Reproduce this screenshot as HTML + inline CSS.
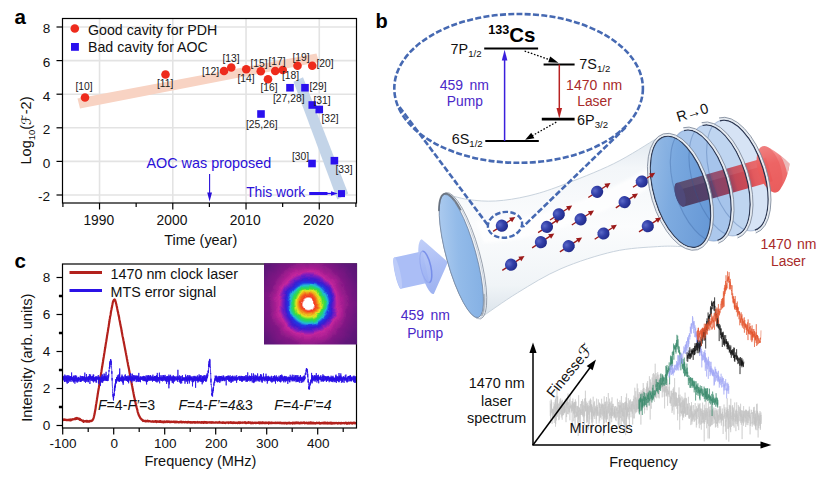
<!DOCTYPE html>
<html lang="en"><head><meta charset="utf-8"><title>Figure</title>
<style>html,body{margin:0;padding:0;background:#fff;}svg{display:block;}svg text{font-family:"Liberation Sans","DejaVu Sans",sans-serif;}svg .scr{font-family:"DejaVu Sans",sans-serif;font-style:italic;}</style></head><body>
<svg width="828" height="480" viewBox="0 0 828 480">
<rect width="828" height="480" fill="#fff"/>
<g id="panel-b">
<defs>
<linearGradient id="mirL" x1="0" y1="0" x2="1" y2="1">
 <stop offset="0" stop-color="#b6d1f1"/><stop offset="0.45" stop-color="#93bbe9"/><stop offset="1" stop-color="#80ade2"/>
</linearGradient>
<linearGradient id="mirR" x1="0" y1="0" x2="1" y2="1">
 <stop offset="0" stop-color="#9dc0e8"/><stop offset="0.4" stop-color="#76a6de"/><stop offset="1" stop-color="#5c90d2"/>
</linearGradient>
<linearGradient id="body" x1="0" y1="0" x2="0" y2="1">
 <stop offset="0" stop-color="#dfe7ee"/><stop offset="0.18" stop-color="#f3f6f9"/><stop offset="0.5" stop-color="#fbfcfd"/>
 <stop offset="0.82" stop-color="#f0f4f7"/><stop offset="1" stop-color="#d9e2ea"/>
</linearGradient>
<radialGradient id="atom" cx="0.4" cy="0.32" r="0.72">
 <stop offset="0" stop-color="#5b69c8"/><stop offset="0.45" stop-color="#3441aa"/><stop offset="1" stop-color="#1f2886"/>
</radialGradient>
<linearGradient id="redcyl" x1="0" y1="0" x2="0" y2="1">
 <stop offset="0" stop-color="#f08080"/><stop offset="0.35" stop-color="#e84848"/><stop offset="1" stop-color="#c02828"/>
</linearGradient>
<linearGradient id="redcone" x1="0" y1="0" x2="0" y2="1">
 <stop offset="0" stop-color="#f5a0a0"/><stop offset="0.4" stop-color="#ee6464"/><stop offset="1" stop-color="#e85252"/>
</linearGradient>
<linearGradient id="bluecone" x1="0" y1="0" x2="0" y2="1">
 <stop offset="0" stop-color="#bccbf8"/><stop offset="0.5" stop-color="#a5b9f4"/><stop offset="1" stop-color="#97adf0"/>
</linearGradient>
<linearGradient id="beamramp" x1="0" y1="0" x2="93" y2="0" gradientUnits="userSpaceOnUse">
 <stop offset="0" stop-color="#4b4268"/><stop offset="0.33" stop-color="#56406a"/><stop offset="0.40" stop-color="#8a4468"/>
 <stop offset="0.55" stop-color="#96425f"/><stop offset="0.62" stop-color="#c24858"/><stop offset="0.76" stop-color="#cf4c55"/>
 <stop offset="0.82" stop-color="#e35a5e"/><stop offset="1" stop-color="#ee6464"/>
</linearGradient>
<linearGradient id="mirhl" x1="0" y1="0" x2="1" y2="1">
 <stop offset="0" stop-color="#ffffff" stop-opacity="0.32"/><stop offset="0.5" stop-color="#ffffff" stop-opacity="0.05"/><stop offset="1" stop-color="#1c4f9c" stop-opacity="0.12"/>
</linearGradient>
<filter id="soft" x="-10%" y="-10%" width="120%" height="120%"><feGaussianBlur stdDeviation="0.7"/></filter>
<filter id="soft2" x="-10%" y="-10%" width="120%" height="120%"><feGaussianBlur stdDeviation="1.6"/></filter>
</defs>
<g transform="translate(397.5,273.2) rotate(-12.4)"><path d="M0,-16 L29,-16 L29,16 L0,16 A2.6,16 0 0 1 0,-16 Z" fill="#abbef6"/><ellipse cx="0.3" cy="0" rx="2.6" ry="16" fill="#bccbf8"/><path d="M31,-28 C37,-20 46,-8 51.5,0 C46,8 37,20 31,28 A7.5,28 0 0 1 31,-28 Z" fill="url(#bluecone)" opacity="0.93"/><path d="M29,-16 A5,16 0 0 1 29,16" fill="none" stroke="#6f86e6" stroke-width="1.5" opacity="0.85"/><path d="M29,-16 A5,16 0 0 0 29,16" fill="none" stroke="#8ea2ee" stroke-width="1" opacity="0.7"/></g>
<path d="M444.3,193.6 C448.2,194.6 459.4,198.3 468.0,199.5 C476.6,200.7 485.6,201.6 495.6,201.0 C505.6,200.4 517.1,198.6 528.0,196.0 C538.9,193.4 546.7,191.0 561.0,185.6 C575.3,180.2 597.6,171.6 613.7,163.7 C629.8,155.8 649.2,142.8 657.5,138.0 C665.8,133.2 662.7,135.6 663.7,135.1 L697.3,248.5 C694.4,248.2 686.6,246.8 680.0,246.5 C673.4,246.2 668.5,245.8 657.5,246.6 C646.5,247.4 629.8,247.8 613.7,251.5 C597.6,255.2 577.0,261.8 561.0,268.7 C545.0,275.6 531.0,284.5 517.5,292.8 C504.0,301.1 486.1,314.1 479.8,318.3 Z" fill="url(#body)"/>
<path d="M476,221 C530,223 590,202 652,166 L657,184 C600,216 540,240 484,243 Z" fill="#ffffff" opacity="0.8" filter="url(#soft2)"/>
<path d="M444.3,193.6 C448.2,194.6 459.4,198.3 468.0,199.5 C476.6,200.7 485.6,201.6 495.6,201.0 C505.6,200.4 517.1,198.6 528.0,196.0 C538.9,193.4 546.7,191.0 561.0,185.6 C575.3,180.2 597.6,171.6 613.7,163.7 C629.8,155.8 649.2,142.8 657.5,138.0 C665.8,133.2 662.7,135.6 663.7,135.1" fill="none" stroke="#c9d3dd" stroke-width="1"/>
<path d="M697.3,248.5 C694.4,248.2 686.6,246.8 680.0,246.5 C673.4,246.2 668.5,245.8 657.5,246.6 C646.5,247.4 629.8,247.8 613.7,251.5 C597.6,255.2 577.0,261.8 561.0,268.7 C545.0,275.6 531.0,284.5 517.5,292.8 C504.0,301.1 486.1,314.1 479.8,318.3" fill="none" stroke="#c9d3dd" stroke-width="1"/>
<ellipse transform="translate(737.4,175.5) rotate(-17.7)" cx="0" cy="0" rx="26.6" ry="57.5" fill="#d2e0f4" fill-opacity="0.9"/>
<ellipse transform="translate(719.6,180.3) rotate(-17.3)" cx="0" cy="0" rx="26.6" ry="57.5" fill="#bdd3ef" fill-opacity="0.9"/>
<ellipse transform="translate(700.8,185.5) rotate(-16.9)" cx="0" cy="0" rx="26.6" ry="57.5" fill="#a3c2ea" fill-opacity="0.9"/>
<ellipse transform="translate(680.5,191.8) rotate(-16.5)" cx="0" cy="0" rx="26.6" ry="57.5" fill="url(#mirR)" fill-opacity="0.94"/>
<g transform="translate(680,194.8) rotate(-15.9)"><path d="M0,-12.3 L93,-12.3 L93,12.3 L0,12.3 A4.6,12.3 0 0 1 0,-12.3 Z" fill="url(#beamramp)"/><path d="M0,-12.3 L93,-12.3 L93,-5 L0,-5 Z" fill="#ffffff" opacity="0.08"/><ellipse cx="0.2" cy="0" rx="4.6" ry="12.3" fill="#504a7c" opacity="0.85"/></g>
<g transform="translate(769.5,169.3) rotate(-17)"><path d="M5.5,-21.2 C12,-15 17,-7 20.8,0.6 C17.5,8 12.5,16 5.5,21.2 A11.3,24 0 1 1 5.5,-21.2 Z" fill="url(#redcone)" opacity="0.9"/><ellipse cx="0" cy="0" rx="11.3" ry="24" fill="#ea5656" opacity="0.5"/><path d="M14.5,-10 C17,-6 19,-3 20.8,0.6 C19,4 17.5,7 15.5,10 C16.5,4 16,-4 14.5,-10 Z" fill="#e8d2d2" opacity="0.75"/></g>
<g transform="translate(737.4,175.5) rotate(-17.7)" fill="none"><path d="M0,-57.5 A26.6,57.5 0 0 1 0,57.5" stroke="#2a3550" stroke-width="1.4"/><path d="M0,-59.1 A28.200000000000003,59.1 0 0 1 0,59.1" stroke="#e6ebf1" stroke-width="2"/><path d="M0,-60.4 A29.5,60.4 0 0 1 0,60.4" stroke="#7f8a9b" stroke-width="0.8"/><path d="M0,-57.5 A26.6,57.5 0 0 0 0,57.5" stroke="#2f5596" stroke-width="1.1" opacity="0.30"/></g>
<g transform="translate(719.6,180.3) rotate(-17.3)" fill="none"><path d="M0,-57.5 A26.6,57.5 0 0 1 0,57.5" stroke="#2a3550" stroke-width="1.4"/><path d="M0,-59.1 A28.200000000000003,59.1 0 0 1 0,59.1" stroke="#e6ebf1" stroke-width="2"/><path d="M0,-60.4 A29.5,60.4 0 0 1 0,60.4" stroke="#7f8a9b" stroke-width="0.8"/><path d="M0,-57.5 A26.6,57.5 0 0 0 0,57.5" stroke="#2f5596" stroke-width="1.1" opacity="0.30"/></g>
<g transform="translate(700.8,185.5) rotate(-16.9)" fill="none"><path d="M0,-57.5 A26.6,57.5 0 0 1 0,57.5" stroke="#2a3550" stroke-width="1.4"/><path d="M0,-59.1 A28.200000000000003,59.1 0 0 1 0,59.1" stroke="#e6ebf1" stroke-width="2"/><path d="M0,-60.4 A29.5,60.4 0 0 1 0,60.4" stroke="#7f8a9b" stroke-width="0.8"/><path d="M0,-57.5 A26.6,57.5 0 0 0 0,57.5" stroke="#2f5596" stroke-width="1.1" opacity="0.30"/></g>
<g transform="translate(680.5,191.8) rotate(-16.5)" fill="none"><ellipse rx="26.6" ry="57.5" stroke="#303c56" stroke-width="1.4"/><ellipse rx="28.200000000000003" ry="59.1" stroke="#e6ebf1" stroke-width="2"/><ellipse rx="29.5" ry="60.4" stroke="#7f8a9b" stroke-width="0.8"/></g>
<g transform="translate(461.3,256) rotate(-15.4)"><ellipse cx="1.9" cy="0.3" rx="16.5" ry="65.4" fill="#f3f5f8" stroke="#8a93a1" stroke-width="0.8"/><ellipse cx="1.1" cy="0.2" rx="15.8" ry="64.8" fill="none" stroke="#c9d1db" stroke-width="0.9"/><ellipse cx="0" cy="0" rx="14.8" ry="63.8" fill="url(#mirL)"/><ellipse cx="0" cy="0" rx="14.8" ry="63.8" fill="none" stroke="#6b7d99" stroke-width="0.7"/><path d="M-9.5,-50 A15.6,64.8 0 0 1 11.5,-45" fill="none" stroke="#5d6673" stroke-width="1.7" stroke-linecap="round" opacity="0.85"/><path d="M4,62.8 A15.6,64.8 0 0 0 11.8,43" fill="none" stroke="#8a929e" stroke-width="1.2" stroke-linecap="round" opacity="0.8"/></g>
<ellipse cx="518.6" cy="88.4" rx="124.3" ry="74.4" fill="none" stroke="#4669b2" stroke-width="2.6" stroke-dasharray="6 2.3" stroke-linecap="butt"/>
<path d="M399.5,107 L488.5,226" fill="none" stroke="#4669b2" stroke-width="2.6" stroke-dasharray="6 2.3" stroke-linecap="butt"/>
<path d="M625.5,127.5 L523,226.8" fill="none" stroke="#4669b2" stroke-width="2.6" stroke-dasharray="6 2.3" stroke-linecap="butt"/>
<ellipse cx="505" cy="224.8" rx="17.2" ry="12.8" transform="rotate(-9 505 224.8)" fill="none" stroke="#4669b2" stroke-width="2.4" stroke-dasharray="5.5 2.3"/>
<g transform="translate(501.9,225.7) rotate(-33)"><line x1="-10.5" y1="0" x2="11.5" y2="0" stroke="#9c1a1a" stroke-width="1.35"/><polygon points="10.4,-2.7 16,0 10.4,2.7" fill="#9c1a1a"/><circle cx="0" cy="0" r="6.1" fill="url(#atom)"/></g>
<g transform="translate(511.1,264.7) rotate(-33)"><line x1="-10.5" y1="0" x2="11.5" y2="0" stroke="#9c1a1a" stroke-width="1.35"/><polygon points="10.4,-2.7 16,0 10.4,2.7" fill="#9c1a1a"/><circle cx="0" cy="0" r="6.1" fill="url(#atom)"/></g>
<g transform="translate(540.9,242.2) rotate(-33)"><line x1="-10.5" y1="0" x2="11.5" y2="0" stroke="#9c1a1a" stroke-width="1.35"/><polygon points="10.4,-2.7 16,0 10.4,2.7" fill="#9c1a1a"/><circle cx="0" cy="0" r="6.1" fill="url(#atom)"/></g>
<g transform="translate(546.9,226.9) rotate(-33)"><line x1="-10.5" y1="0" x2="11.5" y2="0" stroke="#9c1a1a" stroke-width="1.35"/><polygon points="10.4,-2.7 16,0 10.4,2.7" fill="#9c1a1a"/><circle cx="0" cy="0" r="6.1" fill="url(#atom)"/></g>
<g transform="translate(558.8,214.3) rotate(-33)"><line x1="-10.5" y1="0" x2="11.5" y2="0" stroke="#9c1a1a" stroke-width="1.35"/><polygon points="10.4,-2.7 16,0 10.4,2.7" fill="#9c1a1a"/><circle cx="0" cy="0" r="6.1" fill="url(#atom)"/></g>
<g transform="translate(568.7,246.1) rotate(-33)"><line x1="-10.5" y1="0" x2="11.5" y2="0" stroke="#9c1a1a" stroke-width="1.35"/><polygon points="10.4,-2.7 16,0 10.4,2.7" fill="#9c1a1a"/><circle cx="0" cy="0" r="6.1" fill="url(#atom)"/></g>
<g transform="translate(580.6,219.3) rotate(-33)"><line x1="-10.5" y1="0" x2="11.5" y2="0" stroke="#9c1a1a" stroke-width="1.35"/><polygon points="10.4,-2.7 16,0 10.4,2.7" fill="#9c1a1a"/><circle cx="0" cy="0" r="6.1" fill="url(#atom)"/></g>
<g transform="translate(597.1,191.8) rotate(-33)"><line x1="-10.5" y1="0" x2="11.5" y2="0" stroke="#9c1a1a" stroke-width="1.35"/><polygon points="10.4,-2.7 16,0 10.4,2.7" fill="#9c1a1a"/><circle cx="0" cy="0" r="6.1" fill="url(#atom)"/></g>
<g transform="translate(603.5,233.5) rotate(-33)"><line x1="-10.5" y1="0" x2="11.5" y2="0" stroke="#9c1a1a" stroke-width="1.35"/><polygon points="10.4,-2.7 16,0 10.4,2.7" fill="#9c1a1a"/><circle cx="0" cy="0" r="6.1" fill="url(#atom)"/></g>
<g transform="translate(624.6,202.1) rotate(-33)"><line x1="-10.5" y1="0" x2="11.5" y2="0" stroke="#9c1a1a" stroke-width="1.35"/><polygon points="10.4,-2.7 16,0 10.4,2.7" fill="#9c1a1a"/><circle cx="0" cy="0" r="6.1" fill="url(#atom)"/></g>
<g transform="translate(641.8,181.5) rotate(-33)"><line x1="-10.5" y1="0" x2="11.5" y2="0" stroke="#9c1a1a" stroke-width="1.35"/><polygon points="10.4,-2.7 16,0 10.4,2.7" fill="#9c1a1a"/><circle cx="0" cy="0" r="6.1" fill="url(#atom)"/></g>
<g transform="translate(647.8,226.2) rotate(-33)"><line x1="-10.5" y1="0" x2="11.5" y2="0" stroke="#9c1a1a" stroke-width="1.35"/><polygon points="10.4,-2.7 16,0 10.4,2.7" fill="#9c1a1a"/><circle cx="0" cy="0" r="6.1" fill="url(#atom)"/></g>
<line x1="484.2" y1="48.5" x2="538.1" y2="48.5" stroke="#000" stroke-width="2"/>
<line x1="543.6" y1="64.5" x2="574.6" y2="64.5" stroke="#000" stroke-width="2"/>
<line x1="541.8" y1="119.2" x2="574.6" y2="119.2" stroke="#000" stroke-width="2.7"/>
<line x1="485.3" y1="141.1" x2="538.8" y2="141.1" stroke="#000" stroke-width="2"/>
<line x1="504.6" y1="141" x2="504.6" y2="58" stroke="#3a1fdc" stroke-width="1.5"/>
<polygon points="501.8,60.5 507.4,60.5 504.6,49.8" fill="#3a1fdc"/>
<line x1="559.3" y1="64.5" x2="559.3" y2="110" stroke="#b82222" stroke-width="1.5"/>
<polygon points="556.5,108 562.1,108 559.3,118.6" fill="#b82222"/>
<line x1="524.6" y1="51" x2="551" y2="60.2" stroke="#000" stroke-width="1.3" stroke-dasharray="1.6 1.7"/>
<polygon points="550.2,56.6 558.4,62.8 548.2,62.3" fill="#000"/>
<line x1="556.3" y1="122.1" x2="532" y2="135.9" stroke="#000" stroke-width="1.3" stroke-dasharray="1.6 1.7"/>
<polygon points="531.2,132.8 525.2,139.8 534.4,138.3" fill="#000"/>
<text x="450.6" y="54" font-size="14.4" fill="#111">7P<tspan font-size="9.6" dy="3">1/2</tspan></text>
<text x="579.3" y="69" font-size="14.4" fill="#111">7S<tspan font-size="9.6" dy="3">1/2</tspan></text>
<text x="577.1" y="124.5" font-size="14.4" fill="#111">6P<tspan font-size="9.6" dy="3">3/2</tspan></text>
<text x="451.7" y="144.3" font-size="14.4" fill="#111">6S<tspan font-size="9.6" dy="3">1/2</tspan></text>
<text x="488.2" y="42" font-size="20.5" font-weight="bold" fill="#000"><tspan font-size="12.6" dy="-7.6">133</tspan><tspan dy="7.6">Cs</tspan></text>
<text x="464.3" y="90" font-size="14" fill="#4a28c8" text-anchor="middle" word-spacing="2.5">459 nm</text>
<text x="464.8" y="105.7" font-size="13.8" fill="#4a28c8" text-anchor="middle" >Pump</text>
<text x="594.1" y="90" font-size="14" fill="#a82a2a" text-anchor="middle" word-spacing="1.5">1470 nm</text>
<text x="594.5" y="105.7" font-size="13.8" fill="#a82a2a" text-anchor="middle" >Laser</text>
<text transform="translate(693.8,117.3) rotate(-17)" font-size="14.4" fill="#111" text-anchor="middle">R→0</text>
<text x="425.3" y="320" font-size="14" fill="#4a28c8" text-anchor="middle" word-spacing="2.5">459 nm</text>
<text x="425.2" y="337.7" font-size="13.8" fill="#4a28c8" text-anchor="middle" >Pump</text>
<text x="788.5" y="248.8" font-size="14" fill="#a82a2a" text-anchor="middle" word-spacing="1.5">1470 nm</text>
<text x="788.3" y="266.4" font-size="13.8" fill="#a82a2a" text-anchor="middle" >Laser</text>
<path d="M550.0,400.8 L550.1,410.2 L550.2,410.8 L550.3,415.9 L550.4,410.4 L550.6,423.2 L550.7,403.7 L550.8,407.7 L550.9,414.5 L551.0,409.3 L551.1,399.4 L551.2,408.1 L551.3,413.0 L551.4,400.3 L551.5,408.7 L551.7,402.1 L551.8,412.1 L551.9,408.1 L552.0,415.5 L552.1,423.9 L552.2,421.3 L552.3,409.8 L552.4,409.3 L552.5,411.6 L552.6,417.0 L552.8,409.2 L552.9,412.7 L553.0,409.6 L553.1,413.9 L553.2,409.2 L553.3,412.6 L553.4,414.7 L553.5,412.4 L553.6,414.7 L553.7,406.5 L553.9,417.3 L554.0,402.3 L554.1,413.0 L554.2,421.8 L554.3,422.9 L554.4,411.9 L554.5,404.2 L554.6,407.1 L554.7,415.7 L554.8,414.9 L555.0,406.3 L555.1,408.9 L555.2,400.2 L555.3,417.7 L555.4,411.2 L555.5,426.7 L555.6,398.8 L555.7,424.1 L555.8,405.5 L555.9,411.8 L556.1,395.7 L556.2,399.2 L556.3,413.5 L556.4,407.7 L556.5,420.4 L556.6,407.8 L556.7,404.4 L556.8,416.2 L556.9,409.8 L557.0,387.0 L557.2,405.5 L557.3,416.8 L557.4,396.7 L557.5,412.8 L557.6,412.9 L557.7,396.1 L557.8,412.9 L557.9,413.6 L558.0,407.8 L558.1,411.9 L558.3,403.5 L558.4,403.5 L558.5,409.7 L558.6,409.1 L558.7,420.2 L558.8,407.1 L558.9,408.8 L559.0,404.0 L559.1,403.8 L559.2,406.9 L559.4,419.5 L559.5,410.1 L559.6,406.1 L559.7,401.7 L559.8,410.6 L559.9,407.1 L560.0,399.4 L560.1,399.3 L560.2,414.7 L560.3,406.2 L560.5,402.6 L560.6,401.2 L560.7,398.3 L560.8,406.1 L560.9,414.0 L561.0,410.7 L561.1,406.5 L561.2,403.2 L561.3,417.5 L561.4,413.4 L561.6,400.9 L561.7,409.8 L561.8,415.7 L561.9,412.8 L562.0,402.3 L562.1,411.6 L562.2,419.7 L562.3,399.8 L562.4,415.6 L562.5,407.2 L562.7,407.8 L562.8,406.6 L562.9,407.8 L563.0,415.2 L563.1,403.5 L563.2,409.4 L563.3,408.9 L563.4,407.4 L563.5,403.6 L563.6,415.1 L563.8,408.6 L563.9,412.6 L564.0,405.2 L564.1,408.0 L564.2,413.5 L564.3,402.1 L564.4,412.9 L564.5,405.7 L564.6,411.1 L564.7,406.6 L564.9,411.7 L565.0,403.3 L565.1,412.6 L565.2,409.2 L565.3,398.8 L565.4,408.4 L565.5,410.0 L565.6,409.7 L565.7,410.3 L565.8,412.4 L566.0,422.2 L566.1,414.3 L566.2,401.8 L566.3,405.3 L566.4,397.9 L566.5,405.6 L566.6,417.1 L566.7,402.2 L566.8,403.1 L566.9,404.7 L567.1,408.4 L567.2,398.6 L567.3,405.4 L567.4,399.3 L567.5,414.1 L567.6,403.5 L567.7,402.5 L567.8,404.7 L567.9,402.4 L568.0,393.5 L568.2,401.6 L568.3,405.5 L568.4,414.3 L568.5,402.2 L568.6,406.7 L568.7,409.7 L568.8,411.7 L568.9,407.4 L569.0,407.3 L569.1,407.6 L569.3,405.7 L569.4,412.5 L569.5,408.6 L569.6,409.9 L569.7,399.2 L569.8,417.0 L569.9,420.4 L570.0,414.7 L570.1,395.2 L570.2,406.9 L570.4,406.6 L570.5,407.2 L570.6,406.0 L570.7,408.4 L570.8,403.6 L570.9,405.9 L571.0,408.6 L571.1,404.7 L571.2,406.0 L571.3,412.6 L571.5,409.1 L571.6,405.2 L571.7,411.1 L571.8,409.5 L571.9,407.8 L572.0,401.1 L572.1,406.4 L572.2,426.7 L572.3,412.1 L572.4,401.4 L572.6,411.1 L572.7,403.8 L572.8,408.8 L572.9,398.5 L573.0,407.4 L573.1,407.1 L573.2,404.5 L573.3,413.5 L573.4,411.6 L573.5,403.2 L573.7,416.5 L573.8,421.3 L573.9,402.3 L574.0,406.7 L574.1,414.6 L574.2,405.4 L574.3,413.3 L574.4,411.3 L574.5,402.1 L574.6,417.9 L574.8,401.8 L574.9,407.1 L575.0,404.1 L575.1,428.3 L575.2,415.2 L575.3,416.9 L575.4,399.3 L575.5,407.9 L575.6,401.9 L575.7,409.5 L575.9,413.3 L576.0,401.5 L576.1,417.4 L576.2,407.0 L576.3,406.3 L576.4,410.8 L576.5,411.0 L576.6,416.9 L576.7,412.0 L576.8,415.3 L577.0,416.4 L577.1,411.7 L577.2,405.8 L577.3,406.9 L577.4,406.5 L577.5,416.2 L577.6,413.9 L577.7,406.5 L577.8,422.9 L577.9,413.7 L578.1,406.6 L578.2,436.0 L578.3,410.3 L578.4,411.2 L578.5,412.2 L578.6,397.2 L578.7,395.2 L578.8,420.3 L578.9,411.3 L579.0,418.7 L579.2,416.9 L579.3,407.2 L579.4,411.6 L579.5,408.1 L579.6,415.5 L579.7,422.4 L579.8,415.6 L579.9,414.1 L580.0,413.1 L580.1,415.1 L580.3,409.9 L580.4,427.6 L580.5,410.6 L580.6,404.2 L580.7,414.6 L580.8,409.3 L580.9,413.4 L581.0,408.6 L581.1,404.2 L581.2,405.4 L581.4,401.2 L581.5,413.1 L581.6,411.8 L581.7,415.0 L581.8,406.5 L581.9,401.0 L582.0,402.1 L582.1,414.9 L582.2,414.8 L582.3,410.1 L582.5,399.2 L582.6,408.9 L582.7,415.6 L582.8,405.3 L582.9,416.6 L583.0,409.0 L583.1,411.3 L583.2,401.5 L583.3,405.4 L583.4,420.9 L583.6,420.8 L583.7,405.3 L583.8,407.9 L583.9,417.5 L584.0,417.3 L584.1,411.4 L584.2,418.1 L584.3,425.4 L584.4,405.0 L584.5,398.5 L584.7,415.9 L584.8,406.3 L584.9,408.1 L585.0,408.6 L585.1,408.4 L585.2,403.7 L585.3,410.8 L585.4,390.7 L585.5,411.4 L585.6,398.0 L585.8,404.5 L585.9,408.8 L586.0,411.5 L586.1,409.8 L586.2,404.7 L586.3,403.9 L586.4,405.4 L586.5,409.0 L586.6,422.8 L586.7,401.6 L586.9,411.5 L587.0,420.6 L587.1,406.6 L587.2,414.7 L587.3,418.3 L587.4,403.1 L587.5,422.2 L587.6,412.2 L587.7,405.8 L587.8,410.5 L588.0,412.7 L588.1,405.1 L588.2,412.3 L588.3,429.7 L588.4,415.7 L588.5,409.1 L588.6,406.7 L588.7,410.7 L588.8,414.8 L588.9,404.5 L589.1,400.9 L589.2,410.5 L589.3,414.8 L589.4,424.1 L589.5,418.9 L589.6,406.0 L589.7,410.5 L589.8,419.5 L589.9,399.7 L590.0,400.3 L590.2,412.2 L590.3,401.9 L590.4,407.0 L590.5,398.5 L590.6,409.5 L590.7,410.6 L590.8,406.4 L590.9,412.3 L591.0,399.8 L591.1,408.4 L591.3,410.0 L591.4,416.3 L591.5,404.1 L591.6,422.7 L591.7,405.8 L591.8,419.5 L591.9,404.8 L592.0,407.5 L592.1,406.7 L592.2,429.5 L592.4,407.3 L592.5,413.1 L592.6,413.3 L592.7,410.9 L592.8,422.4 L592.9,409.7 L593.0,410.8 L593.1,400.5 L593.2,396.7 L593.3,413.3 L593.5,415.9 L593.6,411.5 L593.7,415.3 L593.8,404.1 L593.9,402.5 L594.0,417.1 L594.1,412.1 L594.2,413.5 L594.3,419.0 L594.4,409.7 L594.6,401.3 L594.7,412.0 L594.8,414.3 L594.9,407.9 L595.0,412.7 L595.1,411.1 L595.2,415.7 L595.3,406.6 L595.4,411.0 L595.5,408.9 L595.7,409.3 L595.8,408.9 L595.9,405.8 L596.0,408.4 L596.1,419.3 L596.2,408.8 L596.3,423.8 L596.4,404.6 L596.5,403.9 L596.6,398.6 L596.8,413.1 L596.9,407.0 L597.0,415.6 L597.1,412.4 L597.2,404.8 L597.3,414.1 L597.4,406.9 L597.5,415.4 L597.6,409.9 L597.7,411.7 L597.9,411.4 L598.0,414.6 L598.1,416.2 L598.2,405.5 L598.3,399.3 L598.4,400.6 L598.5,404.6 L598.6,404.4 L598.7,409.4 L598.8,414.9 L599.0,415.6 L599.1,411.8 L599.2,423.4 L599.3,408.7 L599.4,402.5 L599.5,407.9 L599.6,403.3 L599.7,420.5 L599.8,421.1 L599.9,407.9 L600.1,407.1 L600.2,413.9 L600.3,408.7 L600.4,417.7 L600.5,411.5 L600.6,411.3 L600.7,403.7 L600.8,410.2 L600.9,417.4 L601.0,409.3 L601.2,405.3 L601.3,404.8 L601.4,407.9 L601.5,414.5 L601.6,398.8 L601.7,403.3 L601.8,408.1 L601.9,404.8 L602.0,419.4 L602.1,413.3 L602.3,413.3 L602.4,403.9 L602.5,408.7 L602.6,409.2 L602.7,416.2 L602.8,407.9 L602.9,403.5 L603.0,414.6 L603.1,404.8 L603.2,409.2 L603.4,411.5 L603.5,435.6 L603.6,419.9 L603.7,416.7 L603.8,404.5 L603.9,424.3 L604.0,407.9 L604.1,423.1 L604.2,396.3 L604.3,414.1 L604.5,411.2 L604.6,418.5 L604.7,411.4 L604.8,410.4 L604.9,402.0 L605.0,416.9 L605.1,416.3 L605.2,403.9 L605.3,408.6 L605.4,404.7 L605.6,401.6 L605.7,419.6 L605.8,410.4 L605.9,406.6 L606.0,413.2 L606.1,422.3 L606.2,410.6 L606.3,414.1 L606.4,422.3 L606.5,397.0 L606.7,417.1 L606.8,409.4 L606.9,419.5 L607.0,414.0 L607.1,410.5 L607.2,401.5 L607.3,402.5 L607.4,419.2 L607.5,418.1 L607.6,407.5 L607.8,407.7 L607.9,406.1 L608.0,413.8 L608.1,409.3 L608.2,409.3 L608.3,393.0 L608.4,406.5 L608.5,411.0 L608.6,412.9 L608.7,404.0 L608.9,410.7 L609.0,421.5 L609.1,422.6 L609.2,412.4 L609.3,404.1 L609.4,398.6 L609.5,406.9 L609.6,416.1 L609.7,412.1 L609.8,402.0 L610.0,424.6 L610.1,410.5 L610.2,402.9 L610.3,408.1 L610.4,415.2 L610.5,412.2 L610.6,413.7 L610.7,418.4 L610.8,407.9 L610.9,410.4 L611.1,405.3 L611.2,401.2 L611.3,415.9 L611.4,405.7 L611.5,418.5 L611.6,408.3 L611.7,422.2 L611.8,410.6 L611.9,402.9 L612.0,397.3 L612.2,416.3 L612.3,408.3 L612.4,412.6 L612.5,415.9 L612.6,403.8 L612.7,409.4 L612.8,408.3 L612.9,413.4 L613.0,406.1 L613.1,407.1 L613.3,403.9 L613.4,415.1 L613.5,412.8 L613.6,412.4 L613.7,412.4 L613.8,416.5 L613.9,415.3 L614.0,418.4 L614.1,409.8 L614.2,415.3 L614.4,407.0 L614.5,416.9 L614.6,408.8 L614.7,417.7 L614.8,406.2 L614.9,410.7 L615.0,412.4 L615.1,417.4 L615.2,413.1 L615.3,408.3 L615.5,406.1 L615.6,417.3 L615.7,420.1 L615.8,413.9 L615.9,411.6 L616.0,419.8 L616.1,421.2 L616.2,419.7 L616.3,418.4 L616.4,408.6 L616.6,410.8 L616.7,406.6 L616.8,409.7 L616.9,417.9 L617.0,413.9 L617.1,407.6 L617.2,414.9 L617.3,416.8 L617.4,398.7 L617.5,402.9 L617.7,405.1 L617.8,406.2 L617.9,413.7 L618.0,412.1 L618.1,415.0 L618.2,424.3 L618.3,410.1 L618.4,426.4 L618.5,419.1 L618.6,402.0 L618.8,406.6 L618.9,405.1 L619.0,413.3 L619.1,410.1 L619.2,405.3 L619.3,413.3 L619.4,419.6 L619.5,418.7 L619.6,405.9 L619.7,424.9 L619.9,400.3 L620.0,402.0 L620.1,413.7 L620.2,402.3 L620.3,411.7 L620.4,415.3 L620.5,418.1 L620.6,405.3 L620.7,407.4 L620.8,405.4 L621.0,407.8 L621.1,410.5 L621.2,424.8 L621.3,405.9 L621.4,396.0 L621.5,405.1 L621.6,411.0 L621.7,412.0 L621.8,403.6 L621.9,420.4 L622.1,407.7 L622.2,413.0 L622.3,417.6 L622.4,421.5 L622.5,402.7 L622.6,407.6 L622.7,416.1 L622.8,409.4 L622.9,415.0 L623.0,415.4 L623.2,412.8 L623.3,407.8 L623.4,409.5 L623.5,403.0 L623.6,423.3 L623.7,414.8 L623.8,403.6 L623.9,417.0 L624.0,411.6 L624.1,424.3 L624.3,412.2 L624.4,408.3 L624.5,411.3 L624.6,432.6 L624.7,402.5 L624.8,407.4 L624.9,409.4 L625.0,405.7 L625.1,409.6 L625.2,402.0 L625.4,410.1 L625.5,404.7 L625.6,417.3 L625.7,435.2 L625.8,401.7 L625.9,404.4 L626.0,397.3 L626.1,431.0 L626.2,401.2 L626.3,426.7 L626.5,413.4 L626.6,393.5 L626.7,419.0 L626.8,409.8 L626.9,405.9 L627.0,403.0 L627.1,408.6 L627.2,415.4 L627.3,408.2 L627.4,415.8 L627.6,406.9 L627.7,413.5 L627.8,417.3 L627.9,413.1 L628.0,404.5 L628.1,412.3 L628.2,410.8 L628.3,398.2 L628.4,400.1 L628.5,412.0 L628.7,408.1 L628.8,411.3 L628.9,419.6 L629.0,413.8 L629.1,415.1 L629.2,414.8 L629.3,401.3 L629.4,427.8 L629.5,406.5 L629.6,409.1 L629.8,400.1 L629.9,405.5 L630.0,407.8 L630.1,409.7 L630.2,410.1 L630.3,411.7 L630.4,399.4 L630.5,409.1 L630.6,408.4 L630.7,409.9 L630.9,407.5 L631.0,417.3 L631.1,404.5 L631.2,411.2 L631.3,407.9 L631.4,404.4 L631.5,411.7 L631.6,401.4 L631.7,407.8 L631.8,409.1 L632.0,404.0 L632.1,405.6 L632.2,402.0 L632.3,413.6 L632.4,411.3 L632.5,401.2 L632.6,405.1 L632.7,424.5 L632.8,406.0 L632.9,403.5 L633.1,406.7 L633.2,405.4 L633.3,418.4 L633.4,398.9 L633.5,406.0 L633.6,406.9 L633.7,409.3 L633.8,401.2 L633.9,395.6 L634.0,407.2 L634.2,409.2 L634.3,404.7 L634.4,418.4 L634.5,417.9 L634.6,415.5 L634.7,405.7 L634.8,387.7 L634.9,411.5 L635.0,397.2 L635.1,400.2 L635.3,408.2 L635.4,413.4 L635.5,402.0 L635.6,397.6 L635.7,398.8 L635.8,391.2 L635.9,411.9 L636.0,401.6 L636.1,398.8 L636.2,397.4 L636.4,402.4 L636.5,412.4 L636.6,399.3 L636.7,409.3 L636.8,404.2 L636.9,410.1 L637.0,404.0 L637.1,395.8 L637.2,383.6 L637.3,398.0 L637.5,407.5 L637.6,409.1 L637.7,403.9 L637.8,394.4 L637.9,388.3 L638.0,406.8 L638.1,411.7 L638.2,393.9 L638.3,398.2 L638.4,411.3 L638.6,398.2 L638.7,404.9 L638.8,413.2 L638.9,398.8 L639.0,405.7 L639.1,405.4 L639.2,392.0 L639.3,409.1 L639.4,397.5 L639.5,406.3 L639.7,398.2 L639.8,411.0 L639.9,392.4 L640.0,410.2 L640.1,400.9 L640.2,396.2 L640.3,393.2 L640.4,404.4 L640.5,408.3 L640.6,401.2 L640.8,396.1 L640.9,424.6 L641.0,405.4 L641.1,390.3 L641.2,400.2 L641.3,392.5 L641.4,403.3 L641.5,399.8 L641.6,398.8 L641.7,407.4 L641.9,406.6 L642.0,394.3 L642.1,394.4 L642.2,395.5 L642.3,406.2 L642.4,396.1 L642.5,390.8 L642.6,397.9 L642.7,398.7 L642.8,408.5 L643.0,389.0 L643.1,401.4 L643.2,383.0 L643.3,387.9 L643.4,396.8 L643.5,393.2 L643.6,388.1 L643.7,402.0 L643.8,399.4 L643.9,406.0 L644.1,387.8 L644.2,402.3 L644.3,396.5 L644.4,393.5 L644.5,413.5 L644.6,407.7 L644.7,410.0 L644.8,398.6 L644.9,401.1 L645.0,398.9 L645.2,400.9 L645.3,394.8 L645.4,403.8 L645.5,396.3 L645.6,397.3 L645.7,399.9 L645.8,390.6 L645.9,389.7 L646.0,389.8 L646.1,389.0 L646.3,395.4 L646.4,394.0 L646.5,397.7 L646.6,387.3 L646.7,391.4 L646.8,386.7 L646.9,408.1 L647.0,382.8 L647.1,410.3 L647.2,399.0 L647.4,384.3 L647.5,398.9 L647.6,381.1 L647.7,388.6 L647.8,396.8 L647.9,399.5 L648.0,388.4 L648.1,394.5 L648.2,402.4 L648.3,387.8 L648.5,390.0 L648.6,389.3 L648.7,403.0 L648.8,400.3 L648.9,398.1 L649.0,394.0 L649.1,388.8 L649.2,386.6 L649.3,389.6 L649.4,376.2 L649.6,392.0 L649.7,394.9 L649.8,392.8 L649.9,399.8 L650.0,389.8 L650.1,397.2 L650.2,419.6 L650.3,393.4 L650.4,379.4 L650.5,383.0 L650.7,386.0 L650.8,389.7 L650.9,388.5 L651.0,382.4 L651.1,385.1 L651.2,405.2 L651.3,408.7 L651.4,387.4 L651.5,391.8 L651.6,391.1 L651.8,396.4 L651.9,392.7 L652.0,390.4 L652.1,377.5 L652.2,382.6 L652.3,390.4 L652.4,386.2 L652.5,388.6 L652.6,386.1 L652.7,382.6 L652.9,373.9 L653.0,399.0 L653.1,397.0 L653.2,398.3 L653.3,382.7 L653.4,377.4 L653.5,373.1 L653.6,385.8 L653.7,383.2 L653.8,387.4 L654.0,390.9 L654.1,383.4 L654.2,380.9 L654.3,384.6 L654.4,381.3 L654.5,402.0 L654.6,374.4 L654.7,384.8 L654.8,379.4 L654.9,386.4 L655.1,386.3 L655.2,363.7 L655.3,384.8 L655.4,397.6 L655.5,388.9 L655.6,383.8 L655.7,377.5 L655.8,382.2 L655.9,383.3 L656.0,373.0 L656.2,375.0 L656.3,387.1 L656.4,376.4 L656.5,378.9 L656.6,398.3 L656.7,381.7 L656.8,383.8 L656.9,381.9 L657.0,379.1 L657.1,386.9 L657.3,374.6 L657.4,381.0 L657.5,378.4 L657.6,381.7 L657.7,372.2 L657.8,374.2 L657.9,380.3 L658.0,380.9 L658.1,397.6 L658.2,381.5 L658.4,386.3 L658.5,375.9 L658.6,376.2 L658.7,374.6 L658.8,374.7 L658.9,376.0 L659.0,392.1 L659.1,386.1 L659.2,398.4 L659.3,385.0 L659.5,386.0 L659.6,378.9 L659.7,383.7 L659.8,377.4 L659.9,380.2 L660.0,390.4 L660.1,378.3 L660.2,383.6 L660.3,374.4 L660.4,376.4 L660.6,374.2 L660.7,386.1 L660.8,378.2 L660.9,386.1 L661.0,375.4 L661.1,387.5 L661.2,386.5 L661.3,379.9 L661.4,384.3 L661.5,381.0 L661.7,378.7 L661.8,388.2 L661.9,382.9 L662.0,381.8 L662.1,385.1 L662.2,397.4 L662.3,393.8 L662.4,386.5 L662.5,389.3 L662.6,382.6 L662.8,383.5 L662.9,392.4 L663.0,384.4 L663.1,374.9 L663.2,386.9 L663.3,376.1 L663.4,384.6 L663.5,391.4 L663.6,390.8 L663.7,384.8 L663.9,387.2 L664.0,385.2 L664.1,387.6 L664.2,396.8 L664.3,383.0 L664.4,386.6 L664.5,389.9 L664.6,408.4 L664.7,386.8 L664.8,391.5 L665.0,387.5 L665.1,390.8 L665.2,390.8 L665.3,392.4 L665.4,392.7 L665.5,382.9 L665.6,391.6 L665.7,388.0 L665.8,386.4 L665.9,395.1 L666.1,396.4 L666.2,395.1 L666.3,393.2 L666.4,386.0 L666.5,386.2 L666.6,392.5 L666.7,395.5 L666.8,386.8 L666.9,396.3 L667.0,379.2 L667.2,382.6 L667.3,392.6 L667.4,388.9 L667.5,395.5 L667.6,405.8 L667.7,397.0 L667.8,393.3 L667.9,390.4 L668.0,394.4 L668.1,393.5 L668.3,392.7 L668.4,394.1 L668.5,393.0 L668.6,393.8 L668.7,393.7 L668.8,390.9 L668.9,395.5 L669.0,386.6 L669.1,397.1 L669.2,383.4 L669.4,386.8 L669.5,392.9 L669.6,394.8 L669.7,395.7 L669.8,395.8 L669.9,401.2 L670.0,403.0 L670.1,399.6 L670.2,395.7 L670.3,403.7 L670.5,400.3 L670.6,402.5 L670.7,397.4 L670.8,400.7 L670.9,400.8 L671.0,390.8 L671.1,400.1 L671.2,405.9 L671.3,390.7 L671.4,392.6 L671.6,399.1 L671.7,399.3 L671.8,397.6 L671.9,401.8 L672.0,412.9 L672.1,394.4 L672.2,393.1 L672.3,397.6 L672.4,407.5 L672.5,410.6 L672.7,408.3 L672.8,393.2 L672.9,397.2 L673.0,388.8 L673.1,391.9 L673.2,394.9 L673.3,391.1 L673.4,406.7 L673.5,393.6 L673.6,387.4 L673.8,395.8 L673.9,402.1 L674.0,414.6 L674.1,392.3 L674.2,393.8 L674.3,398.9 L674.4,398.4 L674.5,405.5 L674.6,378.1 L674.7,394.8 L674.9,400.1 L675.0,401.0 L675.1,406.8 L675.2,392.7 L675.3,406.1 L675.4,401.4 L675.5,400.1 L675.6,398.7 L675.7,391.9 L675.8,406.3 L676.0,401.6 L676.1,402.6 L676.2,397.1 L676.3,401.1 L676.4,405.9 L676.5,392.7 L676.6,405.0 L676.7,403.2 L676.8,406.5 L676.9,408.8 L677.1,397.8 L677.2,405.8 L677.3,398.7 L677.4,399.1 L677.5,410.8 L677.6,420.3 L677.7,405.4 L677.8,404.4 L677.9,413.8 L678.0,398.0 L678.2,402.9 L678.3,401.9 L678.4,401.9 L678.5,394.7 L678.6,399.1 L678.7,403.1 L678.8,405.9 L678.9,404.2 L679.0,387.4 L679.1,398.0 L679.3,399.0 L679.4,405.2 L679.5,405.6 L679.6,400.3 L679.7,429.7 L679.8,397.1 L679.9,400.5 L680.0,394.6 L680.1,416.5 L680.2,398.3 L680.4,412.9 L680.5,403.8 L680.6,407.3 L680.7,404.0 L680.8,403.3 L680.9,404.7 L681.0,407.6 L681.1,403.3 L681.2,404.4 L681.3,402.0 L681.5,413.7 L681.6,410.9 L681.7,413.3 L681.8,396.3 L681.9,412.4 L682.0,415.6 L682.1,411.8 L682.2,408.6 L682.3,409.0 L682.4,410.0 L682.6,420.2 L682.7,400.3 L682.8,412.6 L682.9,397.5 L683.0,407.7 L683.1,400.5 L683.2,417.0 L683.3,405.4 L683.4,415.6 L683.5,410.9 L683.7,417.8 L683.8,411.6 L683.9,398.9 L684.0,409.6 L684.1,400.4 L684.2,409.7 L684.3,409.6 L684.4,413.1 L684.5,402.6 L684.6,413.8 L684.8,397.9 L684.9,413.1 L685.0,402.8 L685.1,392.6 L685.2,410.5 L685.3,416.3 L685.4,409.5 L685.5,407.3 L685.6,416.8 L685.7,403.5 L685.9,397.8 L686.0,400.7 L686.1,405.8 L686.2,406.4 L686.3,408.5 L686.4,414.9 L686.5,398.4 L686.6,401.1 L686.7,405.5 L686.8,407.7 L687.0,415.2 L687.1,410.7 L687.2,403.9 L687.3,405.3 L687.4,414.5 L687.5,414.5 L687.6,403.6 L687.7,410.5 L687.8,414.9 L687.9,406.7 L688.1,409.8 L688.2,406.7 L688.3,407.3 L688.4,396.8 L688.5,402.4 L688.6,406.3 L688.7,415.3 L688.8,417.7 L688.9,410.1 L689.0,418.8 L689.2,411.9 L689.3,410.7 L689.4,403.1 L689.5,418.7 L689.6,416.0 L689.7,414.9 L689.8,417.5 L689.9,410.6 L690.0,408.7 L690.1,411.1 L690.3,407.4 L690.4,406.7 L690.5,417.3 L690.6,416.6 L690.7,405.4 L690.8,425.1 L690.9,420.2 L691.0,414.5 L691.1,406.4 L691.2,414.6 L691.4,415.3 L691.5,402.1 L691.6,412.1 L691.7,421.7 L691.8,411.4 L691.9,424.4 L692.0,405.4 L692.1,412.1 L692.2,412.7 L692.3,416.4 L692.5,414.3 L692.6,413.7 L692.7,421.3 L692.8,411.4 L692.9,413.4 L693.0,418.8 L693.1,415.3 L693.2,419.8 L693.3,413.5 L693.4,417.2 L693.6,405.0 L693.7,408.4 L693.8,410.2 L693.9,416.4 L694.0,415.2 L694.1,418.1 L694.2,422.0 L694.3,413.6 L694.4,414.9 L694.5,409.6 L694.7,417.0 L694.8,421.0 L694.9,420.2 L695.0,412.0 L695.1,407.0 L695.2,403.1 L695.3,416.7 L695.4,411.1 L695.5,414.2 L695.6,409.4 L695.8,411.0 L695.9,420.0 L696.0,418.9 L696.1,414.5 L696.2,411.3 L696.3,427.5 L696.4,418.3 L696.5,406.3 L696.6,416.0 L696.7,425.1 L696.9,409.2 L697.0,410.6 L697.1,409.6 L697.2,411.2 L697.3,418.9 L697.4,408.9 L697.5,412.2 L697.6,408.0 L697.7,409.3 L697.8,410.2 L698.0,411.0 L698.1,403.4 L698.2,408.3 L698.3,407.7 L698.4,408.9 L698.5,417.1 L698.6,405.1 L698.7,413.8 L698.8,421.6 L698.9,423.7 L699.1,419.6 L699.2,417.1 L699.3,428.2 L699.4,404.2 L699.5,415.4 L699.6,422.3 L699.7,417.9 L699.8,413.8 L699.9,407.6 L700.0,403.2 L700.2,406.5 L700.3,417.9 L700.4,424.7 L700.5,408.6 L700.6,416.3 L700.7,416.1 L700.8,416.1 L700.9,408.4 L701.0,409.7 L701.1,415.7 L701.3,429.7 L701.4,410.8 L701.5,419.0 L701.6,423.9 L701.7,421.0 L701.8,421.9 L701.9,408.8 L702.0,413.3 L702.1,413.9 L702.2,412.9 L702.4,419.8 L702.5,408.2 L702.6,402.6 L702.7,422.8 L702.8,412.7 L702.9,418.8 L703.0,410.7 L703.1,423.5 L703.2,418.7 L703.3,416.4 L703.5,422.4 L703.6,417.0 L703.7,412.9 L703.8,416.8 L703.9,412.5 L704.0,410.0 L704.1,413.3 L704.2,441.4 L704.3,404.7 L704.4,419.3 L704.6,424.0 L704.7,418.1 L704.8,416.7 L704.9,410.7 L705.0,415.9 L705.1,422.2 L705.2,412.7 L705.3,408.1 L705.4,420.0 L705.5,413.9 L705.7,414.6 L705.8,411.9 L705.9,417.4 L706.0,394.0 L706.1,416.3 L706.2,419.9 L706.3,410.0 L706.4,410.3 L706.5,410.9 L706.6,428.3 L706.8,419.6 L706.9,407.9 L707.0,412.0 L707.1,416.3 L707.2,410.1 L707.3,408.5 L707.4,423.1 L707.5,411.7 L707.6,424.1 L707.7,419.5 L707.9,420.2 L708.0,435.0 L708.1,438.5 L708.2,421.5 L708.3,421.4 L708.4,402.6 L708.5,413.4 L708.6,423.6 L708.7,425.8 L708.8,420.8 L709.0,415.0 L709.1,407.0 L709.2,409.3 L709.3,417.1 L709.4,413.8 L709.5,438.5 L709.6,410.7 L709.7,415.8 L709.8,412.0 L709.9,409.3 L710.1,426.6 L710.2,406.0 L710.3,414.3 L710.4,419.7 L710.5,426.3 L710.6,421.3 L710.7,412.9 L710.8,410.0 L710.9,416.2 L711.0,415.1 L711.2,425.4 L711.3,402.9 L711.4,413.1 L711.5,413.5 L711.6,413.4 L711.7,425.1 L711.8,410.6 L711.9,414.9 L712.0,421.4 L712.1,414.9 L712.3,409.5 L712.4,423.1 L712.5,424.6 L712.6,421.1 L712.7,416.9 L712.8,408.8 L712.9,417.2 L713.0,417.6 L713.1,415.9 L713.2,412.7 L713.4,410.6 L713.5,412.7 L713.6,417.3 L713.7,407.5 L713.8,423.8 L713.9,415.5 L714.0,411.8 L714.1,414.8 L714.2,419.3 L714.3,410.4 L714.5,419.3 L714.6,413.6 L714.7,417.2 L714.8,419.2 L714.9,416.6 L715.0,423.0 L715.1,407.9 L715.2,409.6 L715.3,410.3 L715.4,427.5 L715.6,419.0 L715.7,421.6 L715.8,419.6 L715.9,416.9 L716.0,426.8 L716.1,410.2 L716.2,416.8 L716.3,410.5 L716.4,423.0 L716.5,422.0 L716.7,423.9 L716.8,410.7 L716.9,408.7 L717.0,411.0 L717.1,418.5 L717.2,419.7 L717.3,423.8 L717.4,413.1 L717.5,426.2 L717.6,410.5 L717.8,427.9 L717.9,415.1 L718.0,418.2 L718.1,415.9 L718.2,417.0 L718.3,422.7 L718.4,418.3 L718.5,414.8 L718.6,414.6 L718.7,420.8 L718.9,409.2 L719.0,409.1 L719.1,418.1 L719.2,420.0 L719.3,411.7 L719.4,406.1 L719.5,409.2 L719.6,417.5 L719.7,406.5 L719.8,423.4 L720.0,420.2 L720.1,417.9 L720.2,408.7 L720.3,419.7 L720.4,411.5 L720.5,418.8 L720.6,407.3 L720.7,406.2 L720.8,409.4 L720.9,411.4 L721.1,422.6 L721.2,416.9 L721.3,414.1 L721.4,425.6 L721.5,419.7 L721.6,413.5 L721.7,415.6 L721.8,420.9 L721.9,413.8 L722.0,417.0 L722.2,419.9 L722.3,408.5 L722.4,417.5 L722.5,411.8 L722.6,417.4 L722.7,420.4 L722.8,417.3 L722.9,418.6 L723.0,414.1 L723.1,434.0 L723.3,424.4 L723.4,418.7 L723.5,421.4 L723.6,426.4 L723.7,425.5 L723.8,415.9 L723.9,418.5 L724.0,404.5 L724.1,417.2 L724.2,415.0 L724.4,415.2 L724.5,415.6 L724.6,415.2 L724.7,409.1 L724.8,416.8 L724.9,418.7 L725.0,407.3 L725.1,414.2 L725.2,415.5 L725.3,426.4 L725.5,420.3 L725.6,420.4 L725.7,431.7 L725.8,412.8 L725.9,415.3 L726.0,421.7 L726.1,414.9 L726.2,412.1 L726.3,439.7 L726.4,425.3 L726.6,410.0 L726.7,417.4 L726.8,413.9 L726.9,408.1 L727.0,407.4 L727.1,416.8 L727.2,398.2 L727.3,416.2 L727.4,413.8 L727.5,418.4 L727.7,409.0 L727.8,428.7 L727.9,413.3 L728.0,408.9 L728.1,420.4 L728.2,417.9 L728.3,428.9 L728.4,415.2 L728.5,411.2 L728.6,413.3 L728.8,441.7 L728.9,413.6 L729.0,421.1 L729.1,423.9 L729.2,409.6 L729.3,404.8 L729.4,427.3 L729.5,420.9 L729.6,419.3 L729.7,416.7 L729.9,416.4 L730.0,406.2 L730.1,418.6 L730.2,405.2 L730.3,405.6 L730.4,429.6 L730.5,414.3 L730.6,410.1 L730.7,432.2 L730.8,398.7 L731.0,415.8 L731.1,415.4 L731.2,418.8 L731.3,418.6 L731.4,427.0 L731.5,426.6 L731.6,417.3 L731.7,415.9 L731.8,419.5 L731.9,412.3 L732.1,417.4 L732.2,406.3 L732.3,415.4 L732.4,416.0 L732.5,425.7 L732.6,405.1 L732.7,411.4 L732.8,421.2 L732.9,419.1 L733.0,408.5 L733.2,419.2 L733.3,407.4 L733.4,419.6 L733.5,410.2 L733.6,425.8 L733.7,418.4 L733.8,418.4 L733.9,419.6 L734.0,419.1 L734.1,427.6 L734.3,422.2 L734.4,413.5 L734.5,417.0 L734.6,414.3 L734.7,402.5 L734.8,412.8 L734.9,414.2 L735.0,422.4 L735.1,417.6 L735.2,416.5 L735.4,421.0 L735.5,417.9 L735.6,410.9 L735.7,420.9 L735.8,414.8 L735.9,431.2 L736.0,410.2 L736.1,424.0 L736.2,413.5 L736.3,409.2 L736.5,417.4 L736.6,412.9 L736.7,402.3 L736.8,421.6 L736.9,415.1 L737.0,418.6 L737.1,413.4 L737.2,416.1 L737.3,410.8 L737.4,424.3 L737.6,417.0 L737.7,426.3 L737.8,414.7 L737.9,418.8 L738.0,422.3 L738.1,418.1 L738.2,416.7 L738.3,405.1 L738.4,409.3 L738.5,415.3 L738.7,430.1 L738.8,423.6 L738.9,408.3 L739.0,406.5 L739.1,420.9 L739.2,411.8 L739.3,413.6 L739.4,414.5 L739.5,412.0 L739.6,407.9 L739.8,407.2 L739.9,415.7 L740.0,414.7 L740.1,415.7 L740.2,421.3 L740.3,410.9 L740.4,409.1 L740.5,417.3 L740.6,403.7 L740.7,422.6 L740.9,423.0 L741.0,410.2 L741.1,415.4 L741.2,420.1 L741.3,424.8 L741.4,419.7 L741.5,410.4 L741.6,417.4 L741.7,413.6 L741.8,421.2 L742.0,417.5 L742.1,439.1 L742.2,416.1 L742.3,421.3 L742.4,418.4 L742.5,422.7 L742.6,410.6 L742.7,418.2 L742.8,416.7 L742.9,410.7 L743.1,411.9 L743.2,420.2 L743.3,414.7 L743.4,415.2 L743.5,425.7 L743.6,406.1 L743.7,423.6 L743.8,414.8 L743.9,420.8 L744.0,411.3 L744.2,414.3 L744.3,416.9 L744.4,417.5 L744.5,415.6 L744.6,411.2 L744.7,415.3 L744.8,417.6 L744.9,422.4 L745.0,410.5 L745.1,416.1 L745.3,416.0 L745.4,416.8 L745.5,418.3 L745.6,409.8 L745.7,427.0 L745.8,418.5 L745.9,412.4 L746.0,409.5 L746.1,414.8 L746.2,421.7 L746.4,419.8 L746.5,410.0 L746.6,410.9 L746.7,421.5 L746.8,424.8 L746.9,410.6 L747.0,415.9 L747.1,415.6 L747.2,422.9 L747.3,413.5 L747.5,411.3 L747.6,415.6 L747.7,412.8 L747.8,420.1 L747.9,425.2 L748.0,414.5 L748.1,416.5 L748.2,423.1 L748.3,411.3 L748.4,412.7 L748.6,417.1 L748.7,410.5 L748.8,414.1 L748.9,412.4 L749.0,420.7 L749.1,411.8 L749.2,410.4 L749.3,406.6 L749.4,417.5 L749.5,414.6 L749.7,418.4 L749.8,409.4 L749.9,416.7 L750.0,424.1 L750.1,434.4 L750.2,416.7 L750.3,426.0 L750.4,417.1 L750.5,414.5 L750.6,414.3 L750.8,413.1 L750.9,420.7 L751.0,424.2 L751.1,415.9 L751.2,416.2 L751.3,414.1 L751.4,411.9 L751.5,409.8 L751.6,411.6 L751.7,414.0 L751.9,412.4 L752.0,423.1 L752.1,422.1 L752.2,426.7 L752.3,423.8 L752.4,420.7 L752.5,417.9 L752.6,418.2 L752.7,412.2 L752.8,417.5 L753.0,423.8 L753.1,412.1 L753.2,425.2 L753.3,423.1 L753.4,410.0 L753.5,411.9 L753.6,407.3 L753.7,418.5 L753.8,410.9 L753.9,411.1 L754.1,414.3 L754.2,422.2 L754.3,406.8 L754.4,423.6 L754.5,420.7 L754.6,425.4 L754.7,416.8 L754.8,423.8 L754.9,420.3 L755.0,410.6 L755.2,426.3 L755.3,421.8 L755.4,413.3 L755.5,428.8 L755.6,414.3 L755.7,426.2 L755.8,417.4 L755.9,430.1 L756.0,416.7 L756.1,422.7 L756.3,419.1 L756.4,419.3 L756.5,417.0 L756.6,404.2 L756.7,421.0 L756.8,421.0 L756.9,425.5 L757.0,410.7 L757.1,430.3 L757.2,403.6 L757.4,420.6 L757.5,410.9 L757.6,415.1 L757.7,411.9 L757.8,416.9 L757.9,415.6 L758.0,423.2 L758.1,437.5 L758.2,428.6 L758.3,413.4 L758.5,423.0 L758.6,428.3 L758.7,415.1 L758.8,423.6 L758.9,422.2 L759.0,416.3 L759.1,418.9 L759.2,426.0 L759.3,420.3 L759.4,418.5 L759.6,421.2 L759.7,413.4 L759.8,424.5 L759.9,419.7 L760.0,411.0 L760.1,417.8 L760.2,428.4 L760.3,415.4 L760.4,429.9 L760.5,421.1 L760.7,421.5 L760.8,419.5 L760.9,412.4 L761.0,416.3 L761.1,414.9 L761.2,423.9 L761.3,423.1 L761.4,416.5" stroke="#c2c2c2" fill="none" stroke-width="0.5" stroke-linejoin="round"/>
<path d="M638.8,399.6 L638.9,408.8 L639.1,406.7 L639.2,399.6 L639.3,402.6 L639.4,414.4 L639.6,398.3 L639.7,411.6 L639.8,407.1 L640.0,406.9 L640.1,406.4 L640.2,403.5 L640.4,402.7 L640.5,397.3 L640.6,402.2 L640.7,394.2 L640.9,401.4 L641.0,398.3 L641.1,411.1 L641.3,399.2 L641.4,404.9 L641.5,406.6 L641.7,406.5 L641.8,409.8 L641.9,403.3 L642.0,393.6 L642.2,403.5 L642.3,415.0 L642.4,398.5 L642.6,407.0 L642.7,399.7 L642.8,407.7 L643.0,402.5 L643.1,406.2 L643.2,403.4 L643.3,400.3 L643.5,396.0 L643.6,400.9 L643.7,399.1 L643.9,396.2 L644.0,391.9 L644.1,405.0 L644.3,401.2 L644.4,397.1 L644.5,398.7 L644.6,406.5 L644.8,393.0 L644.9,394.2 L645.0,398.9 L645.2,405.2 L645.3,397.9 L645.4,398.9 L645.6,396.5 L645.7,400.8 L645.8,400.9 L645.9,404.9 L646.1,397.4 L646.2,400.2 L646.3,399.7 L646.5,399.0 L646.6,400.6 L646.7,406.9 L646.9,393.4 L647.0,394.5 L647.1,399.3 L647.2,403.0 L647.4,402.9 L647.5,397.5 L647.6,394.8 L647.8,398.1 L647.9,398.0 L648.0,399.0 L648.2,392.2 L648.3,402.4 L648.4,400.3 L648.5,393.3 L648.7,394.4 L648.8,399.2 L648.9,397.9 L649.1,405.6 L649.2,390.6 L649.3,396.1 L649.5,398.5 L649.6,400.3 L649.7,399.4 L649.8,401.2 L650.0,399.4 L650.1,392.3 L650.2,390.8 L650.4,394.9 L650.5,393.3 L650.6,392.9 L650.8,399.2 L650.9,393.4 L651.0,391.9 L651.1,396.7 L651.3,397.6 L651.4,397.6 L651.5,394.9 L651.7,398.5 L651.8,395.6 L651.9,402.5 L652.1,391.2 L652.2,393.3 L652.3,400.1 L652.4,393.3 L652.6,394.4 L652.7,387.8 L652.8,394.1 L653.0,400.4 L653.1,384.9 L653.2,391.4 L653.4,394.9 L653.5,398.5 L653.6,390.9 L653.7,391.1 L653.9,390.8 L654.0,391.0 L654.1,395.3 L654.3,393.7 L654.4,395.1 L654.5,394.5 L654.7,390.5 L654.8,390.6 L654.9,390.2 L655.0,396.6 L655.2,390.7 L655.3,391.2 L655.4,393.1 L655.6,394.5 L655.7,389.5 L655.8,389.0 L656.0,384.3 L656.1,387.4 L656.2,379.3 L656.3,385.7 L656.5,391.3 L656.6,388.3 L656.7,389.3 L656.9,388.4 L657.0,391.0 L657.1,382.1 L657.3,383.7 L657.4,392.5 L657.5,386.5 L657.6,382.2 L657.8,386.0 L657.9,386.2 L658.0,386.2 L658.2,391.7 L658.3,394.1 L658.4,385.1 L658.6,382.8 L658.7,383.9 L658.8,382.5 L658.9,387.3 L659.1,390.0 L659.2,383.0 L659.3,379.6 L659.5,386.7 L659.6,386.5 L659.7,389.9 L659.9,384.4 L660.0,385.8 L660.1,388.6 L660.2,384.9 L660.4,378.0 L660.5,384.8 L660.6,390.9 L660.8,384.4 L660.9,373.5 L661.0,381.8 L661.2,384.7 L661.3,382.9 L661.4,383.7 L661.5,384.8 L661.7,385.1 L661.8,377.7 L661.9,381.9 L662.1,383.3 L662.2,386.6 L662.3,374.2 L662.5,382.6 L662.6,382.3 L662.7,375.6 L662.8,383.0 L663.0,384.3 L663.1,382.8 L663.2,384.9 L663.4,376.9 L663.5,381.4 L663.6,378.5 L663.8,377.9 L663.9,380.5 L664.0,381.3 L664.1,386.0 L664.3,383.1 L664.4,382.5 L664.5,377.5 L664.7,378.0 L664.8,384.8 L664.9,384.4 L665.1,376.2 L665.2,375.3 L665.3,375.7 L665.4,376.2 L665.6,374.2 L665.7,384.3 L665.8,365.9 L666.0,370.8 L666.1,383.0 L666.2,374.4 L666.4,380.3 L666.5,374.0 L666.6,366.7 L666.7,385.0 L666.9,366.8 L667.0,365.0 L667.1,373.3 L667.3,372.9 L667.4,375.5 L667.5,370.3 L667.7,373.4 L667.8,370.1 L667.9,370.0 L668.0,373.6 L668.2,368.1 L668.3,372.2 L668.4,368.5 L668.6,366.3 L668.7,370.0 L668.8,368.8 L669.0,369.8 L669.1,370.5 L669.2,362.4 L669.3,367.2 L669.5,368.9 L669.6,384.3 L669.7,369.3 L669.9,367.9 L670.0,369.5 L670.1,366.3 L670.3,365.7 L670.4,362.0 L670.5,355.6 L670.6,364.4 L670.8,362.5 L670.9,370.1 L671.0,356.7 L671.2,364.9 L671.3,357.8 L671.4,366.9 L671.6,358.4 L671.7,356.0 L671.8,361.8 L671.9,363.9 L672.1,359.6 L672.2,363.1 L672.3,352.0 L672.5,366.0 L672.6,365.0 L672.7,357.4 L672.9,354.8 L673.0,350.8 L673.1,354.7 L673.2,353.9 L673.4,351.8 L673.5,355.1 L673.6,343.6 L673.8,354.2 L673.9,359.7 L674.0,354.2 L674.2,345.3 L674.3,348.0 L674.4,345.4 L674.5,349.1 L674.7,346.8 L674.8,347.4 L674.9,349.9 L675.1,349.3 L675.2,346.9 L675.3,348.8 L675.5,348.3 L675.6,345.3 L675.7,351.9 L675.8,343.4 L676.0,353.6 L676.1,344.8 L676.2,343.5 L676.4,342.5 L676.5,346.9 L676.6,340.0 L676.8,347.2 L676.9,334.8 L677.0,338.1 L677.1,349.4 L677.3,347.2 L677.4,347.3 L677.5,343.5 L677.7,335.7 L677.8,346.3 L677.9,340.7 L678.1,339.4 L678.2,343.4 L678.3,346.6 L678.4,352.2 L678.6,352.3 L678.7,346.0 L678.8,350.3 L679.0,352.8 L679.1,348.3 L679.2,346.7 L679.4,349.8 L679.5,353.8 L679.6,350.2 L679.7,351.9 L679.9,361.0 L680.0,352.4 L680.1,354.3 L680.3,352.9 L680.4,353.9 L680.5,354.8 L680.7,361.3 L680.8,363.2 L680.9,370.3 L681.0,358.0 L681.2,358.3 L681.3,360.9 L681.4,363.2 L681.6,360.3 L681.7,356.7 L681.8,363.5 L682.0,360.2 L682.1,361.8 L682.2,365.8 L682.3,366.5 L682.5,364.5 L682.6,368.7 L682.7,359.0 L682.9,368.7 L683.0,365.9 L683.1,359.1 L683.3,369.7 L683.4,368.7 L683.5,373.3 L683.6,364.0 L683.8,366.5 L683.9,363.6 L684.0,370.2 L684.2,367.9 L684.3,357.6 L684.4,371.1 L684.6,361.9 L684.7,376.4 L684.8,363.5 L684.9,375.4 L685.1,366.5 L685.2,375.8 L685.3,370.7 L685.5,369.8 L685.6,370.4 L685.7,372.7 L685.9,372.2 L686.0,373.9 L686.1,371.9 L686.2,368.6 L686.4,368.6 L686.5,376.6 L686.6,372.0 L686.8,372.9 L686.9,363.6 L687.0,372.5 L687.2,374.4 L687.3,367.6 L687.4,374.8 L687.5,377.0 L687.7,371.8 L687.8,374.5 L687.9,376.6 L688.1,375.2 L688.2,381.7 L688.3,384.8 L688.5,385.1 L688.6,380.8 L688.7,377.9 L688.8,380.7 L689.0,379.0 L689.1,375.7 L689.2,381.1 L689.4,383.1 L689.5,377.9 L689.6,380.4 L689.8,381.0 L689.9,387.8 L690.0,382.7 L690.1,382.5 L690.3,380.5 L690.4,377.4 L690.5,387.8 L690.7,377.1 L690.8,380.5 L690.9,381.1 L691.1,378.3 L691.2,382.2 L691.3,383.3 L691.4,385.9 L691.6,383.1 L691.7,383.0 L691.8,378.0 L692.0,387.8 L692.1,383.7 L692.2,379.5 L692.4,383.4 L692.5,384.9 L692.6,377.9 L692.7,386.1 L692.9,380.6 L693.0,385.8 L693.1,387.0 L693.3,387.7 L693.4,381.4 L693.5,385.1 L693.7,386.4 L693.8,384.5 L693.9,386.1 L694.0,380.6 L694.2,392.4 L694.3,386.6 L694.4,381.8 L694.6,385.5 L694.7,389.5 L694.8,383.9 L695.0,381.2 L695.1,389.9 L695.2,386.8 L695.3,387.0 L695.5,389.5 L695.6,400.5 L695.7,388.5 L695.9,386.6 L696.0,389.0 L696.1,381.3 L696.3,389.2 L696.4,392.1 L696.5,389.1 L696.6,384.8 L696.8,394.9 L696.9,384.5 L697.0,384.8 L697.2,388.6 L697.3,388.1 L697.4,386.2 L697.6,386.1 L697.7,393.2 L697.8,385.4 L697.9,383.3 L698.1,395.8 L698.2,389.1 L698.3,387.0 L698.5,391.6 L698.6,391.7 L698.7,388.8 L698.9,393.0 L699.0,387.0 L699.1,394.1 L699.2,391.2 L699.4,390.4 L699.5,398.5 L699.6,389.9 L699.8,392.6 L699.9,387.9 L700.0,400.3 L700.2,385.4 L700.3,385.5 L700.4,392.9 L700.5,391.9 L700.7,389.3 L700.8,392.6 L700.9,395.4 L701.1,394.8 L701.2,390.0 L701.3,388.5 L701.5,392.9 L701.6,393.6 L701.7,386.0 L701.8,389.7 L702.0,391.2 L702.1,388.6 L702.2,390.7 L702.4,396.1 L702.5,392.3 L702.6,391.4 L702.8,395.7 L702.9,394.7 L703.0,389.3 L703.1,397.0 L703.3,394.2 L703.4,393.6 L703.5,394.9 L703.7,393.6 L703.8,395.3 L703.9,393.6 L704.1,386.6 L704.2,389.0 L704.3,399.0 L704.4,393.9 L704.6,391.6 L704.7,388.2 L704.8,395.0 L705.0,396.0 L705.1,401.6 L705.2,388.8 L705.4,397.3 L705.5,388.5 L705.6,393.5 L705.7,391.8 L705.9,398.8 L706.0,391.9 L706.1,397.0 L706.3,390.9 L706.4,399.8 L706.5,399.6 L706.7,388.5 L706.8,398.2 L706.9,399.0 L707.0,396.7 L707.2,388.2 L707.3,398.8 L707.4,398.5 L707.6,395.9 L707.7,388.3 L707.8,401.1 L708.0,396.6 L708.1,398.8 L708.2,400.2 L708.3,395.1 L708.5,397.4 L708.6,393.9 L708.7,396.4 L708.9,398.0 L709.0,395.6 L709.1,398.4 L709.3,402.8 L709.4,400.3 L709.5,388.7 L709.6,395.9 L709.8,400.3 L709.9,395.0 L710.0,399.0 L710.2,396.5 L710.3,404.4 L710.4,401.1 L710.6,396.2 L710.7,398.5 L710.8,400.8 L710.9,397.0 L711.1,397.2 L711.2,403.2 L711.3,399.2 L711.5,399.0 L711.6,401.3 L711.7,393.9 L711.9,397.2 L712.0,402.0 L712.1,416.0 L712.2,400.0 L712.4,398.3 L712.5,404.8 L712.6,391.6 L712.8,395.2 L712.9,402.4 L713.0,403.1 L713.2,394.6 L713.3,402.8 L713.4,400.4 L713.5,399.9 L713.7,397.5 L713.8,396.8 L713.9,401.9 L714.1,398.6 L714.2,402.8 L714.3,404.9 L714.5,399.6 L714.6,398.6 L714.7,402.7 L714.8,404.2 L715.0,401.2 L715.1,402.7 L715.2,398.4 L715.4,402.3 L715.5,399.8 L715.6,403.8 L715.8,406.7 L715.9,397.6 L716.0,401.4 L716.1,393.2 L716.3,400.1 L716.4,400.9 L716.5,402.1 L716.7,404.4 L716.8,403.9 L716.9,397.5 L717.1,404.6 L717.2,402.2 L717.3,406.4 L717.4,398.3 L717.6,401.7 L717.7,407.6 L717.8,399.8 L718.0,404.7" stroke="#3b8b6d" fill="none" stroke-width="0.5" stroke-linejoin="round"/>
<path d="M669.0,372.1 L669.1,377.5 L669.3,373.7 L669.4,374.0 L669.5,371.0 L669.6,375.9 L669.8,373.7 L669.9,374.3 L670.0,366.6 L670.2,365.8 L670.3,371.8 L670.4,370.6 L670.6,372.7 L670.7,365.7 L670.8,369.0 L670.9,372.0 L671.1,374.6 L671.2,373.3 L671.3,373.4 L671.5,374.8 L671.6,372.4 L671.7,371.9 L671.9,370.5 L672.0,364.0 L672.1,373.3 L672.2,365.8 L672.4,373.3 L672.5,370.5 L672.6,373.9 L672.8,367.6 L672.9,371.4 L673.0,373.3 L673.2,375.5 L673.3,372.6 L673.4,368.5 L673.5,371.8 L673.7,373.3 L673.8,371.6 L673.9,370.6 L674.1,372.6 L674.2,364.8 L674.3,364.9 L674.5,365.8 L674.6,371.9 L674.7,366.9 L674.8,366.9 L675.0,365.5 L675.1,369.2 L675.2,367.7 L675.4,367.9 L675.5,368.6 L675.6,370.2 L675.8,367.2 L675.9,365.0 L676.0,367.0 L676.1,364.1 L676.3,366.6 L676.4,370.5 L676.5,361.0 L676.7,366.6 L676.8,367.5 L676.9,367.8 L677.1,366.0 L677.2,362.7 L677.3,370.3 L677.4,364.0 L677.6,362.4 L677.7,369.2 L677.8,355.1 L678.0,365.9 L678.1,363.6 L678.2,365.1 L678.4,360.0 L678.5,355.5 L678.6,364.2 L678.7,370.5 L678.9,362.7 L679.0,363.3 L679.1,355.3 L679.3,360.6 L679.4,362.0 L679.5,360.9 L679.7,364.7 L679.8,362.0 L679.9,367.4 L680.0,360.5 L680.2,357.0 L680.3,364.7 L680.4,356.8 L680.6,362.0 L680.7,354.8 L680.8,362.7 L681.0,362.9 L681.1,352.8 L681.2,358.0 L681.3,355.0 L681.5,356.4 L681.6,354.2 L681.7,356.4 L681.9,357.7 L682.0,353.7 L682.1,358.6 L682.3,358.4 L682.4,358.4 L682.5,363.7 L682.6,359.0 L682.8,359.1 L682.9,357.6 L683.0,355.8 L683.2,352.9 L683.3,353.5 L683.4,351.4 L683.6,353.0 L683.7,350.2 L683.8,346.4 L683.9,352.5 L684.1,351.2 L684.2,353.4 L684.3,350.0 L684.5,350.7 L684.6,347.4 L684.7,351.2 L684.9,351.2 L685.0,352.2 L685.1,351.0 L685.2,344.9 L685.4,354.0 L685.5,349.2 L685.6,344.7 L685.8,349.2 L685.9,344.4 L686.0,353.9 L686.2,348.4 L686.3,342.0 L686.4,350.6 L686.5,341.0 L686.7,344.8 L686.8,343.7 L686.9,344.6 L687.1,348.0 L687.2,345.4 L687.3,344.6 L687.5,340.1 L687.6,337.2 L687.7,341.7 L687.8,338.9 L688.0,357.9 L688.1,338.3 L688.2,339.1 L688.4,342.0 L688.5,335.4 L688.6,346.6 L688.8,340.7 L688.9,343.8 L689.0,337.9 L689.1,336.9 L689.3,335.0 L689.4,333.0 L689.5,335.7 L689.7,334.1 L689.8,339.5 L689.9,335.1 L690.1,336.7 L690.2,336.8 L690.3,326.6 L690.4,332.2 L690.6,327.4 L690.7,329.4 L690.8,333.7 L691.0,326.7 L691.1,323.6 L691.2,327.9 L691.4,333.6 L691.5,323.1 L691.6,326.0 L691.7,324.0 L691.9,327.3 L692.0,324.6 L692.1,327.2 L692.3,328.9 L692.4,322.8 L692.5,316.0 L692.7,324.8 L692.8,317.4 L692.9,322.8 L693.0,323.4 L693.2,322.1 L693.3,325.3 L693.4,321.2 L693.6,333.2 L693.7,323.1 L693.8,322.8 L694.0,325.3 L694.1,327.6 L694.2,321.0 L694.3,327.9 L694.5,327.1 L694.6,328.0 L694.7,337.1 L694.9,328.9 L695.0,325.3 L695.1,330.0 L695.3,329.0 L695.4,328.8 L695.5,337.4 L695.6,328.5 L695.8,327.6 L695.9,335.5 L696.0,332.5 L696.2,336.1 L696.3,331.9 L696.4,336.7 L696.6,335.0 L696.7,342.0 L696.8,333.7 L696.9,343.2 L697.1,335.1 L697.2,341.3 L697.3,345.3 L697.5,337.5 L697.6,342.7 L697.7,338.4 L697.9,344.1 L698.0,339.3 L698.1,347.3 L698.2,335.6 L698.4,343.4 L698.5,346.2 L698.6,339.9 L698.8,333.6 L698.9,347.7 L699.0,345.2 L699.2,346.5 L699.3,346.8 L699.4,346.4 L699.5,356.0 L699.7,345.7 L699.8,344.0 L699.9,350.7 L700.1,352.4 L700.2,346.6 L700.3,343.1 L700.5,351.4 L700.6,352.8 L700.7,346.8 L700.8,350.9 L701.0,354.9 L701.1,355.3 L701.2,351.2 L701.4,355.9 L701.5,348.8 L701.6,353.6 L701.8,367.4 L701.9,351.0 L702.0,353.2 L702.1,357.5 L702.3,360.4 L702.4,359.6 L702.5,354.9 L702.7,359.7 L702.8,360.4 L702.9,359.3 L703.1,353.7 L703.2,355.8 L703.3,356.9 L703.4,355.9 L703.6,360.1 L703.7,358.7 L703.8,351.9 L704.0,358.7 L704.1,355.1 L704.2,355.7 L704.4,351.7 L704.5,357.9 L704.6,357.4 L704.7,362.1 L704.9,350.0 L705.0,362.6 L705.1,355.6 L705.3,370.9 L705.4,353.0 L705.5,360.9 L705.7,361.5 L705.8,357.9 L705.9,357.5 L706.0,368.6 L706.2,357.5 L706.3,359.8 L706.4,364.9 L706.6,376.5 L706.7,358.2 L706.8,364.8 L707.0,363.4 L707.1,363.1 L707.2,361.8 L707.3,360.3 L707.5,369.3 L707.6,361.2 L707.7,361.5 L707.9,364.7 L708.0,363.7 L708.1,359.1 L708.3,378.9 L708.4,356.8 L708.5,366.4 L708.6,362.0 L708.8,364.6 L708.9,366.2 L709.0,366.3 L709.2,368.9 L709.3,360.9 L709.4,365.2 L709.6,369.7 L709.7,371.8 L709.8,371.1 L709.9,368.6 L710.1,376.1 L710.2,361.8 L710.3,371.9 L710.5,367.8 L710.6,374.4 L710.7,369.5 L710.9,366.1 L711.0,372.2 L711.1,361.8 L711.2,370.5 L711.4,372.7 L711.5,372.1 L711.6,368.4 L711.8,367.8 L711.9,373.7 L712.0,368.6 L712.2,375.1 L712.3,372.8 L712.4,375.7 L712.5,372.3 L712.7,374.9 L712.8,369.7 L712.9,376.2 L713.1,373.5 L713.2,369.7 L713.3,376.3 L713.5,376.4 L713.6,370.6 L713.7,373.7 L713.8,371.5 L714.0,385.6 L714.1,372.6 L714.2,374.5 L714.4,376.1 L714.5,384.6 L714.6,374.6 L714.8,372.6 L714.9,374.7 L715.0,366.7 L715.1,376.1 L715.3,375.2 L715.4,381.7 L715.5,369.0 L715.7,372.8 L715.8,368.9 L715.9,370.6 L716.1,371.8 L716.2,380.6 L716.3,375.4 L716.4,378.1 L716.6,376.0 L716.7,371.8 L716.8,374.3 L717.0,371.5 L717.1,376.7 L717.2,377.3 L717.4,375.7 L717.5,373.2 L717.6,377.6 L717.7,381.1 L717.9,375.2 L718.0,382.2 L718.1,375.0 L718.3,376.0 L718.4,379.6 L718.5,370.8 L718.7,381.4 L718.8,377.1 L718.9,378.6 L719.0,376.2 L719.2,384.3 L719.3,387.6 L719.4,378.6 L719.6,384.2 L719.7,383.1 L719.8,379.4 L720.0,383.2 L720.1,382.9 L720.2,381.4 L720.3,377.1 L720.5,379.5 L720.6,379.0 L720.7,385.2 L720.9,383.3 L721.0,376.4 L721.1,373.7 L721.3,381.3 L721.4,380.9 L721.5,387.5 L721.6,382.7 L721.8,382.4 L721.9,378.8 L722.0,381.8 L722.2,376.4 L722.3,383.9 L722.4,381.1 L722.6,380.1 L722.7,377.8 L722.8,385.1 L722.9,387.2 L723.1,385.5 L723.2,386.1 L723.3,381.0 L723.5,378.2 L723.6,379.8 L723.7,384.5 L723.9,394.5 L724.0,383.5 L724.1,388.9 L724.2,390.6 L724.4,384.4 L724.5,387.4 L724.6,386.9 L724.8,381.1 L724.9,381.3 L725.0,386.2 L725.2,390.0 L725.3,384.5 L725.4,384.2 L725.5,381.4 L725.7,379.1 L725.8,384.8 L725.9,385.8 L726.1,382.8 L726.2,390.7 L726.3,389.0 L726.5,389.3 L726.6,398.4 L726.7,391.7 L726.8,388.1 L727.0,390.3 L727.1,383.5 L727.2,391.2 L727.4,390.3 L727.5,389.4 L727.6,383.2 L727.8,382.6 L727.9,383.1 L728.0,388.7 L728.1,393.7 L728.3,384.6 L728.4,384.0 L728.5,390.5 L728.7,389.5 L728.8,385.8 L728.9,393.9" stroke="#a0a6f4" fill="none" stroke-width="0.5" stroke-linejoin="round"/>
<path d="M686.7,361.2 L686.8,360.3 L687.0,356.6 L687.1,352.3 L687.2,358.6 L687.4,358.3 L687.5,355.4 L687.6,355.2 L687.7,361.8 L687.9,359.6 L688.0,355.8 L688.1,355.5 L688.3,354.6 L688.4,358.6 L688.5,353.1 L688.6,354.2 L688.8,355.4 L688.9,353.9 L689.0,350.5 L689.2,355.8 L689.3,353.9 L689.4,354.2 L689.6,356.5 L689.7,358.9 L689.8,347.3 L689.9,356.8 L690.1,353.5 L690.2,359.2 L690.3,358.4 L690.5,353.6 L690.6,355.7 L690.7,354.2 L690.9,353.7 L691.0,357.9 L691.1,349.4 L691.2,351.7 L691.4,351.0 L691.5,355.4 L691.6,356.7 L691.8,350.5 L691.9,352.5 L692.0,354.0 L692.2,348.6 L692.3,353.5 L692.4,350.6 L692.5,352.7 L692.7,350.7 L692.8,349.7 L692.9,354.7 L693.1,351.0 L693.2,359.9 L693.3,348.0 L693.5,348.5 L693.6,351.9 L693.7,350.2 L693.8,350.3 L694.0,350.2 L694.1,347.8 L694.2,355.2 L694.4,349.9 L694.5,354.9 L694.6,346.0 L694.8,351.2 L694.9,349.6 L695.0,343.2 L695.1,354.3 L695.3,350.4 L695.4,351.1 L695.5,350.9 L695.7,345.6 L695.8,348.4 L695.9,350.9 L696.1,345.7 L696.2,343.4 L696.3,347.4 L696.4,342.9 L696.6,344.0 L696.7,349.9 L696.8,348.2 L697.0,344.3 L697.1,345.4 L697.2,353.2 L697.4,341.6 L697.5,346.4 L697.6,350.5 L697.7,339.7 L697.9,341.8 L698.0,343.5 L698.1,347.4 L698.3,348.3 L698.4,346.2 L698.5,343.3 L698.7,344.7 L698.8,347.2 L698.9,353.2 L699.0,344.7 L699.2,341.3 L699.3,340.4 L699.4,345.8 L699.6,351.6 L699.7,343.5 L699.8,349.3 L700.0,346.6 L700.1,343.9 L700.2,341.3 L700.3,344.4 L700.5,344.2 L700.6,342.8 L700.7,347.2 L700.9,337.4 L701.0,337.1 L701.1,345.2 L701.3,344.3 L701.4,346.0 L701.5,338.9 L701.6,341.1 L701.8,339.6 L701.9,341.3 L702.0,333.8 L702.2,339.8 L702.3,343.6 L702.4,335.0 L702.6,336.3 L702.7,332.3 L702.8,338.3 L702.9,329.6 L703.1,332.5 L703.2,335.6 L703.3,329.4 L703.5,334.2 L703.6,337.2 L703.7,332.5 L703.9,336.7 L704.0,330.1 L704.1,333.7 L704.2,340.8 L704.4,330.8 L704.5,327.8 L704.6,334.1 L704.8,329.8 L704.9,336.5 L705.0,340.1 L705.2,335.2 L705.3,331.4 L705.4,334.3 L705.5,333.7 L705.7,348.5 L705.8,324.1 L705.9,332.8 L706.1,328.5 L706.2,329.9 L706.3,327.7 L706.5,327.3 L706.6,326.4 L706.7,320.9 L706.8,329.9 L707.0,318.4 L707.1,320.1 L707.2,324.8 L707.4,323.4 L707.5,321.8 L707.6,330.6 L707.8,329.3 L707.9,328.9 L708.0,323.1 L708.1,312.5 L708.3,320.3 L708.4,322.2 L708.5,316.0 L708.7,324.3 L708.8,315.7 L708.9,316.4 L709.1,318.6 L709.2,325.2 L709.3,315.2 L709.4,318.7 L709.6,317.7 L709.7,314.0 L709.8,314.5 L710.0,317.0 L710.1,315.9 L710.2,316.1 L710.4,308.3 L710.5,306.3 L710.6,310.9 L710.7,315.3 L710.9,311.7 L711.0,308.1 L711.1,309.7 L711.3,307.2 L711.4,314.1 L711.5,309.6 L711.7,300.8 L711.8,305.6 L711.9,302.5 L712.0,306.2 L712.2,303.3 L712.3,302.7 L712.4,303.6 L712.6,304.6 L712.7,309.2 L712.8,304.8 L713.0,305.6 L713.1,303.2 L713.2,303.3 L713.3,302.2 L713.5,303.3 L713.6,301.4 L713.7,306.0 L713.9,308.8 L714.0,310.6 L714.1,303.4 L714.3,300.9 L714.4,307.1 L714.5,307.5 L714.6,297.4 L714.8,310.9 L714.9,305.9 L715.0,311.9 L715.2,315.9 L715.3,313.7 L715.4,312.4 L715.6,313.2 L715.7,312.6 L715.8,315.0 L715.9,309.2 L716.1,319.2 L716.2,314.7 L716.3,316.9 L716.5,314.0 L716.6,314.3 L716.7,317.3 L716.9,326.2 L717.0,317.8 L717.1,319.7 L717.2,326.6 L717.4,318.8 L717.5,322.9 L717.6,320.6 L717.8,325.1 L717.9,315.5 L718.0,319.9 L718.2,328.1 L718.3,320.1 L718.4,327.4 L718.5,325.5 L718.7,326.0 L718.8,326.4 L718.9,328.7 L719.1,327.5 L719.2,341.1 L719.3,328.0 L719.5,327.7 L719.6,323.9 L719.7,327.4 L719.8,330.1 L720.0,327.5 L720.1,326.8 L720.2,325.4 L720.4,327.0 L720.5,335.0 L720.6,330.5 L720.8,328.4 L720.9,334.7 L721.0,338.1 L721.1,328.5 L721.3,336.0 L721.4,336.6 L721.5,339.2 L721.7,333.1 L721.8,336.1 L721.9,337.1 L722.1,332.0 L722.2,334.2 L722.3,347.0 L722.4,334.7 L722.6,333.7 L722.7,336.9 L722.8,332.7 L723.0,334.7 L723.1,336.6 L723.2,331.7 L723.4,339.4 L723.5,337.9 L723.6,344.6 L723.7,336.4 L723.9,343.1 L724.0,340.5 L724.1,344.5 L724.3,345.0 L724.4,335.1 L724.5,344.9 L724.7,346.3 L724.8,339.3 L724.9,342.2 L725.0,342.5 L725.2,342.6 L725.3,341.4 L725.4,340.8 L725.6,339.0 L725.7,335.1 L725.8,344.3 L726.0,340.8 L726.1,343.7 L726.2,341.8 L726.3,343.4 L726.5,339.1 L726.6,344.0 L726.7,341.3 L726.9,346.8 L727.0,344.7 L727.1,349.1 L727.3,347.6 L727.4,341.7 L727.5,345.6 L727.6,343.5 L727.8,345.8 L727.9,349.2 L728.0,341.4 L728.2,346.5 L728.3,349.7 L728.4,343.2 L728.6,347.0 L728.7,347.8 L728.8,348.4 L728.9,346.7 L729.1,346.3 L729.2,350.6 L729.3,352.6 L729.5,350.0 L729.6,351.3 L729.7,344.8 L729.9,351.4 L730.0,347.3 L730.1,347.3 L730.2,351.1 L730.4,353.3 L730.5,351.7 L730.6,354.7 L730.8,345.5 L730.9,348.3 L731.0,350.9 L731.2,353.2 L731.3,357.8 L731.4,354.1 L731.5,350.5 L731.7,353.7 L731.8,350.0 L731.9,352.4 L732.1,355.5 L732.2,355.6 L732.3,350.7 L732.5,354.7 L732.6,352.8 L732.7,351.1 L732.8,349.2 L733.0,352.9 L733.1,349.3 L733.2,354.6 L733.4,354.2 L733.5,353.3 L733.6,357.9 L733.8,349.9 L733.9,347.3 L734.0,357.9 L734.1,354.8 L734.3,348.0 L734.4,360.8 L734.5,354.8 L734.7,356.8 L734.8,361.9 L734.9,355.2 L735.1,359.5 L735.2,357.6 L735.3,355.7 L735.4,355.3 L735.6,355.2 L735.7,352.4 L735.8,356.9 L736.0,355.3 L736.1,355.8 L736.2,354.8 L736.4,357.9 L736.5,359.5 L736.6,349.2 L736.7,355.1 L736.9,359.3 L737.0,358.3 L737.1,356.5 L737.3,357.3 L737.4,360.9 L737.5,355.6 L737.7,358.9 L737.8,361.9 L737.9,364.1 L738.0,358.7 L738.2,358.5 L738.3,357.7 L738.4,359.5 L738.6,363.4 L738.7,359.6 L738.8,359.9 L739.0,357.7 L739.1,360.1 L739.2,359.4 L739.3,359.3 L739.5,361.1 L739.6,365.7 L739.7,358.4 L739.9,357.7 L740.0,374.1 L740.1,366.6 L740.3,365.9 L740.4,358.8 L740.5,357.1 L740.6,358.6 L740.8,361.9 L740.9,365.2 L741.0,358.7 L741.2,362.9 L741.3,366.0 L741.4,360.3 L741.6,360.0 L741.7,365.4 L741.8,357.9 L741.9,367.3 L742.1,361.7 L742.2,363.7 L742.3,361.0 L742.5,364.2 L742.6,365.5 L742.7,360.4 L742.9,359.6 L743.0,362.9 L743.1,366.3 L743.2,362.9 L743.4,367.1 L743.5,365.7 L743.6,362.1 L743.8,361.7 L743.9,363.5" stroke="#111111" fill="none" stroke-width="0.5" stroke-linejoin="round"/>
<path d="M697.0,336.5 L697.1,331.0 L697.3,332.3 L697.4,336.0 L697.5,338.8 L697.6,339.9 L697.8,330.1 L697.9,335.9 L698.0,339.1 L698.2,328.1 L698.3,331.8 L698.4,327.7 L698.6,338.8 L698.7,342.0 L698.8,336.0 L698.9,333.7 L699.1,331.4 L699.2,333.4 L699.3,334.7 L699.5,337.3 L699.6,333.0 L699.7,334.7 L699.9,330.8 L700.0,334.2 L700.1,340.9 L700.2,335.7 L700.4,334.9 L700.5,330.2 L700.6,331.9 L700.8,333.8 L700.9,333.6 L701.0,329.3 L701.2,329.5 L701.3,345.8 L701.4,331.0 L701.5,335.6 L701.7,329.1 L701.8,339.2 L701.9,336.3 L702.1,336.0 L702.2,328.1 L702.3,335.4 L702.5,331.8 L702.6,327.7 L702.7,337.9 L702.8,332.0 L703.0,327.9 L703.1,329.6 L703.2,329.8 L703.4,331.2 L703.5,331.8 L703.6,328.1 L703.8,330.8 L703.9,340.0 L704.0,330.4 L704.1,328.9 L704.3,323.7 L704.4,328.9 L704.5,327.3 L704.7,332.0 L704.8,326.3 L704.9,330.5 L705.1,338.2 L705.2,331.3 L705.3,336.0 L705.4,330.6 L705.6,323.6 L705.7,330.7 L705.8,329.3 L706.0,327.0 L706.1,325.2 L706.2,327.1 L706.4,325.9 L706.5,324.2 L706.6,331.5 L706.7,334.4 L706.9,327.6 L707.0,332.5 L707.1,332.9 L707.3,334.5 L707.4,323.5 L707.5,329.6 L707.7,322.3 L707.8,330.8 L707.9,330.4 L708.0,326.6 L708.2,325.7 L708.3,324.6 L708.4,326.5 L708.6,329.0 L708.7,329.0 L708.8,318.7 L709.0,322.1 L709.1,324.4 L709.2,326.1 L709.3,324.7 L709.5,320.9 L709.6,324.7 L709.7,330.4 L709.9,330.0 L710.0,325.7 L710.1,323.0 L710.3,321.0 L710.4,327.4 L710.5,324.9 L710.6,322.7 L710.8,325.0 L710.9,323.5 L711.0,318.4 L711.2,324.0 L711.3,321.5 L711.4,313.7 L711.6,321.2 L711.7,322.8 L711.8,321.1 L711.9,329.7 L712.1,326.8 L712.2,328.8 L712.3,318.7 L712.5,318.2 L712.6,321.0 L712.7,316.7 L712.9,319.7 L713.0,322.6 L713.1,315.6 L713.2,321.2 L713.4,327.5 L713.5,320.2 L713.6,322.0 L713.8,317.3 L713.9,317.2 L714.0,315.6 L714.2,313.2 L714.3,315.7 L714.4,317.6 L714.5,329.7 L714.7,318.5 L714.8,317.6 L714.9,315.2 L715.1,313.2 L715.2,321.5 L715.3,317.1 L715.5,309.1 L715.6,314.7 L715.7,320.7 L715.8,317.1 L716.0,317.0 L716.1,313.1 L716.2,318.9 L716.4,317.9 L716.5,314.7 L716.6,316.5 L716.8,324.0 L716.9,307.4 L717.0,313.9 L717.1,308.5 L717.3,308.8 L717.4,309.0 L717.5,318.0 L717.7,312.8 L717.8,316.2 L717.9,314.7 L718.1,313.9 L718.2,310.2 L718.3,311.6 L718.4,304.1 L718.6,323.8 L718.7,309.2 L718.8,310.2 L719.0,314.6 L719.1,311.5 L719.2,312.0 L719.4,313.8 L719.5,315.4 L719.6,311.0 L719.7,312.1 L719.9,308.6 L720.0,313.2 L720.1,309.5 L720.3,309.1 L720.4,309.7 L720.5,305.1 L720.7,305.0 L720.8,303.9 L720.9,304.2 L721.0,304.5 L721.2,302.6 L721.3,301.2 L721.4,309.6 L721.6,301.1 L721.7,299.9 L721.8,299.0 L722.0,302.8 L722.1,308.4 L722.2,299.1 L722.3,298.8 L722.5,298.3 L722.6,308.1 L722.7,298.0 L722.9,302.9 L723.0,304.5 L723.1,299.1 L723.3,296.0 L723.4,291.2 L723.5,307.2 L723.6,297.8 L723.8,296.9 L723.9,292.8 L724.0,299.4 L724.2,306.6 L724.3,287.9 L724.4,294.1 L724.6,295.7 L724.7,291.8 L724.8,284.9 L724.9,290.9 L725.1,293.9 L725.2,286.6 L725.3,291.6 L725.5,282.2 L725.6,281.0 L725.7,286.7 L725.9,290.3 L726.0,275.3 L726.1,279.4 L726.2,290.2 L726.4,284.9 L726.5,286.2 L726.6,286.3 L726.8,288.8 L726.9,283.1 L727.0,288.1 L727.2,279.6 L727.3,281.6 L727.4,281.3 L727.5,271.4 L727.7,280.6 L727.8,277.7 L727.9,277.3 L728.1,282.1 L728.2,282.9 L728.3,282.6 L728.5,276.6 L728.6,279.2 L728.7,279.6 L728.8,276.4 L729.0,281.6 L729.1,272.1 L729.2,277.6 L729.4,289.1 L729.5,281.0 L729.6,282.2 L729.8,280.9 L729.9,282.5 L730.0,288.4 L730.1,289.7 L730.3,278.9 L730.4,286.3 L730.5,282.4 L730.7,286.8 L730.8,288.9 L730.9,287.5 L731.1,285.0 L731.2,287.2 L731.3,287.9 L731.4,291.0 L731.6,290.1 L731.7,291.9 L731.8,295.1 L732.0,287.9 L732.1,285.3 L732.2,295.8 L732.4,298.5 L732.5,296.7 L732.6,294.5 L732.7,293.3 L732.9,296.8 L733.0,302.4 L733.1,296.2 L733.3,303.5 L733.4,300.0 L733.5,296.4 L733.7,296.6 L733.8,303.1 L733.9,298.7 L734.0,302.1 L734.2,302.6 L734.3,307.3 L734.4,301.3 L734.6,309.1 L734.7,299.0 L734.8,307.7 L735.0,309.7 L735.1,306.1 L735.2,296.0 L735.3,304.7 L735.5,307.8 L735.6,307.5 L735.7,307.0 L735.9,305.5 L736.0,310.0 L736.1,306.5 L736.3,303.0 L736.4,312.2 L736.5,310.6 L736.6,306.5 L736.8,309.4 L736.9,305.4 L737.0,310.0 L737.2,310.3 L737.3,301.5 L737.4,316.5 L737.6,306.7 L737.7,309.0 L737.8,310.3 L737.9,306.9 L738.1,314.8 L738.2,307.6 L738.3,312.3 L738.5,311.1 L738.6,313.2 L738.7,312.1 L738.9,312.5 L739.0,319.3 L739.1,312.9 L739.2,313.3 L739.4,311.0 L739.5,314.6 L739.6,312.3 L739.8,325.3 L739.9,319.3 L740.0,315.1 L740.2,313.7 L740.3,316.5 L740.4,322.3 L740.5,318.6 L740.7,323.0 L740.8,320.0 L740.9,319.6 L741.1,316.6 L741.2,312.3 L741.3,318.6 L741.5,319.5 L741.6,315.8 L741.7,324.7 L741.8,325.5 L742.0,314.3 L742.1,317.8 L742.2,319.5 L742.4,327.6 L742.5,318.8 L742.6,320.9 L742.8,322.7 L742.9,325.8 L743.0,318.4 L743.1,321.7 L743.3,323.1 L743.4,320.8 L743.5,328.3 L743.7,328.8 L743.8,327.0 L743.9,323.0 L744.1,322.6 L744.2,324.7 L744.3,317.3 L744.4,332.7 L744.6,323.3 L744.7,323.2 L744.8,320.0 L745.0,326.5 L745.1,325.1 L745.2,324.5 L745.4,327.6 L745.5,323.8 L745.6,326.9 L745.7,323.4 L745.9,328.2 L746.0,325.8 L746.1,329.9 L746.3,327.7 L746.4,330.1 L746.5,334.9 L746.7,324.2 L746.8,328.3 L746.9,329.5 L747.0,325.0 L747.2,325.1 L747.3,329.6 L747.4,329.5 L747.6,331.3 L747.7,322.3 L747.8,329.6 L748.0,340.1 L748.1,319.4 L748.2,322.2 L748.3,331.1 L748.5,333.8 L748.6,329.9 L748.7,333.2 L748.9,328.9 L749.0,331.0 L749.1,332.2 L749.3,334.3 L749.4,326.9 L749.5,329.3 L749.6,327.1 L749.8,323.1 L749.9,334.0 L750.0,330.6 L750.2,332.2 L750.3,334.9 L750.4,332.9 L750.6,326.0 L750.7,332.5 L750.8,330.7 L750.9,336.2 L751.1,340.3 L751.2,332.6 L751.3,331.6 L751.5,333.7 L751.6,328.5 L751.7,339.8 L751.9,342.1 L752.0,327.4 L752.1,325.4 L752.2,337.3 L752.4,331.8 L752.5,340.4 L752.6,331.7 L752.8,334.6 L752.9,336.6 L753.0,329.0 L753.2,334.7 L753.3,337.5 L753.4,334.0 L753.5,334.9 L753.7,335.8 L753.8,335.6 L753.9,329.1 L754.1,337.5 L754.2,331.1 L754.3,336.7 L754.5,347.0 L754.6,331.3 L754.7,332.7 L754.8,335.5 L755.0,336.7 L755.1,333.5 L755.2,339.6 L755.4,337.1 L755.5,340.5 L755.6,336.0 L755.8,339.4 L755.9,339.1 L756.0,332.2 L756.1,342.9 L756.3,324.2 L756.4,336.3 L756.5,334.9 L756.7,346.0 L756.8,339.8 L756.9,339.7 L757.1,339.1 L757.2,335.0 L757.3,337.5 L757.4,334.9 L757.6,344.7 L757.7,336.1 L757.8,338.5 L758.0,336.4 L758.1,339.3 L758.2,340.4 L758.4,341.3 L758.5,343.7 L758.6,338.3 L758.7,339.0 L758.9,340.7 L759.0,339.2 L759.1,338.4 L759.3,341.7 L759.4,343.1 L759.5,342.9 L759.7,340.4 L759.8,340.5 L759.9,343.0 L760.0,340.6 L760.2,341.6 L760.3,342.6 L760.4,337.7 L760.6,339.6 L760.7,338.1 L760.8,336.8 L761.0,330.4" stroke="#e2532b" fill="none" stroke-width="0.5" stroke-linejoin="round"/>
<line x1="533" y1="445" x2="533" y2="351" stroke="#000" stroke-width="1.5"/>
<polygon points="529.4,353 536.6,353 533,342.5" fill="#000"/>
<line x1="532.3" y1="445" x2="762" y2="445" stroke="#000" stroke-width="1.5"/>
<polygon points="760.5,441.4 760.5,448.6 771.5,445" fill="#000"/>
<line x1="533" y1="445" x2="590.3" y2="367.3" stroke="#000" stroke-width="1.5"/>
<polygon points="586.7,365.9 592.6,370.3 596,359.5" fill="#000"/>
<text transform="translate(553.2,398.6) rotate(-50.3)" font-size="14.4" fill="#111" text-anchor="start">Finesse<tspan class="scr" font-size="16.5" dx="0.5">ℱ</tspan></text>
<text x="496.7" y="388.3" font-size="14.4" fill="#111" text-anchor="middle" >1470 nm</text>
<text x="496.7" y="406" font-size="14.4" fill="#111" text-anchor="middle" >laser</text>
<text x="496.7" y="422.6" font-size="14.4" fill="#111" text-anchor="middle" >spectrum</text>
<text x="569.5" y="432.5" font-size="14.4" fill="#111" text-anchor="start" >Mirrorless</text>
<text x="643.5" y="466.6" font-size="14.5" fill="#111" text-anchor="middle" >Frequency</text>
<text x="375.5" y="27.5" font-size="20" fill="#000" text-anchor="start" font-weight="bold">b</text>
</g>
<g id="panel-a">
<line x1="99.53" y1="18.5" x2="99.53" y2="203.0" stroke="#e3e3e3" stroke-width="1.6"/>
<line x1="172.78" y1="18.5" x2="172.78" y2="203.0" stroke="#e3e3e3" stroke-width="1.6"/>
<line x1="246.03" y1="18.5" x2="246.03" y2="203.0" stroke="#e3e3e3" stroke-width="1.6"/>
<line x1="319.27" y1="18.5" x2="319.27" y2="203.0" stroke="#e3e3e3" stroke-width="1.6"/>
<line x1="62.5" y1="195.00" x2="356.5" y2="195.00" stroke="#e3e3e3" stroke-width="1.6"/>
<line x1="62.5" y1="161.40" x2="356.5" y2="161.40" stroke="#e3e3e3" stroke-width="1.6"/>
<line x1="62.5" y1="127.80" x2="356.5" y2="127.80" stroke="#e3e3e3" stroke-width="1.6"/>
<line x1="62.5" y1="94.20" x2="356.5" y2="94.20" stroke="#e3e3e3" stroke-width="1.6"/>
<line x1="62.5" y1="60.60" x2="356.5" y2="60.60" stroke="#e3e3e3" stroke-width="1.6"/>
<line x1="62.5" y1="27.00" x2="356.5" y2="27.00" stroke="#e3e3e3" stroke-width="1.6"/>
<polygon points="77.5,98.5 316.5,53.5 319,62 80,108.5" fill="#f8d3c3"/>
<polygon points="293.5,81.8 303,77.2 348.2,193.5 337.3,199.5" fill="#c3d4e8"/>
<rect x="62.5" y="18.5" width="294.0" height="184.5" fill="none" stroke="#000" stroke-width="1.2"/>
<line x1="56.5" y1="195.00" x2="62.5" y2="195.00" stroke="#000" stroke-width="1.2"/>
<text x="50.2" y="201.3" font-size="13.6" fill="#111" text-anchor="end" >-2</text>
<line x1="56.5" y1="161.40" x2="62.5" y2="161.40" stroke="#000" stroke-width="1.2"/>
<text x="50.2" y="167.70000000000002" font-size="13.6" fill="#111" text-anchor="end" >0</text>
<line x1="56.5" y1="127.80" x2="62.5" y2="127.80" stroke="#000" stroke-width="1.2"/>
<text x="50.2" y="134.10000000000002" font-size="13.6" fill="#111" text-anchor="end" >2</text>
<line x1="56.5" y1="94.20" x2="62.5" y2="94.20" stroke="#000" stroke-width="1.2"/>
<text x="50.2" y="100.5" font-size="13.6" fill="#111" text-anchor="end" >4</text>
<line x1="56.5" y1="60.60" x2="62.5" y2="60.60" stroke="#000" stroke-width="1.2"/>
<text x="50.2" y="66.89999999999999" font-size="13.6" fill="#111" text-anchor="end" >6</text>
<line x1="56.5" y1="27.00" x2="62.5" y2="27.00" stroke="#000" stroke-width="1.2"/>
<text x="50.2" y="33.3" font-size="13.6" fill="#111" text-anchor="end" >8</text>
<line x1="62.90" y1="203.0" x2="62.90" y2="207.0" stroke="#000" stroke-width="1.2"/>
<line x1="99.53" y1="203.0" x2="99.53" y2="209.5" stroke="#000" stroke-width="1.2"/>
<text x="98.73" y="225.4" font-size="13.8" fill="#111" text-anchor="middle" >1990</text>
<line x1="136.15" y1="203.0" x2="136.15" y2="207.0" stroke="#000" stroke-width="1.2"/>
<line x1="172.78" y1="203.0" x2="172.78" y2="209.5" stroke="#000" stroke-width="1.2"/>
<text x="171.97" y="225.4" font-size="13.8" fill="#111" text-anchor="middle" >2000</text>
<line x1="209.40" y1="203.0" x2="209.40" y2="207.0" stroke="#000" stroke-width="1.2"/>
<line x1="246.03" y1="203.0" x2="246.03" y2="209.5" stroke="#000" stroke-width="1.2"/>
<text x="245.22" y="225.4" font-size="13.8" fill="#111" text-anchor="middle" >2010</text>
<line x1="282.65" y1="203.0" x2="282.65" y2="207.0" stroke="#000" stroke-width="1.2"/>
<line x1="319.27" y1="203.0" x2="319.27" y2="209.5" stroke="#000" stroke-width="1.2"/>
<text x="318.47" y="225.4" font-size="13.8" fill="#111" text-anchor="middle" >2020</text>
<line x1="355.90" y1="203.0" x2="355.90" y2="207.0" stroke="#000" stroke-width="1.2"/>
<text x="200.7" y="244.6" font-size="14.4" fill="#111" text-anchor="middle" >Time (year)</text>
<text transform="translate(31.3,130.5) rotate(-90)" font-size="14.5" fill="#111" text-anchor="middle">Log<tspan font-size="9.5" dy="3.2">10</tspan><tspan dy="-3.2">(</tspan><tspan class="scr" font-size="13.5">ℱ</tspan>-2)</text>
<circle cx="85" cy="97.5" r="4.3" fill="#ee2b1c"/>
<circle cx="165.5" cy="74.5" r="4.3" fill="#ee2b1c"/>
<circle cx="224" cy="71" r="4.3" fill="#ee2b1c"/>
<circle cx="231.25" cy="67.5" r="4.3" fill="#ee2b1c"/>
<circle cx="246.25" cy="69.25" r="4.3" fill="#ee2b1c"/>
<circle cx="260.75" cy="71.25" r="4.3" fill="#ee2b1c"/>
<circle cx="268" cy="79.25" r="4.3" fill="#ee2b1c"/>
<circle cx="275.25" cy="71" r="4.3" fill="#ee2b1c"/>
<circle cx="282.75" cy="70" r="4.3" fill="#ee2b1c"/>
<circle cx="297.5" cy="65.75" r="4.3" fill="#ee2b1c"/>
<circle cx="312.25" cy="65.75" r="4.3" fill="#ee2b1c"/>
<rect x="286.2" y="83.95" width="7.6" height="7.6" fill="#2a10ee"/>
<rect x="301.2" y="83.95" width="7.6" height="7.6" fill="#2a10ee"/>
<rect x="257.2" y="110.2" width="7.6" height="7.6" fill="#2a10ee"/>
<rect x="308.45" y="101.2" width="7.6" height="7.6" fill="#2a10ee"/>
<rect x="315.45" y="105.7" width="7.6" height="7.6" fill="#2a10ee"/>
<rect x="308.2" y="159.7" width="7.6" height="7.6" fill="#2a10ee"/>
<rect x="330.59999999999997" y="156.89999999999998" width="7.6" height="7.6" fill="#2a10ee"/>
<rect x="338.0" y="190.1" width="7" height="7" fill="#2a10ee"/>
<text x="75.5" y="89.5" font-size="10.3" fill="#222" text-anchor="start" >[10]</text>
<text x="157" y="87" font-size="10.3" fill="#222" text-anchor="start" >[11]</text>
<text x="202" y="75" font-size="10.3" fill="#222" text-anchor="start" >[12]</text>
<text x="222.5" y="61.5" font-size="10.3" fill="#222" text-anchor="start" >[13]</text>
<text x="237.5" y="82" font-size="10.3" fill="#222" text-anchor="start" >[14]</text>
<text x="250.5" y="66.5" font-size="10.3" fill="#222" text-anchor="start" >[15]</text>
<text x="260.5" y="91" font-size="10.3" fill="#222" text-anchor="start" >[16]</text>
<text x="268.5" y="64.5" font-size="10.3" fill="#222" text-anchor="start" >[17]</text>
<text x="282" y="79" font-size="10.3" fill="#222" text-anchor="start" >[18]</text>
<text x="292.5" y="60.5" font-size="10.3" fill="#222" text-anchor="start" >[19]</text>
<text x="316.5" y="66.5" font-size="10.3" fill="#222" text-anchor="start" >[20]</text>
<text x="273" y="102" font-size="10.3" fill="#222" text-anchor="start" >[27,28]</text>
<text x="309.5" y="89.5" font-size="10.3" fill="#222" text-anchor="start" >[29]</text>
<text x="246" y="127.5" font-size="10.3" fill="#222" text-anchor="start" >[25,26]</text>
<text x="313.5" y="103.5" font-size="10.3" fill="#222" text-anchor="start" >[31]</text>
<text x="321.5" y="121.5" font-size="10.3" fill="#222" text-anchor="start" >[32]</text>
<text x="292" y="159.5" font-size="10.3" fill="#222" text-anchor="start" >[30]</text>
<text x="335.5" y="172.5" font-size="10.3" fill="#222" text-anchor="start" >[33]</text>
<circle cx="74.8" cy="28.5" r="4.3" fill="#ee2b1c"/>
<text x="88" y="35" font-size="14.2" fill="#111" text-anchor="start" >Good cavity for PDH</text>
<rect x="71" y="43" width="7.9" height="7.8" fill="#2a10ee"/>
<text x="88" y="51.8" font-size="14.2" fill="#111" text-anchor="start" >Bad cavity for AOC</text>
<text x="146.4" y="168.3" font-size="14.4" fill="#2a10d8" text-anchor="start" >AOC was proposed</text>
<line x1="209.6" y1="174" x2="209.6" y2="194" stroke="#2a10d8" stroke-width="1.1"/>
<polygon points="207.2,192.6 212,192.6 209.6,201.5" fill="#2a10d8"/>
<text x="246.2" y="196.9" font-size="13.8" fill="#2a10d8" text-anchor="start" >This work</text>
<line x1="309.2" y1="193.5" x2="327.5" y2="193.5" stroke="#2a10ee" stroke-width="3"/>
<line x1="327" y1="193.5" x2="334" y2="193.5" stroke="#2a10ee" stroke-width="1.3"/>
<polygon points="331,191.2 337.8,193.5 331,195.8" fill="#2a10ee"/>
<text x="14.5" y="24.3" font-size="20.5" fill="#000" text-anchor="start" font-weight="bold">a</text>
</g>
<g id="panel-c">
<clipPath id="clipc"><rect x="62.5" y="264.0" width="294.0" height="164.0"/></clipPath>
<g clip-path="url(#clipc)"><path d="M62.70,419.91 L62.96,419.65 L63.21,420.14 L63.47,419.71 L63.72,419.98 L63.98,419.98 L64.23,419.50 L64.48,419.88 L64.74,419.92 L65.00,419.74 L65.25,419.65 L65.50,419.90 L65.76,419.76 L66.02,420.10 L66.27,419.96 L66.53,419.97 L66.78,420.16 L67.03,420.20 L67.29,420.22 L67.55,419.91 L67.80,419.89 L68.06,419.91 L68.31,419.82 L68.56,420.13 L68.82,419.84 L69.08,419.77 L69.33,419.65 L69.59,420.00 L69.84,419.89 L70.09,420.25 L70.35,419.91 L70.61,420.27 L70.86,420.08 L71.12,419.50 L71.37,420.20 L71.62,419.49 L71.88,419.55 L72.14,419.64 L72.39,419.41 L72.65,419.33 L72.90,419.14 L73.16,419.35 L73.41,419.34 L73.66,419.25 L73.92,419.25 L74.18,418.96 L74.43,419.04 L74.69,418.55 L74.94,419.13 L75.19,418.89 L75.45,418.78 L75.71,418.97 L75.96,418.02 L76.22,418.93 L76.47,418.43 L76.72,418.47 L76.98,417.99 L77.23,418.81 L77.49,418.16 L77.75,418.61 L78.00,418.54 L78.25,418.72 L78.51,418.52 L78.77,419.02 L79.02,418.90 L79.28,418.95 L79.53,418.76 L79.78,419.84 L80.04,419.12 L80.30,419.39 L80.55,419.86 L80.81,419.84 L81.06,420.17 L81.31,419.85 L81.57,420.31 L81.83,420.54 L82.08,420.67 L82.34,420.77 L82.59,420.86 L82.84,421.11 L83.10,420.53 L83.36,421.48 L83.61,421.91 L83.87,421.18 L84.12,421.22 L84.38,421.12 L84.63,421.27 L84.89,421.28 L85.14,421.19 L85.40,421.07 L85.65,421.41 L85.91,421.41 L86.16,420.91 L86.42,421.23 L86.67,421.57 L86.92,420.84 L87.18,421.19 L87.44,421.49 L87.69,421.61 L87.95,421.27 L88.20,421.51 L88.45,421.55 L88.71,421.58 L88.97,421.38 L89.22,421.00 L89.47,421.32 L89.73,421.52 L89.98,421.02 L90.24,421.12 L90.50,420.90 L90.75,420.77 L91.00,421.01 L91.26,420.94 L91.52,420.84 L91.77,421.00 L92.03,420.51 L92.28,420.19 L92.53,420.17 L92.79,419.86 L93.05,419.34 L93.30,418.81 L93.56,418.06 L93.81,417.11 L94.06,416.22 L94.32,415.04 L94.58,414.08 L94.83,412.33 L95.09,410.96 L95.34,409.68 L95.59,408.34 L95.85,406.24 L96.11,404.39 L96.36,403.21 L96.62,401.56 L96.87,399.98 L97.12,398.12 L97.38,396.87 L97.64,394.85 L97.89,393.54 L98.15,391.68 L98.40,390.28 L98.66,388.74 L98.91,387.42 L99.17,385.65 L99.42,383.96 L99.67,382.17 L99.93,380.66 L100.19,379.28 L100.44,377.44 L100.70,375.71 L100.95,374.37 L101.20,372.84 L101.46,371.24 L101.72,369.37 L101.97,367.84 L102.23,366.57 L102.48,364.69 L102.73,363.28 L102.99,361.75 L103.25,359.71 L103.50,358.21 L103.75,356.96 L104.01,355.18 L104.27,353.49 L104.52,352.15 L104.78,350.44 L105.03,348.67 L105.28,347.62 L105.54,345.56 L105.80,343.87 L106.05,342.33 L106.31,341.14 L106.56,339.18 L106.81,337.85 L107.07,335.94 L107.33,334.33 L107.58,332.82 L107.84,331.45 L108.09,329.81 L108.34,327.90 L108.60,326.69 L108.86,324.79 L109.11,323.19 L109.37,321.77 L109.62,319.58 L109.88,318.50 L110.13,316.48 L110.39,315.87 L110.64,314.43 L110.89,312.24 L111.15,310.89 L111.41,309.69 L111.66,308.27 L111.92,307.34 L112.17,305.75 L112.42,304.57 L112.68,303.14 L112.94,301.86 L113.19,301.21 L113.45,300.47 L113.70,300.21 L113.95,299.82 L114.21,299.54 L114.47,299.63 L114.72,299.47 L114.98,300.30 L115.23,300.20 L115.48,301.53 L115.74,301.93 L116.00,303.38 L116.25,303.90 L116.51,305.32 L116.76,306.37 L117.02,307.42 L117.27,308.89 L117.53,310.16 L117.78,311.58 L118.03,312.08 L118.29,313.76 L118.55,315.01 L118.80,316.18 L119.06,317.06 L119.31,319.22 L119.56,320.11 L119.82,321.59 L120.08,322.72 L120.33,324.57 L120.59,325.60 L120.84,326.66 L121.09,327.84 L121.35,329.16 L121.61,331.04 L121.86,332.18 L122.12,333.55 L122.37,335.16 L122.62,336.51 L122.88,337.36 L123.14,338.81 L123.39,340.23 L123.65,341.27 L123.90,343.09 L124.16,344.09 L124.41,345.54 L124.67,346.89 L124.92,348.11 L125.17,349.51 L125.43,350.83 L125.69,352.16 L125.94,353.13 L126.20,354.96 L126.45,356.00 L126.70,357.43 L126.96,358.98 L127.22,360.06 L127.47,361.76 L127.73,362.65 L127.98,364.42 L128.24,365.68 L128.49,366.84 L128.75,368.06 L129.00,369.38 L129.25,370.72 L129.51,372.30 L129.77,373.80 L130.02,374.80 L130.28,376.19 L130.53,377.81 L130.78,378.72 L131.04,380.22 L131.30,381.81 L131.55,382.84 L131.81,384.57 L132.06,385.80 L132.31,386.85 L132.57,388.63 L132.82,389.61 L133.08,391.25 L133.34,392.12 L133.59,393.78 L133.84,394.89 L134.10,396.55 L134.36,397.55 L134.61,398.50 L134.87,399.82 L135.12,401.51 L135.38,402.05 L135.63,403.19 L135.88,404.58 L136.14,405.26 L136.40,406.87 L136.65,407.68 L136.91,408.42 L137.16,409.38 L137.41,410.34 L137.67,411.77 L137.93,412.78 L138.18,413.10 L138.44,414.26 L138.69,414.68 L138.94,415.59 L139.20,415.67 L139.46,416.29 L139.71,416.85 L139.97,417.43 L140.22,417.83 L140.47,418.26 L140.73,418.46 L140.99,418.82 L141.24,419.08 L141.50,419.56 L141.75,419.30 L142.00,419.88 L142.26,419.84 L142.52,420.02 L142.77,420.66 L143.03,420.97 L143.28,420.41 L143.53,420.85 L143.79,420.79 L144.05,420.88 L144.30,420.82 L144.56,421.13 L144.81,420.91 L145.06,421.01 L145.32,420.93 L145.57,421.46 L145.83,420.78 L146.09,420.91 L146.34,421.38 L146.59,421.18 L146.85,421.03 L147.11,420.92 L147.36,421.08 L147.62,420.79 L147.87,421.11 L148.12,421.36 L148.38,421.31 L148.63,421.01 L148.89,421.33 L149.15,421.03 L149.40,421.01 L149.66,421.12 L149.91,421.05 L150.17,421.33 L150.42,421.32 L150.68,421.46 L150.93,421.48 L151.19,421.71 L151.44,421.50 L151.69,421.63 L151.95,421.73 L152.21,421.39 L152.46,421.33 L152.72,421.52 L152.97,421.15 L153.22,421.25 L153.48,421.24 L153.74,421.61 L153.99,421.81 L154.25,421.36 L154.50,421.42 L154.75,421.34 L155.01,421.41 L155.26,421.23 L155.52,421.58 L155.78,421.37 L156.03,421.73 L156.28,422.05 L156.54,421.64 L156.80,421.21 L157.05,421.93 L157.31,421.33 L157.56,421.72 L157.81,421.66 L158.07,421.57 L158.32,421.54 L158.58,421.81 L158.84,421.57 L159.09,421.50 L159.34,421.42 L159.60,421.78 L159.86,421.28 L160.11,421.20 L160.37,421.10 L160.62,421.94 L160.88,421.61 L161.13,422.06 L161.38,421.57 L161.64,421.54 L161.90,421.93 L162.15,422.03 L162.41,421.64 L162.66,421.55 L162.92,421.87 L163.17,421.76 L163.43,422.27 L163.68,421.87 L163.94,421.69 L164.19,421.69 L164.44,421.38 L164.70,421.99 L164.96,422.24 L165.21,421.65 L165.47,421.89 L165.72,421.70 L165.97,421.61 L166.23,421.64 L166.49,421.46 L166.74,421.49 L167.00,422.16 L167.25,421.81 L167.50,421.36 L167.76,421.90 L168.01,421.60 L168.27,421.84 L168.53,421.92 L168.78,421.49 L169.03,421.61 L169.29,421.90 L169.55,421.65 L169.80,422.15 L170.06,422.03 L170.31,421.67 L170.56,421.87 L170.82,422.12 L171.07,421.79 L171.33,421.83 L171.59,421.62 L171.84,421.70 L172.09,421.98 L172.35,422.03 L172.61,421.96 L172.86,421.99 L173.12,421.62 L173.37,421.60 L173.62,421.65 L173.88,421.88 L174.13,422.02 L174.39,421.77 L174.65,422.05 L174.90,421.93 L175.16,422.36 L175.41,422.08 L175.67,421.67 L175.92,422.23 L176.18,422.33 L176.43,422.04 L176.69,421.64 L176.94,421.69 L177.19,422.10 L177.45,422.13 L177.70,422.05 L177.96,422.23 L178.22,422.02 L178.47,422.10 L178.73,422.36 L178.98,422.17 L179.24,422.10 L179.49,422.24 L179.75,422.30 L180.00,421.85 L180.25,421.64 L180.51,422.13 L180.76,422.16 L181.02,421.96 L181.28,422.12 L181.53,422.25 L181.79,421.77 L182.04,422.31 L182.30,422.25 L182.55,422.24 L182.81,422.29 L183.06,422.15 L183.31,421.97 L183.57,421.78 L183.82,421.96 L184.08,422.10 L184.34,422.39 L184.59,422.13 L184.84,422.33 L185.10,422.15 L185.36,421.91 L185.61,422.09 L185.87,422.18 L186.12,422.30 L186.38,422.15 L186.63,422.12 L186.88,422.35 L187.14,422.26 L187.40,421.96 L187.65,422.53 L187.91,422.26 L188.16,422.42 L188.42,421.83 L188.67,422.04 L188.93,422.06 L189.18,422.09 L189.44,422.12 L189.69,422.12 L189.94,422.54 L190.20,422.14 L190.45,422.06 L190.71,422.52 L190.97,422.02 L191.22,422.06 L191.48,422.55 L191.73,422.32 L191.99,422.29 L192.24,422.34 L192.50,422.14 L192.75,422.51 L193.00,422.28 L193.26,422.18 L193.51,422.08 L193.77,422.23 L194.03,422.30 L194.28,422.10 L194.54,422.69 L194.79,422.05 L195.05,422.33 L195.30,422.54 L195.56,422.36 L195.81,422.68 L196.06,422.73 L196.32,422.35 L196.57,422.45 L196.83,422.12 L197.09,422.48 L197.34,422.58 L197.59,422.51 L197.85,421.92 L198.11,422.29 L198.36,422.44 L198.62,422.53 L198.87,422.55 L199.12,422.35 L199.38,422.22 L199.63,422.07 L199.89,422.07 L200.15,422.27 L200.40,422.48 L200.66,422.53 L200.91,422.85 L201.17,422.57 L201.42,422.25 L201.68,422.42 L201.93,422.27 L202.19,422.66 L202.44,422.16 L202.69,422.30 L202.95,422.36 L203.20,422.28 L203.46,422.87 L203.72,422.50 L203.97,422.58 L204.23,421.98 L204.48,422.43 L204.74,422.50 L204.99,422.20 L205.25,422.63 L205.50,422.09 L205.75,422.56 L206.01,422.42 L206.26,422.61 L206.52,422.24 L206.78,422.90 L207.03,422.27 L207.29,422.61 L207.54,422.42 L207.80,422.69 L208.05,422.39 L208.31,422.40 L208.56,422.31 L208.81,422.38 L209.07,422.31 L209.32,422.23 L209.58,422.54 L209.84,422.72 L210.09,422.75 L210.34,422.32 L210.60,422.55 L210.86,422.24 L211.11,422.47 L211.37,422.71 L211.62,422.28 L211.88,422.06 L212.13,422.53 L212.38,422.70 L212.64,422.69 L212.90,422.30 L213.15,422.64 L213.41,422.60 L213.66,422.36 L213.92,422.51 L214.17,422.49 L214.43,422.64 L214.68,422.67 L214.94,422.49 L215.19,422.50 L215.44,422.40 L215.70,422.65 L215.95,422.46 L216.21,422.44 L216.47,422.53 L216.72,422.42 L216.98,422.32 L217.23,422.51 L217.49,422.54 L217.74,422.77 L218.00,422.48 L218.25,422.58 L218.50,422.63 L218.76,422.75 L219.01,422.44 L219.27,422.00 L219.53,422.47 L219.78,422.55 L220.04,422.47 L220.29,422.70 L220.55,422.55 L220.80,422.72 L221.06,422.72 L221.31,422.53 L221.56,422.53 L221.82,422.61 L222.07,422.76 L222.33,422.53 L222.59,422.83 L222.84,422.42 L223.09,422.67 L223.35,422.60 L223.61,422.42 L223.86,422.48 L224.12,422.89 L224.37,422.66 L224.62,422.52 L224.88,422.85 L225.13,423.14 L225.39,422.63 L225.65,422.62 L225.90,422.52 L226.16,422.60 L226.41,422.59 L226.67,422.57 L226.92,422.32 L227.18,422.52 L227.43,422.50 L227.69,422.71 L227.94,422.38 L228.19,422.67 L228.45,422.47 L228.70,423.10 L228.96,422.58 L229.22,422.66 L229.47,422.74 L229.73,422.36 L229.98,422.55 L230.24,422.68 L230.49,422.76 L230.75,422.23 L231.00,422.49 L231.25,422.51 L231.51,422.82 L231.76,422.37 L232.02,422.53 L232.28,422.72 L232.53,422.69 L232.79,423.02 L233.04,422.52 L233.30,422.91 L233.55,422.48 L233.81,422.77 L234.06,422.81 L234.31,422.59 L234.57,422.63 L234.82,422.93 L235.08,422.70 L235.34,422.55 L235.59,422.74 L235.84,422.98 L236.10,422.74 L236.36,422.90 L236.61,422.82 L236.87,422.68 L237.12,422.71 L237.38,422.74 L237.63,423.07 L237.88,422.62 L238.14,422.75 L238.40,422.79 L238.65,422.67 L238.91,422.28 L239.16,423.00 L239.42,423.07 L239.67,422.55 L239.93,422.89 L240.18,422.43 L240.44,422.94 L240.69,422.83 L240.94,422.54 L241.20,422.52 L241.45,422.63 L241.71,422.63 L241.97,422.76 L242.22,422.83 L242.48,422.78 L242.73,422.46 L242.99,422.58 L243.24,422.74 L243.50,422.67 L243.75,422.56 L244.00,422.48 L244.26,422.78 L244.51,422.77 L244.77,422.68 L245.02,422.18 L245.28,422.70 L245.54,422.48 L245.79,423.10 L246.05,422.57 L246.30,423.07 L246.56,423.00 L246.81,422.91 L247.06,422.80 L247.32,422.73 L247.57,422.69 L247.83,422.72 L248.08,422.87 L248.34,422.20 L248.60,422.69 L248.85,422.63 L249.11,422.34 L249.36,422.57 L249.62,422.66 L249.87,422.72 L250.12,422.38 L250.38,423.03 L250.63,423.00 L250.89,422.76 L251.14,423.25 L251.40,422.97 L251.66,422.55 L251.91,422.90 L252.17,422.77 L252.42,422.65 L252.68,423.06 L252.93,422.75 L253.19,422.95 L253.44,423.05 L253.69,422.88 L253.95,422.83 L254.20,422.91 L254.46,422.97 L254.72,422.61 L254.97,422.57 L255.23,422.70 L255.48,422.85 L255.74,423.06 L255.99,423.01 L256.25,423.08 L256.50,422.79 L256.75,422.64 L257.01,422.64 L257.26,422.85 L257.52,422.93 L257.77,422.81 L258.03,422.82 L258.29,422.72 L258.54,422.53 L258.80,423.00 L259.05,422.39 L259.31,423.32 L259.56,423.25 L259.81,423.19 L260.07,423.09 L260.32,422.92 L260.58,422.41 L260.83,423.02 L261.09,422.63 L261.35,422.95 L261.60,422.84 L261.86,423.10 L262.11,422.38 L262.37,422.89 L262.62,423.02 L262.88,422.38 L263.13,422.84 L263.38,422.79 L263.64,422.92 L263.89,423.07 L264.15,423.21 L264.41,422.93 L264.66,422.54 L264.92,422.80 L265.17,422.94 L265.43,422.67 L265.68,423.11 L265.94,422.60 L266.19,422.91 L266.44,423.09 L266.70,422.76 L266.95,422.80 L267.21,422.99 L267.47,422.87 L267.72,422.70 L267.98,422.61 L268.23,423.10 L268.49,423.49 L268.74,422.47 L269.00,422.98 L269.25,423.01 L269.50,422.83 L269.76,423.02 L270.01,422.69 L270.27,423.20 L270.52,422.97 L270.78,423.20 L271.04,422.59 L271.29,422.98 L271.55,422.69 L271.80,422.62 L272.06,423.19 L272.31,422.98 L272.56,422.77 L272.82,422.92 L273.07,422.96 L273.33,422.75 L273.58,422.73 L273.84,423.07 L274.10,422.97 L274.35,422.80 L274.61,422.89 L274.86,422.91 L275.12,423.19 L275.37,422.56 L275.62,422.99 L275.88,422.88 L276.13,422.95 L276.39,422.93 L276.64,422.91 L276.90,423.13 L277.16,422.86 L277.41,422.68 L277.67,422.86 L277.92,422.79 L278.18,422.84 L278.43,422.95 L278.69,422.55 L278.94,423.10 L279.19,422.87 L279.45,422.73 L279.70,422.89 L279.96,423.19 L280.22,423.20 L280.47,422.62 L280.73,423.17 L280.98,422.96 L281.24,422.84 L281.49,422.94 L281.75,423.36 L282.00,423.38 L282.25,422.99 L282.51,423.14 L282.76,423.03 L283.02,422.95 L283.28,422.93 L283.53,423.27 L283.79,423.34 L284.04,422.77 L284.30,423.11 L284.55,423.23 L284.81,423.42 L285.06,422.86 L285.31,423.26 L285.57,423.21 L285.82,422.84 L286.08,422.91 L286.33,422.86 L286.59,423.26 L286.85,423.62 L287.10,423.20 L287.36,423.05 L287.61,423.13 L287.87,422.79 L288.12,422.91 L288.38,423.22 L288.63,422.86 L288.88,423.02 L289.14,423.10 L289.39,422.74 L289.65,423.36 L289.91,422.77 L290.16,422.75 L290.42,423.45 L290.67,423.04 L290.93,423.03 L291.18,423.25 L291.44,423.13 L291.69,423.18 L291.94,422.99 L292.20,423.13 L292.45,423.48 L292.71,422.74 L292.97,422.81 L293.22,423.19 L293.48,422.81 L293.73,422.56 L293.99,423.35 L294.24,423.10 L294.50,423.13 L294.75,422.89 L295.00,423.08 L295.26,423.32 L295.51,422.74 L295.77,423.09 L296.03,422.85 L296.28,422.51 L296.54,423.18 L296.79,423.11 L297.05,422.82 L297.30,423.04 L297.56,422.91 L297.81,423.02 L298.06,422.40 L298.32,422.88 L298.57,422.95 L298.83,423.00 L299.08,422.94 L299.34,423.39 L299.60,423.09 L299.85,422.87 L300.11,423.30 L300.36,423.02 L300.62,423.05 L300.87,423.15 L301.12,422.48 L301.38,422.88 L301.63,422.96 L301.89,423.21 L302.14,423.02 L302.40,423.11 L302.66,423.06 L302.91,422.99 L303.17,422.49 L303.42,422.75 L303.68,422.66 L303.93,422.74 L304.19,422.42 L304.44,423.19 L304.69,423.33 L304.95,423.00 L305.20,422.99 L305.46,423.04 L305.72,423.19 L305.97,422.90 L306.23,422.67 L306.48,423.00 L306.74,423.10 L306.99,422.79 L307.25,423.12 L307.50,423.14 L307.75,422.99 L308.01,423.57 L308.26,422.64 L308.52,423.08 L308.78,422.95 L309.03,422.99 L309.29,422.97 L309.54,423.36 L309.80,422.67 L310.05,422.94 L310.31,423.00 L310.56,422.37 L310.81,423.35 L311.07,422.91 L311.32,423.09 L311.58,423.41 L311.83,422.64 L312.09,423.42 L312.35,423.04 L312.60,423.09 L312.86,423.03 L313.11,423.29 L313.37,422.77 L313.62,423.02 L313.88,423.36 L314.13,423.35 L314.38,423.02 L314.64,423.34 L314.89,422.99 L315.15,423.01 L315.41,423.22 L315.66,423.52 L315.92,423.38 L316.17,423.01 L316.43,423.20 L316.68,422.68 L316.94,423.19 L317.19,423.01 L317.44,422.94 L317.70,423.07 L317.95,423.02 L318.21,422.87 L318.47,423.13 L318.72,423.02 L318.98,423.17 L319.23,422.65 L319.49,423.06 L319.74,422.91 L320.00,423.75 L320.25,423.20 L320.50,423.34 L320.76,423.09 L321.01,423.19 L321.27,423.33 L321.53,423.16 L321.78,422.91 L322.04,422.86 L322.29,423.21 L322.55,422.86 L322.80,423.23 L323.06,422.96 L323.31,423.28 L323.56,422.86 L323.82,422.58 L324.07,423.16 L324.33,422.82 L324.58,423.42 L324.84,423.23 L325.10,422.50 L325.35,423.11 L325.61,422.98 L325.86,423.46 L326.12,423.10 L326.37,423.27 L326.62,422.83 L326.88,423.21 L327.13,422.53 L327.39,423.34 L327.64,423.02 L327.90,423.54 L328.16,423.18 L328.41,422.82 L328.67,423.12 L328.92,423.38 L329.18,422.98 L329.43,422.88 L329.69,423.00 L329.94,422.87 L330.19,423.41 L330.45,422.69 L330.70,422.94 L330.96,423.56 L331.22,422.68 L331.47,423.20 L331.73,422.98 L331.98,423.53 L332.24,423.23 L332.49,423.50 L332.75,422.91 L333.00,423.15 L333.25,423.30 L333.51,423.18 L333.76,422.84 L334.02,423.27 L334.28,422.97 L334.53,423.36 L334.79,423.46 L335.04,423.20 L335.30,423.16 L335.55,423.05 L335.81,422.89 L336.06,423.19 L336.31,423.18 L336.57,422.92 L336.82,423.00 L337.08,423.11 L337.33,423.04 L337.59,423.58 L337.85,423.22 L338.10,423.45 L338.36,423.17 L338.61,422.89 L338.87,423.47 L339.12,422.89 L339.38,423.22 L339.63,423.14 L339.88,423.20 L340.14,422.94 L340.39,423.24 L340.65,423.56 L340.91,423.02 L341.16,423.13 L341.42,422.95 L341.67,422.96 L341.93,423.36 L342.18,423.05 L342.44,423.07 L342.69,423.11 L342.94,423.07 L343.20,423.02 L343.45,423.22 L343.71,423.13 L343.97,422.88 L344.22,423.33 L344.48,423.11 L344.73,423.32 L344.99,423.33 L345.24,423.19 L345.50,423.06 L345.75,422.76 L346.00,423.14 L346.26,422.89 L346.51,422.97 L346.77,423.08 L347.03,423.78 L347.28,423.07 L347.54,423.08 L347.79,423.33 L348.05,423.07 L348.30,422.77 L348.56,423.35 L348.81,423.21 L349.06,422.89 L349.32,423.49 L349.57,423.32 L349.83,423.03 L350.08,422.88 L350.34,422.82 L350.60,422.93 L350.85,422.58 L351.11,423.01 L351.36,423.38 L351.62,423.14 L351.87,422.96 L352.12,423.01 L352.38,423.52 L352.63,423.01 L352.89,423.27 L353.14,423.14 L353.40,422.77 L353.66,423.13 L353.91,423.24 L354.17,423.12 L354.42,423.24 L354.68,422.64 L354.93,422.91 L355.19,422.89 L355.44,423.25 L355.69,423.24 L355.95,423.04 L356.20,423.58 L356.46,422.87 L356.72,423.38 L356.97,423.07 L357.23,423.02 L357.48,423.27" fill="none" stroke="#b3211c" stroke-width="2.2" stroke-linejoin="round"/><path d="M62.7,379.1 L62.8,377.8 L62.9,380.9 L62.9,379.2 L63.0,378.7 L63.1,377.2 L63.2,377.8 L63.3,378.3 L63.4,376.4 L63.4,377.1 L63.5,377.8 L63.6,379.8 L63.7,379.8 L63.8,375.8 L63.8,379.7 L63.9,379.9 L64.0,377.6 L64.1,378.3 L64.2,379.6 L64.3,376.7 L64.3,378.0 L64.4,381.2 L64.5,382.0 L64.6,379.2 L64.7,377.9 L64.7,378.8 L64.8,374.6 L64.9,380.1 L65.0,381.2 L65.1,379.7 L65.1,376.3 L65.2,381.8 L65.3,377.8 L65.4,379.0 L65.5,379.2 L65.6,375.6 L65.6,378.8 L65.7,378.9 L65.8,379.0 L65.9,378.3 L66.0,378.3 L66.0,378.7 L66.1,377.0 L66.2,380.7 L66.3,378.0 L66.4,377.8 L66.5,379.7 L66.5,375.6 L66.6,381.5 L66.7,378.6 L66.8,377.5 L66.9,378.7 L66.9,378.5 L67.0,382.5 L67.1,380.4 L67.2,383.7 L67.3,376.4 L67.4,380.4 L67.4,380.0 L67.5,377.6 L67.6,378.1 L67.7,378.5 L67.8,378.1 L67.8,378.2 L67.9,375.0 L68.0,380.3 L68.1,378.7 L68.2,377.2 L68.2,375.6 L68.3,383.0 L68.4,378.0 L68.5,378.3 L68.6,379.9 L68.7,376.8 L68.7,379.3 L68.8,376.7 L68.9,378.3 L69.0,379.1 L69.1,379.9 L69.1,378.4 L69.2,380.7 L69.3,378.2 L69.4,375.7 L69.5,377.6 L69.6,381.6 L69.6,380.6 L69.7,377.4 L69.8,378.5 L69.9,376.9 L70.0,379.2 L70.0,377.2 L70.1,379.1 L70.2,378.3 L70.3,377.6 L70.4,377.7 L70.5,380.3 L70.5,376.6 L70.6,377.5 L70.7,378.7 L70.8,380.6 L70.9,380.2 L70.9,376.1 L71.0,382.0 L71.1,376.4 L71.2,378.0 L71.3,378.0 L71.3,376.8 L71.4,376.2 L71.5,379.9 L71.6,372.5 L71.7,379.1 L71.8,377.1 L71.8,379.4 L71.9,378.4 L72.0,377.5 L72.1,379.8 L72.2,379.4 L72.2,377.4 L72.3,379.5 L72.4,377.3 L72.5,379.7 L72.6,381.4 L72.7,378.9 L72.7,378.4 L72.8,379.7 L72.9,380.1 L73.0,379.2 L73.1,378.5 L73.1,379.5 L73.2,379.2 L73.3,375.9 L73.4,378.5 L73.5,382.4 L73.6,380.7 L73.6,378.8 L73.7,380.6 L73.8,379.1 L73.9,375.9 L74.0,381.5 L74.0,375.7 L74.1,379.8 L74.2,379.3 L74.3,378.5 L74.4,380.1 L74.5,381.2 L74.5,379.2 L74.6,381.1 L74.7,377.5 L74.8,378.9 L74.9,383.7 L74.9,378.3 L75.0,380.5 L75.1,377.9 L75.2,375.2 L75.3,381.5 L75.3,379.8 L75.4,376.7 L75.5,375.8 L75.6,379.0 L75.7,378.7 L75.8,378.2 L75.8,377.5 L75.9,377.4 L76.0,378.7 L76.1,377.7 L76.2,380.2 L76.2,379.4 L76.3,380.3 L76.4,380.7 L76.5,380.9 L76.6,375.7 L76.7,377.3 L76.7,382.3 L76.8,379.9 L76.9,379.9 L77.0,378.9 L77.1,377.6 L77.1,378.3 L77.2,378.6 L77.3,380.1 L77.4,378.9 L77.5,378.9 L77.6,380.8 L77.6,382.5 L77.7,378.1 L77.8,380.5 L77.9,377.9 L78.0,381.2 L78.0,378.8 L78.1,377.4 L78.2,381.0 L78.3,379.0 L78.4,378.2 L78.4,378.8 L78.5,380.0 L78.6,376.9 L78.7,381.5 L78.8,378.6 L78.9,377.3 L78.9,379.9 L79.0,378.3 L79.1,379.9 L79.2,379.1 L79.3,378.7 L79.3,378.6 L79.4,379.8 L79.5,378.8 L79.6,378.0 L79.7,378.4 L79.8,378.6 L79.8,380.5 L79.9,379.7 L80.0,379.4 L80.1,382.0 L80.2,377.8 L80.2,378.8 L80.3,375.7 L80.4,377.8 L80.5,379.0 L80.6,381.7 L80.7,381.9 L80.7,378.8 L80.8,381.7 L80.9,380.5 L81.0,378.6 L81.1,378.3 L81.1,376.2 L81.2,376.8 L81.3,380.5 L81.4,378.9 L81.5,381.3 L81.5,381.1 L81.6,379.2 L81.7,378.7 L81.8,378.0 L81.9,377.9 L82.0,376.1 L82.0,380.1 L82.1,377.4 L82.2,380.5 L82.3,380.3 L82.4,378.8 L82.4,376.0 L82.5,378.1 L82.6,378.6 L82.7,379.6 L82.8,381.0 L82.9,380.5 L82.9,378.3 L83.0,377.3 L83.1,380.0 L83.2,377.9 L83.3,379.9 L83.3,378.3 L83.4,378.2 L83.5,376.6 L83.6,377.8 L83.7,379.0 L83.8,376.7 L83.8,380.4 L83.9,379.0 L84.0,380.5 L84.1,378.6 L84.2,379.5 L84.2,377.5 L84.3,381.9 L84.4,376.3 L84.5,379.9 L84.6,379.9 L84.7,377.5 L84.7,379.8 L84.8,372.6 L84.9,376.8 L85.0,377.5 L85.1,379.2 L85.1,378.1 L85.2,377.2 L85.3,377.8 L85.4,380.9 L85.5,382.8 L85.5,378.9 L85.6,380.5 L85.7,378.8 L85.8,378.2 L85.9,380.2 L86.0,378.4 L86.0,377.4 L86.1,378.9 L86.2,380.3 L86.3,379.3 L86.4,377.7 L86.4,375.2 L86.5,374.0 L86.6,381.8 L86.7,378.4 L86.8,378.0 L86.9,378.6 L86.9,377.4 L87.0,378.7 L87.1,380.4 L87.2,379.8 L87.3,377.6 L87.3,377.8 L87.4,378.9 L87.5,377.9 L87.6,379.6 L87.7,380.2 L87.8,377.6 L87.8,378.9 L87.9,379.6 L88.0,382.1 L88.1,377.0 L88.2,378.7 L88.2,376.0 L88.3,382.2 L88.4,377.6 L88.5,377.0 L88.6,379.1 L88.6,381.1 L88.7,379.1 L88.8,378.8 L88.9,376.6 L89.0,379.9 L89.1,378.7 L89.1,376.3 L89.2,376.9 L89.3,377.8 L89.4,374.1 L89.5,379.3 L89.5,376.9 L89.6,377.3 L89.7,380.0 L89.8,376.2 L89.9,384.0 L90.0,378.7 L90.0,378.8 L90.1,376.2 L90.2,377.2 L90.3,378.4 L90.4,377.7 L90.4,375.9 L90.5,377.5 L90.6,374.5 L90.7,378.6 L90.8,377.5 L90.9,376.8 L90.9,379.3 L91.0,380.8 L91.1,377.5 L91.2,379.6 L91.3,378.0 L91.3,378.1 L91.4,378.5 L91.5,376.7 L91.6,380.5 L91.7,379.2 L91.7,377.8 L91.8,376.3 L91.9,378.2 L92.0,377.5 L92.1,379.0 L92.2,377.2 L92.2,377.6 L92.3,378.9 L92.4,380.9 L92.5,380.3 L92.6,378.4 L92.6,376.0 L92.7,381.3 L92.8,376.0 L92.9,378.6 L93.0,378.8 L93.1,375.9 L93.1,379.3 L93.2,374.5 L93.3,379.0 L93.4,379.9 L93.5,382.4 L93.5,378.3 L93.6,378.8 L93.7,374.7 L93.8,379.8 L93.9,380.5 L94.0,377.9 L94.0,377.8 L94.1,381.3 L94.2,379.9 L94.3,379.6 L94.4,378.6 L94.4,379.4 L94.5,377.5 L94.6,380.1 L94.7,379.2 L94.8,377.4 L94.9,378.8 L94.9,381.3 L95.0,378.7 L95.1,380.7 L95.2,377.5 L95.3,377.3 L95.3,380.7 L95.4,379.3 L95.5,376.6 L95.6,378.3 L95.7,377.5 L95.7,377.1 L95.8,380.2 L95.9,376.7 L96.0,378.8 L96.1,381.6 L96.2,382.9 L96.2,377.4 L96.3,382.0 L96.4,377.9 L96.5,376.5 L96.6,379.1 L96.6,377.5 L96.7,380.1 L96.8,378.0 L96.9,379.0 L97.0,378.4 L97.1,377.1 L97.1,378.8 L97.2,376.4 L97.3,377.2 L97.4,378.6 L97.5,379.1 L97.5,377.7 L97.6,378.0 L97.7,378.4 L97.8,379.2 L97.9,379.3 L98.0,379.8 L98.0,378.0 L98.1,379.5 L98.2,376.7 L98.3,375.0 L98.4,382.9 L98.4,381.0 L98.5,377.3 L98.6,379.7 L98.7,377.3 L98.8,384.2 L98.8,379.5 L98.9,376.7 L99.0,377.5 L99.1,377.9 L99.2,377.6 L99.3,377.2 L99.3,377.5 L99.4,378.4 L99.5,377.9 L99.6,379.2 L99.7,378.6 L99.7,376.8 L99.8,380.0 L99.9,378.4 L100.0,379.8 L100.1,378.2 L100.2,379.6 L100.2,380.3 L100.3,378.9 L100.4,385.9 L100.5,383.3 L100.6,378.3 L100.6,379.4 L100.7,379.7 L100.8,379.7 L100.9,380.9 L101.0,377.6 L101.1,376.4 L101.1,378.4 L101.2,378.4 L101.3,381.6 L101.4,379.5 L101.5,378.6 L101.5,377.2 L101.6,378.6 L101.7,379.2 L101.8,382.1 L101.9,380.3 L101.9,378.7 L102.0,375.2 L102.1,383.0 L102.2,377.1 L102.3,374.3 L102.4,377.8 L102.4,379.2 L102.5,377.3 L102.6,378.1 L102.7,377.6 L102.8,379.5 L102.8,382.4 L102.9,378.7 L103.0,380.3 L103.1,378.3 L103.2,377.8 L103.3,377.9 L103.3,379.3 L103.4,381.0 L103.5,379.1 L103.6,380.8 L103.7,379.4 L103.7,376.4 L103.8,378.8 L103.9,379.2 L104.0,373.6 L104.1,378.5 L104.2,380.5 L104.2,375.8 L104.3,377.8 L104.4,376.5 L104.5,378.9 L104.6,378.3 L104.6,378.7 L104.7,380.5 L104.8,377.9 L104.9,373.8 L105.0,377.1 L105.1,378.7 L105.1,378.3 L105.2,376.5 L105.3,380.0 L105.4,380.0 L105.5,378.7 L105.5,377.7 L105.6,376.7 L105.7,380.8 L105.8,376.3 L105.9,378.5 L105.9,379.8 L106.0,380.1 L106.1,371.8 L106.2,380.3 L106.3,378.9 L106.4,378.9 L106.4,377.8 L106.5,379.0 L106.6,381.0 L106.7,378.7 L106.8,376.6 L106.8,376.3 L106.9,377.5 L107.0,380.8 L107.1,378.5 L107.2,380.2 L107.3,378.3 L107.3,377.8 L107.4,379.3 L107.5,381.1 L107.6,379.7 L107.7,378.5 L107.7,378.0 L107.8,375.2 L107.9,377.2 L108.0,377.4 L108.1,377.2 L108.2,380.8 L108.2,375.4 L108.3,377.2 L108.4,377.6 L108.5,377.3 L108.6,378.2 L108.6,374.0 L108.7,376.6 L108.8,372.6 L108.9,372.5 L109.0,370.2 L109.0,371.6 L109.1,370.8 L109.2,369.5 L109.3,367.2 L109.4,368.3 L109.5,368.3 L109.5,368.1 L109.6,365.4 L109.7,368.7 L109.8,362.6 L109.9,367.1 L109.9,362.0 L110.0,361.2 L110.1,364.8 L110.2,362.7 L110.3,362.3 L110.4,360.8 L110.4,361.7 L110.5,359.1 L110.6,360.0 L110.7,361.2 L110.8,359.3 L110.8,362.7 L110.9,362.5 L111.0,360.6 L111.1,362.7 L111.2,364.9 L111.3,361.3 L111.3,361.7 L111.4,363.4 L111.5,365.5 L111.6,368.8 L111.7,369.6 L111.7,370.1 L111.8,373.8 L111.9,371.2 L112.0,377.6 L112.1,380.6 L112.1,377.9 L112.2,380.7 L112.3,384.9 L112.4,386.6 L112.5,386.5 L112.6,388.3 L112.6,388.7 L112.7,392.9 L112.8,392.5 L112.9,395.5 L113.0,393.9 L113.0,396.2 L113.1,397.1 L113.2,395.1 L113.3,398.8 L113.4,399.7 L113.5,396.1 L113.5,400.5 L113.6,396.2 L113.7,397.7 L113.8,394.1 L113.9,395.4 L113.9,394.6 L114.0,394.2 L114.1,393.1 L114.2,393.8 L114.3,393.8 L114.4,395.8 L114.4,388.3 L114.5,391.7 L114.6,389.5 L114.7,385.7 L114.8,390.8 L114.8,385.9 L114.9,388.2 L115.0,387.6 L115.1,387.9 L115.2,383.4 L115.3,386.8 L115.3,385.1 L115.4,383.9 L115.5,386.2 L115.6,380.8 L115.7,384.0 L115.7,382.5 L115.8,379.1 L115.9,380.4 L116.0,383.2 L116.1,382.0 L116.1,379.3 L116.2,381.7 L116.3,383.2 L116.4,379.3 L116.5,381.1 L116.6,377.4 L116.6,378.8 L116.7,377.3 L116.8,379.8 L116.9,381.6 L117.0,379.7 L117.0,378.0 L117.1,380.7 L117.2,378.2 L117.3,376.4 L117.4,375.4 L117.5,375.9 L117.5,380.0 L117.6,377.9 L117.7,379.5 L117.8,377.7 L117.9,376.8 L117.9,379.5 L118.0,379.6 L118.1,378.0 L118.2,377.8 L118.3,380.9 L118.4,378.1 L118.4,374.5 L118.5,377.4 L118.6,381.5 L118.7,379.5 L118.8,379.0 L118.8,377.9 L118.9,379.8 L119.0,378.7 L119.1,378.9 L119.2,380.0 L119.2,380.4 L119.3,378.5 L119.4,381.2 L119.5,372.6 L119.6,381.9 L119.7,376.7 L119.7,368.5 L119.8,378.4 L119.9,378.7 L120.0,377.9 L120.1,378.4 L120.1,380.2 L120.2,378.4 L120.3,379.7 L120.4,378.2 L120.5,381.1 L120.6,378.1 L120.6,379.6 L120.7,378.8 L120.8,380.5 L120.9,378.8 L121.0,377.5 L121.0,377.0 L121.1,378.0 L121.2,380.8 L121.3,376.8 L121.4,380.3 L121.5,380.3 L121.5,381.4 L121.6,378.1 L121.7,378.9 L121.8,376.4 L121.9,378.3 L121.9,381.0 L122.0,374.6 L122.1,378.3 L122.2,379.0 L122.3,380.4 L122.3,375.9 L122.4,381.5 L122.5,379.2 L122.6,380.6 L122.7,377.7 L122.8,377.9 L122.8,380.2 L122.9,383.2 L123.0,378.9 L123.1,379.4 L123.2,377.4 L123.2,384.8 L123.3,379.3 L123.4,382.2 L123.5,378.5 L123.6,376.7 L123.7,379.8 L123.7,376.8 L123.8,379.9 L123.9,379.4 L124.0,380.8 L124.1,379.6 L124.1,380.3 L124.2,378.5 L124.3,378.3 L124.4,379.6 L124.5,380.0 L124.6,379.9 L124.6,379.2 L124.7,379.4 L124.8,377.1 L124.9,375.3 L125.0,376.5 L125.0,376.6 L125.1,379.0 L125.2,378.6 L125.3,374.4 L125.4,380.5 L125.5,376.8 L125.5,377.3 L125.6,378.5 L125.7,378.7 L125.8,378.0 L125.9,378.8 L125.9,376.1 L126.0,378.4 L126.1,378.5 L126.2,378.2 L126.3,377.0 L126.3,380.8 L126.4,379.2 L126.5,380.5 L126.6,377.2 L126.7,376.3 L126.8,378.5 L126.8,379.7 L126.9,376.2 L127.0,379.3 L127.1,378.6 L127.2,381.0 L127.2,377.8 L127.3,380.3 L127.4,376.9 L127.5,380.9 L127.6,376.8 L127.7,380.0 L127.7,379.3 L127.8,379.6 L127.9,381.7 L128.0,375.6 L128.1,379.1 L128.1,381.8 L128.2,377.2 L128.3,381.5 L128.4,380.8 L128.5,377.4 L128.6,378.7 L128.6,383.3 L128.7,377.2 L128.8,381.3 L128.9,379.2 L129.0,375.5 L129.0,377.4 L129.1,379.5 L129.2,378.4 L129.3,379.8 L129.4,378.5 L129.4,376.4 L129.5,378.4 L129.6,377.5 L129.7,379.4 L129.8,378.5 L129.9,378.5 L129.9,376.5 L130.0,380.6 L130.1,379.0 L130.2,378.3 L130.3,377.7 L130.3,380.2 L130.4,379.4 L130.5,373.2 L130.6,377.1 L130.7,380.7 L130.8,380.9 L130.8,376.7 L130.9,373.7 L131.0,377.6 L131.1,379.9 L131.2,379.2 L131.2,376.0 L131.3,379.6 L131.4,378.7 L131.5,378.2 L131.6,378.2 L131.7,378.4 L131.7,382.6 L131.8,377.6 L131.9,380.1 L132.0,379.7 L132.1,378.8 L132.1,376.6 L132.2,379.5 L132.3,380.2 L132.4,373.7 L132.5,379.9 L132.5,377.1 L132.6,379.5 L132.7,378.1 L132.8,381.2 L132.9,377.8 L133.0,378.4 L133.0,379.3 L133.1,380.0 L133.2,377.5 L133.3,377.8 L133.4,379.7 L133.4,378.6 L133.5,378.8 L133.6,378.9 L133.7,375.0 L133.8,377.8 L133.9,376.4 L133.9,381.3 L134.0,375.6 L134.1,376.5 L134.2,380.1 L134.3,378.2 L134.3,379.3 L134.4,380.3 L134.5,380.8 L134.6,377.8 L134.7,379.6 L134.8,379.1 L134.8,375.5 L134.9,380.1 L135.0,378.6 L135.1,378.1 L135.2,378.8 L135.2,378.2 L135.3,376.9 L135.4,378.2 L135.5,377.2 L135.6,378.0 L135.7,379.0 L135.7,376.2 L135.8,377.7 L135.9,375.7 L136.0,378.4 L136.1,375.5 L136.1,378.7 L136.2,382.1 L136.3,377.2 L136.4,378.0 L136.5,377.9 L136.5,378.5 L136.6,378.1 L136.7,380.0 L136.8,378.7 L136.9,379.5 L137.0,381.6 L137.0,376.2 L137.1,377.6 L137.2,375.8 L137.3,377.7 L137.4,380.2 L137.4,377.1 L137.5,379.7 L137.6,377.5 L137.7,375.8 L137.8,377.2 L137.9,380.5 L137.9,378.9 L138.0,379.4 L138.1,381.7 L138.2,379.1 L138.3,380.3 L138.3,375.8 L138.4,381.7 L138.5,381.5 L138.6,377.5 L138.7,378.9 L138.8,372.9 L138.8,376.6 L138.9,380.6 L139.0,380.0 L139.1,378.9 L139.2,379.4 L139.2,377.9 L139.3,378.5 L139.4,378.9 L139.5,377.9 L139.6,381.5 L139.6,380.5 L139.7,378.7 L139.8,379.7 L139.9,380.0 L140.0,377.6 L140.1,381.8 L140.1,376.3 L140.2,378.6 L140.3,377.2 L140.4,377.5 L140.5,382.2 L140.5,376.8 L140.6,378.0 L140.7,378.7 L140.8,377.0 L140.9,379.3 L141.0,378.8 L141.0,377.8 L141.1,378.6 L141.2,376.5 L141.3,379.6 L141.4,378.4 L141.4,379.0 L141.5,379.3 L141.6,379.9 L141.7,379.6 L141.8,379.6 L141.9,377.4 L141.9,379.1 L142.0,377.1 L142.1,377.2 L142.2,378.9 L142.3,376.8 L142.3,378.1 L142.4,378.1 L142.5,379.0 L142.6,377.5 L142.7,377.5 L142.7,380.6 L142.8,377.9 L142.9,376.2 L143.0,380.1 L143.1,379.9 L143.2,378.3 L143.2,376.7 L143.3,377.1 L143.4,378.6 L143.5,380.5 L143.6,379.4 L143.6,379.5 L143.7,375.9 L143.8,377.5 L143.9,380.0 L144.0,381.2 L144.1,377.7 L144.1,376.1 L144.2,379.4 L144.3,380.2 L144.4,376.7 L144.5,377.8 L144.5,380.5 L144.6,378.6 L144.7,380.6 L144.8,377.9 L144.9,378.7 L145.0,380.9 L145.0,376.6 L145.1,379.2 L145.2,377.1 L145.3,380.3 L145.4,381.3 L145.4,378.0 L145.5,380.2 L145.6,379.3 L145.7,377.5 L145.8,380.3 L145.9,379.0 L145.9,377.8 L146.0,375.5 L146.1,376.7 L146.2,376.5 L146.3,382.3 L146.3,378.7 L146.4,380.5 L146.5,379.5 L146.6,384.5 L146.7,380.1 L146.7,379.3 L146.8,380.2 L146.9,381.1 L147.0,375.4 L147.1,377.4 L147.2,377.8 L147.2,381.8 L147.3,380.2 L147.4,380.9 L147.5,377.8 L147.6,381.7 L147.6,379.3 L147.7,375.6 L147.8,379.1 L147.9,376.7 L148.0,380.3 L148.1,377.4 L148.1,379.8 L148.2,380.7 L148.3,378.8 L148.4,380.2 L148.5,380.3 L148.5,379.0 L148.6,379.1 L148.7,375.1 L148.8,379.8 L148.9,375.7 L149.0,378.1 L149.0,376.8 L149.1,379.9 L149.2,380.3 L149.3,379.4 L149.4,378.2 L149.4,378.1 L149.5,378.2 L149.6,377.7 L149.7,380.8 L149.8,375.8 L149.8,378.5 L149.9,379.3 L150.0,377.9 L150.1,376.9 L150.2,379.9 L150.3,379.1 L150.3,378.3 L150.4,377.0 L150.5,379.1 L150.6,375.0 L150.7,377.6 L150.7,376.2 L150.8,380.5 L150.9,376.8 L151.0,379.2 L151.1,380.7 L151.2,377.0 L151.2,377.3 L151.3,380.0 L151.4,378.0 L151.5,377.3 L151.6,379.2 L151.6,376.6 L151.7,380.0 L151.8,377.6 L151.9,378.0 L152.0,380.1 L152.1,376.7 L152.1,379.5 L152.2,380.0 L152.3,377.6 L152.4,378.0 L152.5,381.7 L152.5,377.6 L152.6,380.3 L152.7,376.6 L152.8,377.6 L152.9,374.7 L152.9,379.5 L153.0,378.4 L153.1,376.9 L153.2,380.0 L153.3,379.6 L153.4,379.4 L153.4,380.8 L153.5,378.9 L153.6,380.5 L153.7,377.1 L153.8,379.2 L153.8,378.2 L153.9,379.8 L154.0,376.5 L154.1,380.0 L154.2,377.2 L154.3,379.1 L154.3,377.6 L154.4,379.0 L154.5,377.0 L154.6,376.2 L154.7,380.9 L154.7,376.2 L154.8,378.2 L154.9,380.8 L155.0,377.4 L155.1,377.8 L155.2,380.0 L155.2,375.9 L155.3,376.3 L155.4,378.2 L155.5,378.6 L155.6,376.3 L155.6,379.6 L155.7,376.5 L155.8,381.1 L155.9,379.8 L156.0,382.0 L156.1,377.2 L156.1,378.6 L156.2,380.4 L156.3,377.9 L156.4,377.8 L156.5,375.1 L156.5,379.3 L156.6,380.3 L156.7,378.8 L156.8,378.0 L156.9,376.4 L156.9,379.8 L157.0,382.5 L157.1,379.3 L157.2,380.4 L157.3,372.9 L157.4,379.6 L157.4,381.6 L157.5,376.4 L157.6,379.1 L157.7,377.2 L157.8,378.1 L157.8,379.0 L157.9,377.9 L158.0,378.6 L158.1,377.5 L158.2,377.3 L158.3,379.3 L158.3,377.3 L158.4,377.0 L158.5,381.4 L158.6,379.5 L158.7,380.2 L158.7,379.8 L158.8,377.7 L158.9,377.8 L159.0,377.4 L159.1,378.2 L159.2,379.5 L159.2,378.4 L159.3,379.4 L159.4,372.7 L159.5,378.8 L159.6,379.7 L159.6,383.3 L159.7,380.5 L159.8,378.6 L159.9,375.0 L160.0,378.5 L160.0,376.5 L160.1,379.7 L160.2,378.4 L160.3,378.4 L160.4,379.0 L160.5,377.7 L160.5,377.8 L160.6,379.1 L160.7,378.8 L160.8,380.2 L160.9,379.4 L160.9,377.3 L161.0,380.1 L161.1,380.8 L161.2,379.7 L161.3,375.4 L161.4,380.9 L161.4,377.9 L161.5,377.5 L161.6,379.1 L161.7,379.6 L161.8,378.3 L161.8,378.4 L161.9,378.7 L162.0,378.8 L162.1,378.3 L162.2,380.4 L162.3,380.4 L162.3,378.9 L162.4,380.3 L162.5,381.4 L162.6,379.2 L162.7,377.0 L162.7,378.5 L162.8,378.0 L162.9,375.1 L163.0,379.3 L163.1,376.4 L163.1,379.2 L163.2,379.7 L163.3,380.7 L163.4,376.9 L163.5,379.3 L163.6,375.2 L163.6,377.8 L163.7,376.4 L163.8,379.6 L163.9,380.1 L164.0,380.8 L164.0,379.1 L164.1,377.2 L164.2,375.5 L164.3,377.9 L164.4,379.7 L164.5,378.7 L164.5,376.8 L164.6,379.4 L164.7,379.1 L164.8,377.2 L164.9,377.9 L164.9,377.3 L165.0,380.3 L165.1,374.9 L165.2,375.3 L165.3,377.9 L165.4,380.1 L165.4,381.3 L165.5,379.8 L165.6,377.5 L165.7,380.1 L165.8,379.3 L165.8,379.2 L165.9,380.4 L166.0,377.2 L166.1,380.2 L166.2,377.3 L166.3,376.3 L166.3,380.0 L166.4,381.5 L166.5,379.0 L166.6,383.9 L166.7,379.2 L166.7,378.4 L166.8,379.5 L166.9,378.7 L167.0,377.6 L167.1,380.2 L167.1,376.4 L167.2,376.8 L167.3,379.3 L167.4,376.2 L167.5,377.2 L167.6,380.2 L167.6,378.4 L167.7,378.8 L167.8,382.1 L167.9,376.3 L168.0,375.9 L168.0,380.2 L168.1,377.5 L168.2,381.3 L168.3,376.6 L168.4,379.3 L168.5,377.7 L168.5,377.7 L168.6,378.4 L168.7,380.2 L168.8,382.0 L168.9,388.3 L168.9,374.6 L169.0,376.7 L169.1,379.0 L169.2,376.8 L169.3,382.8 L169.4,384.4 L169.4,379.8 L169.5,378.3 L169.6,381.0 L169.7,379.3 L169.8,375.8 L169.8,379.3 L169.9,380.0 L170.0,381.1 L170.1,378.8 L170.2,379.2 L170.2,378.4 L170.3,376.8 L170.4,378.8 L170.5,378.5 L170.6,374.8 L170.7,380.0 L170.7,380.0 L170.8,379.3 L170.9,379.1 L171.0,377.3 L171.1,377.3 L171.1,379.3 L171.2,377.8 L171.3,378.2 L171.4,380.5 L171.5,376.4 L171.6,376.9 L171.6,377.9 L171.7,378.7 L171.8,378.3 L171.9,379.0 L172.0,379.8 L172.0,381.3 L172.1,380.7 L172.2,379.1 L172.3,383.0 L172.4,377.5 L172.5,381.9 L172.5,377.9 L172.6,376.8 L172.7,377.7 L172.8,379.2 L172.9,379.7 L172.9,380.1 L173.0,375.9 L173.1,379.7 L173.2,379.8 L173.3,375.3 L173.3,376.8 L173.4,383.5 L173.5,380.4 L173.6,377.9 L173.7,378.2 L173.8,376.1 L173.8,377.1 L173.9,380.5 L174.0,379.8 L174.1,380.0 L174.2,376.3 L174.2,378.5 L174.3,381.6 L174.4,376.9 L174.5,379.0 L174.6,378.5 L174.7,381.1 L174.7,378.3 L174.8,377.5 L174.9,378.8 L175.0,377.8 L175.1,378.5 L175.1,379.7 L175.2,379.1 L175.3,378.1 L175.4,377.9 L175.5,378.5 L175.6,378.4 L175.6,376.7 L175.7,378.9 L175.8,378.1 L175.9,380.5 L176.0,376.6 L176.0,377.0 L176.1,377.8 L176.2,380.3 L176.3,379.4 L176.4,379.5 L176.5,379.5 L176.5,379.8 L176.6,378.2 L176.7,379.6 L176.8,379.8 L176.9,379.6 L176.9,379.1 L177.0,379.0 L177.1,375.9 L177.2,379.6 L177.3,377.0 L177.3,379.6 L177.4,380.7 L177.5,377.8 L177.6,379.5 L177.7,378.1 L177.8,382.0 L177.8,377.4 L177.9,369.8 L178.0,377.9 L178.1,379.2 L178.2,377.5 L178.2,376.5 L178.3,376.4 L178.4,380.0 L178.5,377.5 L178.6,378.4 L178.7,376.8 L178.7,378.2 L178.8,378.4 L178.9,378.5 L179.0,378.1 L179.1,379.3 L179.1,379.6 L179.2,378.2 L179.3,378.8 L179.4,380.7 L179.5,382.4 L179.6,378.6 L179.6,375.3 L179.7,379.4 L179.8,378.1 L179.9,380.7 L180.0,378.8 L180.0,378.9 L180.1,378.5 L180.2,380.7 L180.3,379.3 L180.4,376.8 L180.4,380.6 L180.5,382.6 L180.6,376.5 L180.7,379.5 L180.8,383.8 L180.9,381.1 L180.9,379.9 L181.0,379.7 L181.1,376.3 L181.2,376.6 L181.3,376.3 L181.3,377.9 L181.4,380.1 L181.5,379.3 L181.6,382.0 L181.7,383.2 L181.8,381.7 L181.8,378.8 L181.9,380.3 L182.0,381.0 L182.1,379.1 L182.2,380.1 L182.2,380.2 L182.3,379.0 L182.4,375.1 L182.5,380.6 L182.6,379.0 L182.7,376.9 L182.7,379.6 L182.8,378.2 L182.9,379.8 L183.0,381.0 L183.1,378.1 L183.1,378.4 L183.2,379.1 L183.3,378.3 L183.4,379.5 L183.5,377.4 L183.5,377.8 L183.6,379.4 L183.7,378.5 L183.8,379.3 L183.9,380.4 L184.0,378.6 L184.0,379.6 L184.1,379.9 L184.2,378.9 L184.3,378.9 L184.4,378.5 L184.4,377.7 L184.5,378.3 L184.6,379.3 L184.7,377.6 L184.8,380.9 L184.9,381.2 L184.9,378.1 L185.0,383.7 L185.1,378.1 L185.2,379.2 L185.3,377.1 L185.3,379.7 L185.4,377.4 L185.5,377.1 L185.6,374.6 L185.7,379.4 L185.8,380.0 L185.8,380.2 L185.9,377.3 L186.0,378.7 L186.1,379.1 L186.2,381.8 L186.2,377.9 L186.3,377.3 L186.4,379.8 L186.5,377.6 L186.6,380.9 L186.7,376.3 L186.7,378.1 L186.8,378.6 L186.9,379.5 L187.0,378.4 L187.1,379.4 L187.1,379.2 L187.2,378.9 L187.3,379.3 L187.4,378.6 L187.5,383.8 L187.5,381.7 L187.6,377.8 L187.7,375.0 L187.8,378.8 L187.9,379.2 L188.0,377.5 L188.0,380.7 L188.1,379.8 L188.2,375.5 L188.3,376.6 L188.4,380.3 L188.4,379.1 L188.5,380.1 L188.6,379.5 L188.7,378.8 L188.8,379.5 L188.9,376.8 L188.9,379.3 L189.0,377.5 L189.1,379.4 L189.2,381.6 L189.3,377.0 L189.3,383.5 L189.4,376.9 L189.5,379.2 L189.6,377.1 L189.7,375.3 L189.8,381.2 L189.8,378.7 L189.9,377.9 L190.0,375.6 L190.1,378.5 L190.2,378.0 L190.2,377.1 L190.3,379.2 L190.4,376.6 L190.5,380.4 L190.6,379.2 L190.6,379.0 L190.7,377.5 L190.8,379.6 L190.9,379.1 L191.0,378.2 L191.1,379.5 L191.1,379.0 L191.2,378.4 L191.3,378.3 L191.4,376.6 L191.5,378.9 L191.5,380.4 L191.6,378.3 L191.7,379.4 L191.8,376.8 L191.9,379.5 L192.0,378.7 L192.0,380.6 L192.1,382.0 L192.2,378.4 L192.3,377.9 L192.4,378.2 L192.4,378.0 L192.5,386.4 L192.6,381.2 L192.7,378.0 L192.8,379.6 L192.9,377.1 L192.9,377.4 L193.0,376.1 L193.1,379.4 L193.2,379.0 L193.3,382.2 L193.3,379.4 L193.4,378.8 L193.5,380.1 L193.6,379.4 L193.7,378.2 L193.7,377.8 L193.8,376.8 L193.9,381.5 L194.0,375.9 L194.1,376.8 L194.2,379.5 L194.2,378.9 L194.3,380.6 L194.4,379.1 L194.5,379.6 L194.6,378.1 L194.6,377.3 L194.7,376.7 L194.8,379.4 L194.9,381.0 L195.0,379.8 L195.1,375.9 L195.1,380.3 L195.2,377.4 L195.3,376.8 L195.4,377.6 L195.5,378.1 L195.5,381.3 L195.6,387.8 L195.7,380.6 L195.8,380.4 L195.9,378.0 L196.0,377.4 L196.0,379.3 L196.1,377.6 L196.2,378.0 L196.3,377.8 L196.4,377.5 L196.4,378.4 L196.5,377.2 L196.6,378.2 L196.7,380.5 L196.8,376.4 L196.9,380.2 L196.9,381.0 L197.0,381.0 L197.1,379.0 L197.2,380.2 L197.3,380.0 L197.3,381.1 L197.4,375.4 L197.5,380.1 L197.6,378.0 L197.7,380.8 L197.7,378.0 L197.8,382.0 L197.9,382.6 L198.0,379.5 L198.1,378.4 L198.2,379.9 L198.2,378.1 L198.3,376.9 L198.4,376.6 L198.5,380.1 L198.6,378.1 L198.6,381.6 L198.7,377.9 L198.8,380.2 L198.9,377.9 L199.0,380.0 L199.1,378.7 L199.1,374.4 L199.2,376.7 L199.3,380.2 L199.4,379.8 L199.5,380.6 L199.5,376.1 L199.6,377.6 L199.7,378.0 L199.8,380.3 L199.9,381.3 L200.0,375.7 L200.0,377.9 L200.1,377.2 L200.2,379.1 L200.3,381.4 L200.4,380.9 L200.4,376.8 L200.5,379.2 L200.6,378.2 L200.7,376.1 L200.8,375.1 L200.8,378.2 L200.9,379.9 L201.0,381.8 L201.1,379.8 L201.2,375.5 L201.3,380.2 L201.3,380.0 L201.4,380.0 L201.5,379.9 L201.6,380.7 L201.7,380.3 L201.7,381.9 L201.8,378.1 L201.9,378.8 L202.0,380.4 L202.1,379.3 L202.2,384.3 L202.2,379.1 L202.3,377.9 L202.4,377.3 L202.5,381.0 L202.6,377.0 L202.6,379.2 L202.7,375.9 L202.8,382.7 L202.9,376.5 L203.0,379.4 L203.1,380.2 L203.1,379.2 L203.2,379.9 L203.3,377.3 L203.4,381.3 L203.5,382.1 L203.5,379.0 L203.6,375.6 L203.7,379.2 L203.8,377.1 L203.9,378.1 L203.9,377.4 L204.0,379.5 L204.1,377.1 L204.2,380.0 L204.3,377.7 L204.4,377.7 L204.4,375.2 L204.5,380.6 L204.6,380.9 L204.7,378.6 L204.8,380.6 L204.8,378.7 L204.9,380.0 L205.0,380.0 L205.1,378.9 L205.2,378.6 L205.3,379.1 L205.3,381.0 L205.4,375.5 L205.5,376.7 L205.6,377.7 L205.7,381.2 L205.7,377.0 L205.8,381.2 L205.9,382.0 L206.0,378.2 L206.1,380.1 L206.2,379.3 L206.2,377.0 L206.3,377.0 L206.4,375.1 L206.5,379.9 L206.6,381.1 L206.6,376.3 L206.7,377.1 L206.8,378.7 L206.9,379.3 L207.0,377.7 L207.1,373.8 L207.1,375.3 L207.2,374.5 L207.3,373.3 L207.4,378.0 L207.5,377.5 L207.5,377.8 L207.6,375.3 L207.7,376.4 L207.8,376.1 L207.9,375.0 L207.9,372.5 L208.0,371.2 L208.1,370.8 L208.2,372.2 L208.3,371.6 L208.4,370.0 L208.4,373.1 L208.5,367.3 L208.6,364.2 L208.7,365.8 L208.8,367.0 L208.8,366.4 L208.9,364.1 L209.0,361.3 L209.1,366.6 L209.2,363.2 L209.3,363.3 L209.3,360.5 L209.4,361.6 L209.5,364.0 L209.6,361.3 L209.7,358.9 L209.7,367.0 L209.8,365.7 L209.9,359.6 L210.0,363.3 L210.1,363.9 L210.2,367.7 L210.2,366.8 L210.3,368.6 L210.4,368.5 L210.5,371.9 L210.6,371.8 L210.6,373.9 L210.7,373.1 L210.8,376.8 L210.9,382.4 L211.0,380.0 L211.0,378.7 L211.1,384.9 L211.2,384.5 L211.3,384.3 L211.4,385.9 L211.5,387.7 L211.5,388.2 L211.6,391.4 L211.7,391.4 L211.8,392.2 L211.9,395.1 L211.9,393.3 L212.0,396.1 L212.1,393.0 L212.2,393.5 L212.3,395.0 L212.4,394.6 L212.4,390.4 L212.5,396.2 L212.6,396.6 L212.7,391.9 L212.8,392.3 L212.8,392.9 L212.9,389.3 L213.0,391.6 L213.1,387.8 L213.2,389.5 L213.3,390.8 L213.3,387.0 L213.4,389.1 L213.5,388.6 L213.6,387.6 L213.7,385.8 L213.7,385.2 L213.8,383.4 L213.9,385.0 L214.0,385.7 L214.1,381.7 L214.1,382.4 L214.2,382.8 L214.3,383.3 L214.4,382.6 L214.5,381.2 L214.6,379.9 L214.6,380.3 L214.7,382.8 L214.8,378.4 L214.9,380.1 L215.0,380.3 L215.0,380.4 L215.1,379.3 L215.2,375.6 L215.3,377.2 L215.4,380.2 L215.5,379.0 L215.5,378.8 L215.6,376.4 L215.7,379.4 L215.8,377.9 L215.9,377.2 L215.9,380.5 L216.0,377.6 L216.1,380.5 L216.2,380.4 L216.3,380.3 L216.4,376.8 L216.4,378.0 L216.5,375.7 L216.6,377.3 L216.7,381.4 L216.8,379.4 L216.8,379.6 L216.9,376.6 L217.0,379.0 L217.1,379.1 L217.2,381.9 L217.3,379.7 L217.3,377.7 L217.4,382.3 L217.5,380.2 L217.6,378.3 L217.7,380.3 L217.7,379.9 L217.8,380.5 L217.9,380.2 L218.0,377.6 L218.1,382.2 L218.1,376.2 L218.2,378.2 L218.3,377.9 L218.4,379.4 L218.5,379.0 L218.6,379.9 L218.6,379.0 L218.7,378.0 L218.8,380.9 L218.9,381.9 L219.0,375.9 L219.0,378.8 L219.1,379.0 L219.2,378.5 L219.3,377.4 L219.4,379.4 L219.5,376.4 L219.5,380.6 L219.6,378.0 L219.7,380.0 L219.8,382.9 L219.9,379.7 L219.9,379.9 L220.0,380.4 L220.1,376.5 L220.2,380.0 L220.3,378.4 L220.4,377.7 L220.4,376.1 L220.5,377.9 L220.6,377.1 L220.7,378.8 L220.8,381.5 L220.8,376.2 L220.9,378.3 L221.0,376.4 L221.1,379.2 L221.2,380.8 L221.2,380.2 L221.3,378.4 L221.4,378.6 L221.5,377.2 L221.6,377.4 L221.7,379.1 L221.7,375.9 L221.8,379.3 L221.9,377.1 L222.0,378.8 L222.1,379.4 L222.1,378.5 L222.2,379.1 L222.3,376.9 L222.4,381.1 L222.5,377.6 L222.6,378.6 L222.6,379.9 L222.7,380.6 L222.8,378.2 L222.9,378.1 L223.0,379.9 L223.0,380.5 L223.1,375.5 L223.2,378.4 L223.3,380.4 L223.4,376.7 L223.5,378.7 L223.5,377.1 L223.6,378.7 L223.7,375.7 L223.8,378.6 L223.9,379.9 L223.9,379.9 L224.0,377.6 L224.1,378.3 L224.2,379.1 L224.3,378.7 L224.3,378.3 L224.4,381.2 L224.5,378.0 L224.6,379.7 L224.7,378.6 L224.8,378.2 L224.8,378.3 L224.9,376.7 L225.0,379.5 L225.1,378.8 L225.2,380.8 L225.2,378.2 L225.3,379.3 L225.4,378.6 L225.5,377.7 L225.6,377.6 L225.7,378.0 L225.7,378.8 L225.8,379.3 L225.9,378.0 L226.0,376.3 L226.1,376.8 L226.1,381.0 L226.2,385.4 L226.3,378.2 L226.4,378.5 L226.5,376.7 L226.6,376.9 L226.6,376.3 L226.7,377.7 L226.8,379.9 L226.9,378.4 L227.0,376.5 L227.0,378.6 L227.1,378.3 L227.2,377.7 L227.3,376.1 L227.4,378.0 L227.5,377.5 L227.5,379.1 L227.6,376.9 L227.7,379.3 L227.8,378.0 L227.9,375.6 L227.9,379.8 L228.0,378.4 L228.1,380.0 L228.2,379.2 L228.3,378.0 L228.3,376.4 L228.4,378.7 L228.5,381.1 L228.6,379.7 L228.7,375.6 L228.8,375.8 L228.8,380.9 L228.9,378.8 L229.0,377.7 L229.1,380.3 L229.2,378.2 L229.2,376.0 L229.3,381.9 L229.4,379.1 L229.5,378.4 L229.6,377.3 L229.7,378.5 L229.7,377.5 L229.8,380.0 L229.9,377.8 L230.0,381.0 L230.1,378.6 L230.1,376.3 L230.2,375.3 L230.3,381.2 L230.4,377.0 L230.5,380.0 L230.6,378.7 L230.6,377.5 L230.7,379.0 L230.8,379.3 L230.9,381.1 L231.0,382.9 L231.0,378.3 L231.1,379.3 L231.2,379.5 L231.3,378.5 L231.4,376.9 L231.4,382.3 L231.5,376.4 L231.6,378.8 L231.7,380.3 L231.8,377.9 L231.9,377.8 L231.9,377.8 L232.0,378.5 L232.1,376.8 L232.2,377.7 L232.3,380.3 L232.3,376.6 L232.4,379.0 L232.5,378.7 L232.6,381.6 L232.7,375.6 L232.8,380.2 L232.8,380.5 L232.9,377.8 L233.0,376.0 L233.1,377.7 L233.2,380.7 L233.2,380.7 L233.3,381.3 L233.4,379.3 L233.5,377.7 L233.6,378.4 L233.7,377.4 L233.7,378.4 L233.8,378.7 L233.9,377.8 L234.0,378.9 L234.1,379.4 L234.1,377.1 L234.2,378.0 L234.3,378.5 L234.4,380.5 L234.5,380.5 L234.5,378.9 L234.6,380.2 L234.7,378.5 L234.8,377.2 L234.9,376.6 L235.0,378.3 L235.0,375.7 L235.1,379.6 L235.2,379.3 L235.3,378.4 L235.4,379.9 L235.4,379.5 L235.5,379.1 L235.6,376.9 L235.7,377.2 L235.8,380.5 L235.9,378.1 L235.9,379.9 L236.0,380.3 L236.1,380.7 L236.2,378.3 L236.3,377.3 L236.3,378.0 L236.4,377.7 L236.5,379.6 L236.6,382.8 L236.7,375.2 L236.8,380.1 L236.8,379.6 L236.9,378.8 L237.0,379.8 L237.1,378.4 L237.2,380.3 L237.2,378.9 L237.3,378.6 L237.4,379.5 L237.5,380.0 L237.6,378.6 L237.7,379.5 L237.7,377.0 L237.8,379.9 L237.9,377.4 L238.0,379.3 L238.1,379.2 L238.1,378.8 L238.2,378.2 L238.3,377.4 L238.4,377.3 L238.5,376.2 L238.5,377.5 L238.6,377.3 L238.7,377.8 L238.8,377.4 L238.9,378.3 L239.0,378.2 L239.0,378.3 L239.1,378.2 L239.2,379.6 L239.3,380.0 L239.4,378.0 L239.4,377.9 L239.5,378.8 L239.6,375.9 L239.7,381.0 L239.8,379.8 L239.9,379.5 L239.9,378.8 L240.0,379.6 L240.1,376.3 L240.2,376.8 L240.3,378.8 L240.3,376.8 L240.4,377.8 L240.5,379.9 L240.6,379.3 L240.7,377.8 L240.8,380.4 L240.8,378.5 L240.9,381.0 L241.0,380.2 L241.1,375.8 L241.2,379.8 L241.2,377.5 L241.3,377.8 L241.4,377.9 L241.5,381.0 L241.6,381.3 L241.6,376.1 L241.7,380.2 L241.8,378.6 L241.9,381.7 L242.0,381.0 L242.1,376.5 L242.1,380.3 L242.2,376.1 L242.3,376.7 L242.4,381.5 L242.5,378.8 L242.5,378.5 L242.6,380.2 L242.7,380.2 L242.8,376.2 L242.9,378.4 L243.0,377.2 L243.0,378.9 L243.1,378.4 L243.2,378.1 L243.3,378.4 L243.4,380.3 L243.4,378.3 L243.5,379.6 L243.6,376.5 L243.7,376.5 L243.8,380.3 L243.9,379.4 L243.9,379.0 L244.0,380.6 L244.1,378.9 L244.2,379.3 L244.3,379.7 L244.3,376.2 L244.4,379.4 L244.5,376.5 L244.6,378.2 L244.7,379.4 L244.7,378.4 L244.8,378.3 L244.9,380.2 L245.0,378.3 L245.1,379.8 L245.2,380.2 L245.2,378.0 L245.3,378.3 L245.4,377.3 L245.5,377.9 L245.6,376.8 L245.6,376.1 L245.7,375.4 L245.8,378.4 L245.9,379.7 L246.0,378.5 L246.1,382.0 L246.1,378.6 L246.2,378.3 L246.3,375.3 L246.4,381.1 L246.5,379.6 L246.5,379.0 L246.6,380.7 L246.7,377.7 L246.8,380.4 L246.9,377.7 L247.0,377.2 L247.0,378.6 L247.1,378.6 L247.2,377.4 L247.3,381.6 L247.4,380.9 L247.4,379.2 L247.5,381.4 L247.6,379.1 L247.7,372.4 L247.8,379.3 L247.9,376.0 L247.9,377.4 L248.0,381.0 L248.1,378.1 L248.2,378.6 L248.3,379.9 L248.3,380.6 L248.4,377.5 L248.5,378.6 L248.6,378.0 L248.7,379.8 L248.7,378.7 L248.8,376.8 L248.9,379.0 L249.0,378.0 L249.1,376.6 L249.2,376.4 L249.2,377.5 L249.3,379.8 L249.4,377.3 L249.5,379.4 L249.6,378.1 L249.6,375.5 L249.7,378.6 L249.8,381.3 L249.9,381.4 L250.0,379.3 L250.1,376.7 L250.1,377.8 L250.2,379.0 L250.3,378.1 L250.4,380.8 L250.5,376.7 L250.5,379.4 L250.6,376.0 L250.7,377.9 L250.8,377.0 L250.9,381.0 L251.0,376.0 L251.0,376.5 L251.1,379.7 L251.2,380.4 L251.3,377.2 L251.4,379.8 L251.4,377.5 L251.5,380.0 L251.6,379.0 L251.7,373.3 L251.8,378.5 L251.8,378.1 L251.9,378.6 L252.0,378.1 L252.1,379.4 L252.2,382.3 L252.3,378.1 L252.3,379.0 L252.4,377.7 L252.5,376.1 L252.6,375.9 L252.7,376.8 L252.7,378.4 L252.8,378.4 L252.9,378.4 L253.0,377.9 L253.1,378.1 L253.2,380.8 L253.2,382.6 L253.3,380.2 L253.4,378.0 L253.5,373.4 L253.6,379.6 L253.6,378.3 L253.7,377.8 L253.8,376.8 L253.9,383.1 L254.0,377.6 L254.1,382.0 L254.1,377.7 L254.2,381.9 L254.3,376.3 L254.4,379.6 L254.5,379.0 L254.5,378.8 L254.6,378.8 L254.7,378.9 L254.8,378.7 L254.9,379.7 L254.9,380.6 L255.0,374.7 L255.1,379.7 L255.2,379.4 L255.3,377.2 L255.4,377.9 L255.4,381.5 L255.5,379.2 L255.6,380.0 L255.7,379.4 L255.8,379.3 L255.8,379.3 L255.9,375.0 L256.0,378.7 L256.1,379.6 L256.2,376.8 L256.3,379.9 L256.3,376.2 L256.4,377.2 L256.5,376.1 L256.6,376.5 L256.7,378.8 L256.7,376.0 L256.8,381.4 L256.9,378.6 L257.0,379.0 L257.1,377.1 L257.2,376.9 L257.2,378.7 L257.3,378.6 L257.4,380.5 L257.5,376.9 L257.6,379.3 L257.6,373.4 L257.7,376.6 L257.8,378.8 L257.9,379.8 L258.0,379.9 L258.1,376.8 L258.1,378.3 L258.2,378.3 L258.3,379.0 L258.4,379.2 L258.5,381.3 L258.5,378.3 L258.6,377.9 L258.7,377.9 L258.8,376.9 L258.9,377.0 L258.9,379.5 L259.0,377.7 L259.1,379.3 L259.2,375.9 L259.3,379.2 L259.4,377.6 L259.4,380.1 L259.5,377.8 L259.6,381.1 L259.7,381.7 L259.8,378.0 L259.8,377.3 L259.9,376.6 L260.0,378.2 L260.1,377.9 L260.2,378.9 L260.3,377.1 L260.3,379.5 L260.4,379.2 L260.5,374.1 L260.6,379.9 L260.7,377.1 L260.7,379.0 L260.8,377.6 L260.9,378.5 L261.0,380.2 L261.1,380.3 L261.2,381.3 L261.2,375.6 L261.3,377.1 L261.4,380.6 L261.5,380.1 L261.6,374.5 L261.6,378.5 L261.7,378.6 L261.8,379.5 L261.9,378.7 L262.0,380.2 L262.0,382.2 L262.1,378.9 L262.2,382.6 L262.3,376.7 L262.4,377.0 L262.5,378.6 L262.5,378.6 L262.6,378.9 L262.7,378.3 L262.8,379.4 L262.9,377.2 L262.9,380.1 L263.0,380.8 L263.1,377.2 L263.2,377.9 L263.3,378.8 L263.4,377.7 L263.4,377.4 L263.5,373.4 L263.6,378.9 L263.7,377.3 L263.8,376.4 L263.8,377.7 L263.9,379.4 L264.0,377.4 L264.1,376.9 L264.2,380.9 L264.3,378.7 L264.3,379.1 L264.4,379.8 L264.5,378.1 L264.6,378.1 L264.7,379.8 L264.7,379.8 L264.8,377.7 L264.9,380.2 L265.0,381.5 L265.1,376.7 L265.1,379.7 L265.2,377.4 L265.3,378.0 L265.4,380.0 L265.5,378.0 L265.6,378.7 L265.6,377.7 L265.7,376.5 L265.8,380.1 L265.9,377.9 L266.0,378.5 L266.0,373.7 L266.1,380.2 L266.2,378.8 L266.3,379.1 L266.4,380.6 L266.5,380.9 L266.5,377.7 L266.6,377.5 L266.7,378.7 L266.8,376.5 L266.9,377.4 L266.9,378.9 L267.0,376.2 L267.1,379.4 L267.2,380.3 L267.3,383.6 L267.4,380.1 L267.4,380.6 L267.5,378.7 L267.6,381.7 L267.7,378.6 L267.8,378.0 L267.8,380.4 L267.9,376.9 L268.0,376.9 L268.1,378.2 L268.2,378.8 L268.3,375.8 L268.3,381.0 L268.4,380.0 L268.5,380.5 L268.6,376.7 L268.7,378.8 L268.7,378.6 L268.8,377.1 L268.9,380.5 L269.0,378.9 L269.1,379.5 L269.1,378.2 L269.2,378.7 L269.3,377.2 L269.4,378.7 L269.5,377.2 L269.6,380.4 L269.6,376.7 L269.7,379.4 L269.8,380.2 L269.9,378.5 L270.0,379.7 L270.0,379.3 L270.1,380.4 L270.2,378.7 L270.3,380.0 L270.4,379.0 L270.5,378.3 L270.5,380.7 L270.6,380.3 L270.7,378.8 L270.8,379.5 L270.9,381.7 L270.9,378.3 L271.0,376.9 L271.1,380.5 L271.2,376.5 L271.3,378.4 L271.4,375.8 L271.4,380.4 L271.5,380.6 L271.6,379.0 L271.7,378.4 L271.8,380.8 L271.8,382.5 L271.9,379.1 L272.0,378.0 L272.1,380.3 L272.2,378.6 L272.2,379.5 L272.3,382.1 L272.4,380.3 L272.5,378.0 L272.6,378.3 L272.7,377.8 L272.7,377.8 L272.8,379.9 L272.9,379.7 L273.0,378.2 L273.1,376.1 L273.1,376.2 L273.2,381.1 L273.3,378.0 L273.4,380.6 L273.5,376.7 L273.6,380.9 L273.6,379.7 L273.7,380.7 L273.8,376.5 L273.9,381.6 L274.0,381.3 L274.0,379.8 L274.1,376.6 L274.2,377.9 L274.3,377.9 L274.4,381.0 L274.5,376.0 L274.5,378.5 L274.6,375.4 L274.7,379.0 L274.8,378.4 L274.9,379.0 L274.9,375.8 L275.0,377.2 L275.1,378.1 L275.2,378.1 L275.3,381.8 L275.3,378.5 L275.4,379.4 L275.5,383.6 L275.6,376.8 L275.7,378.7 L275.8,378.6 L275.8,379.9 L275.9,377.4 L276.0,379.3 L276.1,380.6 L276.2,380.6 L276.2,378.8 L276.3,377.8 L276.4,375.4 L276.5,380.3 L276.6,380.1 L276.7,377.2 L276.7,379.1 L276.8,380.1 L276.9,379.0 L277.0,379.6 L277.1,377.2 L277.1,379.5 L277.2,378.1 L277.3,380.3 L277.4,378.1 L277.5,381.7 L277.6,377.9 L277.6,377.5 L277.7,378.5 L277.8,379.6 L277.9,380.4 L278.0,377.6 L278.0,376.6 L278.1,379.2 L278.2,379.4 L278.3,380.1 L278.4,378.8 L278.5,381.0 L278.5,378.5 L278.6,379.6 L278.7,380.6 L278.8,379.8 L278.9,379.2 L278.9,381.2 L279.0,379.8 L279.1,375.7 L279.2,379.3 L279.3,379.0 L279.3,379.0 L279.4,378.9 L279.5,380.0 L279.6,381.1 L279.7,377.3 L279.8,379.8 L279.8,381.9 L279.9,379.4 L280.0,378.9 L280.1,378.4 L280.2,376.6 L280.2,377.7 L280.3,379.1 L280.4,377.4 L280.5,375.2 L280.6,382.4 L280.7,379.4 L280.7,375.0 L280.8,378.6 L280.9,378.0 L281.0,381.2 L281.1,380.8 L281.1,381.5 L281.2,378.0 L281.3,377.4 L281.4,379.1 L281.5,378.7 L281.6,376.1 L281.6,377.9 L281.7,374.6 L281.8,379.1 L281.9,378.7 L282.0,377.6 L282.0,379.8 L282.1,379.0 L282.2,381.1 L282.3,376.6 L282.4,375.6 L282.4,378.4 L282.5,379.8 L282.6,378.4 L282.7,379.4 L282.8,380.3 L282.9,378.5 L282.9,378.8 L283.0,378.7 L283.1,377.7 L283.2,380.5 L283.3,376.7 L283.3,376.6 L283.4,378.1 L283.5,381.1 L283.6,380.6 L283.7,382.3 L283.8,380.4 L283.8,377.7 L283.9,377.6 L284.0,379.9 L284.1,379.7 L284.2,379.2 L284.2,380.5 L284.3,376.1 L284.4,378.7 L284.5,380.8 L284.6,378.1 L284.7,375.9 L284.7,378.4 L284.8,376.5 L284.9,379.3 L285.0,378.6 L285.1,377.5 L285.1,377.0 L285.2,382.3 L285.3,378.7 L285.4,378.0 L285.5,380.0 L285.5,378.6 L285.6,380.7 L285.7,376.6 L285.8,378.7 L285.9,378.5 L286.0,379.6 L286.0,381.4 L286.1,376.0 L286.2,378.1 L286.3,379.8 L286.4,377.8 L286.4,380.5 L286.5,378.8 L286.6,377.8 L286.7,380.3 L286.8,377.4 L286.9,379.8 L286.9,380.8 L287.0,378.2 L287.1,378.2 L287.2,379.2 L287.3,378.4 L287.3,378.7 L287.4,377.7 L287.5,380.3 L287.6,379.3 L287.7,381.3 L287.8,383.9 L287.8,380.1 L287.9,378.2 L288.0,377.0 L288.1,376.9 L288.2,379.4 L288.2,376.7 L288.3,378.8 L288.4,379.8 L288.5,380.3 L288.6,380.2 L288.7,377.5 L288.7,380.1 L288.8,378.9 L288.9,379.8 L289.0,378.2 L289.1,380.6 L289.1,381.2 L289.2,377.3 L289.3,381.9 L289.4,377.6 L289.5,378.6 L289.5,380.0 L289.6,382.2 L289.7,376.9 L289.8,381.5 L289.9,382.2 L290.0,377.4 L290.0,378.8 L290.1,379.3 L290.2,374.8 L290.3,379.3 L290.4,376.8 L290.4,377.7 L290.5,377.8 L290.6,378.1 L290.7,377.9 L290.8,380.3 L290.9,378.4 L290.9,379.1 L291.0,377.1 L291.1,379.3 L291.2,378.2 L291.3,378.3 L291.3,378.9 L291.4,380.0 L291.5,379.9 L291.6,378.2 L291.7,379.1 L291.8,376.3 L291.8,379.9 L291.9,378.7 L292.0,381.3 L292.1,378.8 L292.2,377.7 L292.2,379.5 L292.3,374.7 L292.4,378.9 L292.5,379.6 L292.6,379.4 L292.6,377.9 L292.7,380.7 L292.8,378.1 L292.9,377.5 L293.0,381.3 L293.1,378.1 L293.1,377.2 L293.2,377.5 L293.3,377.7 L293.4,378.4 L293.5,380.1 L293.5,378.0 L293.6,379.7 L293.7,380.1 L293.8,377.1 L293.9,374.9 L294.0,376.8 L294.0,378.8 L294.1,378.8 L294.2,381.3 L294.3,377.7 L294.4,379.6 L294.4,379.3 L294.5,377.2 L294.6,377.3 L294.7,380.7 L294.8,379.7 L294.9,379.2 L294.9,377.2 L295.0,376.5 L295.1,380.2 L295.2,375.8 L295.3,378.9 L295.3,378.5 L295.4,375.4 L295.5,376.2 L295.6,379.0 L295.7,377.9 L295.7,378.6 L295.8,379.9 L295.9,378.7 L296.0,382.2 L296.1,375.1 L296.2,378.5 L296.2,379.0 L296.3,379.4 L296.4,380.7 L296.5,380.0 L296.6,379.0 L296.6,379.3 L296.7,380.8 L296.8,381.7 L296.9,380.9 L297.0,380.5 L297.1,375.3 L297.1,380.0 L297.2,376.4 L297.3,380.7 L297.4,382.0 L297.5,381.4 L297.5,378.0 L297.6,380.9 L297.7,380.8 L297.8,378.0 L297.9,379.2 L298.0,380.8 L298.0,375.2 L298.1,378.1 L298.2,381.0 L298.3,378.4 L298.4,381.3 L298.4,378.5 L298.5,381.5 L298.6,377.0 L298.7,378.6 L298.8,377.3 L298.9,379.9 L298.9,380.3 L299.0,377.6 L299.1,377.8 L299.2,378.4 L299.3,377.4 L299.3,380.9 L299.4,382.7 L299.5,379.7 L299.6,377.8 L299.7,380.3 L299.7,379.1 L299.8,376.5 L299.9,377.1 L300.0,377.0 L300.1,377.2 L300.2,378.7 L300.2,379.2 L300.3,379.3 L300.4,375.0 L300.5,378.7 L300.6,376.5 L300.6,378.5 L300.7,381.0 L300.8,376.8 L300.9,379.6 L301.0,378.3 L301.1,378.7 L301.1,379.3 L301.2,383.0 L301.3,380.1 L301.4,380.2 L301.5,377.2 L301.5,378.4 L301.6,379.1 L301.7,378.3 L301.8,379.9 L301.9,379.3 L302.0,380.7 L302.0,382.2 L302.1,380.8 L302.2,378.7 L302.3,376.7 L302.4,378.4 L302.4,379.7 L302.5,378.4 L302.6,378.8 L302.7,377.8 L302.8,379.1 L302.8,382.3 L302.9,379.8 L303.0,378.2 L303.1,377.9 L303.2,379.4 L303.3,379.1 L303.3,376.7 L303.4,376.2 L303.5,375.8 L303.6,375.8 L303.7,380.9 L303.7,378.3 L303.8,381.4 L303.9,377.0 L304.0,378.6 L304.1,379.4 L304.2,376.0 L304.2,379.5 L304.3,378.7 L304.4,375.9 L304.5,375.5 L304.6,378.6 L304.6,380.0 L304.7,377.3 L304.8,378.7 L304.9,376.8 L305.0,378.7 L305.1,375.3 L305.1,375.3 L305.2,373.4 L305.3,374.3 L305.4,374.1 L305.5,374.2 L305.5,374.1 L305.6,374.7 L305.7,372.5 L305.8,372.7 L305.9,374.6 L305.9,373.2 L306.0,370.8 L306.1,371.0 L306.2,369.5 L306.3,371.8 L306.4,371.7 L306.4,368.2 L306.5,370.4 L306.6,369.6 L306.7,368.2 L306.8,369.3 L306.8,370.5 L306.9,371.3 L307.0,369.7 L307.1,370.9 L307.2,370.1 L307.3,369.1 L307.3,373.0 L307.4,373.0 L307.5,371.6 L307.6,371.1 L307.7,377.2 L307.7,373.7 L307.8,374.2 L307.9,377.4 L308.0,377.3 L308.1,382.6 L308.2,380.4 L308.2,379.3 L308.3,382.0 L308.4,381.0 L308.5,383.5 L308.6,385.5 L308.6,389.1 L308.7,388.2 L308.8,387.5 L308.9,386.8 L309.0,389.2 L309.1,388.7 L309.1,389.0 L309.2,386.5 L309.3,389.6 L309.4,388.9 L309.5,388.3 L309.5,385.5 L309.6,388.8 L309.7,385.7 L309.8,384.9 L309.9,385.5 L309.9,382.4 L310.0,385.3 L310.1,384.5 L310.2,384.6 L310.3,385.0 L310.4,383.3 L310.4,382.1 L310.5,382.2 L310.6,381.8 L310.7,383.9 L310.8,382.4 L310.8,380.5 L310.9,379.9 L311.0,382.1 L311.1,379.4 L311.2,382.1 L311.3,380.8 L311.3,380.0 L311.4,381.8 L311.5,379.9 L311.6,372.9 L311.7,382.3 L311.7,377.9 L311.8,379.4 L311.9,377.8 L312.0,379.2 L312.1,380.4 L312.2,376.9 L312.2,383.3 L312.3,375.0 L312.4,380.4 L312.5,379.2 L312.6,378.0 L312.6,375.9 L312.7,379.2 L312.8,378.7 L312.9,378.8 L313.0,378.7 L313.0,378.5 L313.1,381.1 L313.2,379.3 L313.3,379.7 L313.4,378.8 L313.5,379.8 L313.5,377.4 L313.6,377.8 L313.7,377.4 L313.8,376.3 L313.9,378.2 L313.9,378.1 L314.0,379.1 L314.1,375.3 L314.2,378.7 L314.3,381.3 L314.4,377.2 L314.4,379.4 L314.5,377.4 L314.6,378.4 L314.7,378.9 L314.8,375.1 L314.8,378.4 L314.9,377.5 L315.0,377.6 L315.1,378.7 L315.2,376.5 L315.3,381.5 L315.3,379.2 L315.4,376.1 L315.5,380.1 L315.6,379.1 L315.7,377.9 L315.7,375.6 L315.8,377.2 L315.9,379.9 L316.0,377.9 L316.1,380.0 L316.1,377.9 L316.2,376.5 L316.3,373.1 L316.4,378.8 L316.5,377.9 L316.6,377.3 L316.6,376.1 L316.7,378.1 L316.8,379.4 L316.9,382.5 L317.0,378.0 L317.0,377.2 L317.1,379.1 L317.2,378.1 L317.3,376.7 L317.4,377.0 L317.5,381.0 L317.5,375.3 L317.6,376.2 L317.7,378.9 L317.8,380.1 L317.9,378.7 L317.9,379.2 L318.0,378.1 L318.1,380.5 L318.2,379.1 L318.3,378.8 L318.4,377.1 L318.4,380.6 L318.5,374.8 L318.6,380.1 L318.7,383.3 L318.8,377.1 L318.8,379.5 L318.9,378.8 L319.0,378.3 L319.1,377.8 L319.2,378.5 L319.3,378.5 L319.3,377.8 L319.4,379.5 L319.5,379.1 L319.6,376.9 L319.7,377.9 L319.7,378.7 L319.8,378.8 L319.9,379.2 L320.0,379.6 L320.1,378.6 L320.1,376.4 L320.2,376.2 L320.3,378.6 L320.4,376.9 L320.5,377.2 L320.6,380.0 L320.6,378.6 L320.7,378.4 L320.8,375.2 L320.9,377.0 L321.0,379.6 L321.0,379.0 L321.1,381.5 L321.2,378.1 L321.3,376.7 L321.4,377.9 L321.5,377.4 L321.5,377.9 L321.6,378.8 L321.7,379.1 L321.8,381.4 L321.9,380.8 L321.9,378.9 L322.0,379.9 L322.1,380.5 L322.2,379.5 L322.3,379.1 L322.4,380.6 L322.4,377.8 L322.5,380.1 L322.6,378.0 L322.7,376.0 L322.8,378.4 L322.8,380.0 L322.9,374.3 L323.0,381.5 L323.1,379.5 L323.2,376.2 L323.2,380.7 L323.3,379.6 L323.4,381.5 L323.5,378.4 L323.6,375.7 L323.7,377.0 L323.7,377.2 L323.8,379.6 L323.9,378.5 L324.0,375.9 L324.1,377.4 L324.1,375.7 L324.2,381.1 L324.3,380.2 L324.4,379.6 L324.5,378.8 L324.6,379.5 L324.6,380.0 L324.7,379.3 L324.8,377.6 L324.9,376.3 L325.0,377.3 L325.0,379.1 L325.1,380.7 L325.2,377.5 L325.3,377.9 L325.4,378.5 L325.5,379.5 L325.5,376.5 L325.6,378.8 L325.7,376.5 L325.8,378.0 L325.9,377.6 L325.9,378.1 L326.0,377.8 L326.1,379.5 L326.2,377.2 L326.3,380.3 L326.3,378.4 L326.4,382.0 L326.5,377.0 L326.6,381.2 L326.7,379.1 L326.8,376.4 L326.8,376.1 L326.9,380.7 L327.0,378.2 L327.1,380.0 L327.2,377.4 L327.2,380.4 L327.3,378.8 L327.4,377.5 L327.5,379.3 L327.6,377.6 L327.7,380.4 L327.7,376.3 L327.8,376.9 L327.9,379.1 L328.0,377.6 L328.1,377.7 L328.1,380.7 L328.2,375.9 L328.3,376.6 L328.4,378.8 L328.5,376.9 L328.6,377.1 L328.6,378.9 L328.7,378.0 L328.8,376.3 L328.9,379.0 L329.0,378.8 L329.0,380.2 L329.1,379.7 L329.2,382.2 L329.3,377.2 L329.4,380.4 L329.5,380.5 L329.5,378.1 L329.6,379.3 L329.7,380.6 L329.8,378.9 L329.9,379.4 L329.9,378.5 L330.0,379.0 L330.1,381.0 L330.2,380.4 L330.3,377.2 L330.3,380.7 L330.4,378.2 L330.5,380.3 L330.6,379.1 L330.7,377.9 L330.8,377.5 L330.8,377.5 L330.9,381.2 L331.0,377.0 L331.1,375.7 L331.2,380.0 L331.2,381.6 L331.3,379.3 L331.4,378.7 L331.5,377.9 L331.6,380.4 L331.7,377.6 L331.7,377.9 L331.8,381.5 L331.9,377.0 L332.0,376.5 L332.1,379.2 L332.1,377.9 L332.2,378.1 L332.3,380.1 L332.4,378.8 L332.5,382.1 L332.6,381.4 L332.6,376.8 L332.7,379.6 L332.8,377.7 L332.9,378.9 L333.0,378.0 L333.0,375.8 L333.1,378.0 L333.2,380.4 L333.3,379.1 L333.4,378.0 L333.4,379.1 L333.5,380.6 L333.6,381.0 L333.7,378.5 L333.8,378.6 L333.9,377.5 L333.9,377.0 L334.0,382.2 L334.1,379.3 L334.2,380.0 L334.3,378.5 L334.3,379.3 L334.4,380.0 L334.5,378.2 L334.6,380.2 L334.7,380.7 L334.8,378.0 L334.8,378.5 L334.9,378.7 L335.0,381.9 L335.1,378.5 L335.2,379.4 L335.2,381.7 L335.3,379.0 L335.4,379.1 L335.5,380.0 L335.6,379.3 L335.7,375.5 L335.7,377.0 L335.8,380.0 L335.9,378.2 L336.0,374.6 L336.1,379.3 L336.1,377.9 L336.2,378.3 L336.3,383.0 L336.4,376.4 L336.5,376.3 L336.5,378.8 L336.6,378.1 L336.7,379.7 L336.8,380.6 L336.9,378.9 L337.0,381.2 L337.0,379.4 L337.1,380.9 L337.2,378.2 L337.3,376.3 L337.4,380.9 L337.4,378.1 L337.5,377.5 L337.6,378.6 L337.7,378.6 L337.8,379.4 L337.9,379.2 L337.9,377.4 L338.0,379.5 L338.1,376.5 L338.2,379.2 L338.3,381.3 L338.3,379.4 L338.4,377.4 L338.5,377.7 L338.6,378.1 L338.7,377.5 L338.8,379.1 L338.8,382.1 L338.9,380.5 L339.0,373.0 L339.1,382.2 L339.2,376.7 L339.2,379.8 L339.3,379.3 L339.4,375.6 L339.5,376.6 L339.6,379.2 L339.7,377.9 L339.7,378.1 L339.8,380.5 L339.9,376.9 L340.0,379.6 L340.1,376.0 L340.1,379.0 L340.2,380.5 L340.3,377.5 L340.4,378.5 L340.5,379.0 L340.5,376.4 L340.6,375.7 L340.7,380.6 L340.8,373.4 L340.9,377.3 L341.0,378.8 L341.0,375.7 L341.1,378.6 L341.2,378.5 L341.3,378.9 L341.4,378.5 L341.4,382.7 L341.5,381.2 L341.6,379.0 L341.7,379.4 L341.8,377.2 L341.9,378.8 L341.9,377.8 L342.0,377.3 L342.1,378.4 L342.2,379.7 L342.3,382.3 L342.3,377.6 L342.4,379.5 L342.5,380.1 L342.6,378.6 L342.7,380.6 L342.8,380.0 L342.8,379.8 L342.9,382.1 L343.0,379.8 L343.1,379.3 L343.2,377.7 L343.2,378.7 L343.3,376.1 L343.4,377.0 L343.5,379.4 L343.6,378.3 L343.6,377.2 L343.7,379.3 L343.8,376.9 L343.9,378.5 L344.0,378.3 L344.1,382.9 L344.1,379.1 L344.2,377.6 L344.3,380.0 L344.4,380.2 L344.5,380.1 L344.5,377.4 L344.6,378.7 L344.7,379.1 L344.8,378.7 L344.9,378.4 L345.0,379.4 L345.0,380.4 L345.1,379.0 L345.2,375.4 L345.3,380.5 L345.4,378.4 L345.4,378.3 L345.5,379.7 L345.6,379.8 L345.7,379.0 L345.8,378.8 L345.9,374.5 L345.9,376.8 L346.0,377.0 L346.1,378.6 L346.2,377.6 L346.3,381.4 L346.3,378.0 L346.4,378.6 L346.5,379.9 L346.6,378.8 L346.7,378.7 L346.7,378.6 L346.8,378.3 L346.9,381.7 L347.0,378.1 L347.1,382.5 L347.2,378.7 L347.2,379.9 L347.3,378.1 L347.4,378.7 L347.5,376.7 L347.6,378.7 L347.6,378.5 L347.7,380.2 L347.8,379.7 L347.9,382.0 L348.0,378.9 L348.1,380.9 L348.1,378.0 L348.2,378.3 L348.3,376.2 L348.4,377.9 L348.5,378.0 L348.5,376.1 L348.6,378.4 L348.7,376.6 L348.8,376.7 L348.9,376.0 L349.0,378.1 L349.0,378.8 L349.1,376.7 L349.2,376.9 L349.3,379.9 L349.4,381.3 L349.4,375.8 L349.5,379.1 L349.6,378.3 L349.7,376.6 L349.8,378.7 L349.9,378.1 L349.9,378.8 L350.0,377.5 L350.1,377.5 L350.2,377.3 L350.3,380.3 L350.3,375.1 L350.4,377.8 L350.5,375.7 L350.6,380.8 L350.7,378.7 L350.7,380.5 L350.8,380.4 L350.9,378.3 L351.0,377.0 L351.1,381.5 L351.2,378.6 L351.2,379.7 L351.3,376.7 L351.4,381.1 L351.5,377.5 L351.6,379.2 L351.6,378.5 L351.7,377.1 L351.8,378.3 L351.9,377.9 L352.0,380.0 L352.1,380.2 L352.1,378.2 L352.2,376.7 L352.3,378.3 L352.4,378.2 L352.5,379.1 L352.5,379.3 L352.6,379.1 L352.7,378.8 L352.8,379.2 L352.9,379.1 L353.0,380.4 L353.0,379.8 L353.1,380.1 L353.2,377.6 L353.3,375.9 L353.4,378.9 L353.4,381.4 L353.5,381.9 L353.6,378.2 L353.7,376.6 L353.8,378.5 L353.8,379.8 L353.9,381.0 L354.0,377.5 L354.1,375.7 L354.2,378.7 L354.3,382.6 L354.3,378.6 L354.4,376.8 L354.5,378.4 L354.6,377.2 L354.7,377.5 L354.7,380.1 L354.8,378.2 L354.9,378.3 L355.0,382.8 L355.1,380.3 L355.2,379.9 L355.2,376.2 L355.3,377.8 L355.4,378.7 L355.5,380.0 L355.6,377.7 L355.6,382.5 L355.7,380.7 L355.8,380.5 L355.9,376.7 L356.0,379.2 L356.1,378.7 L356.1,380.3 L356.2,377.3 L356.3,379.5 L356.4,378.5 L356.5,377.4 L356.5,377.8 L356.6,377.9 L356.7,381.2 L356.8,377.2 L356.9,376.1 L356.9,376.3 L357.0,382.1 L357.1,378.1 L357.2,374.6 L357.3,376.9 L357.4,375.8 L357.4,377.6" fill="none" stroke="#2b12e6" stroke-width="0.8" stroke-linejoin="round"/></g>
<rect x="62.5" y="264.0" width="294.0" height="164.0" fill="none" stroke="#000" stroke-width="1.2"/>
<line x1="56.5" y1="425.50" x2="62.5" y2="425.50" stroke="#000" stroke-width="1.2"/>
<text x="50.2" y="430.1" font-size="13.6" fill="#111" text-anchor="end" >0</text>
<line x1="58.9" y1="407.00" x2="62.5" y2="407.00" stroke="#000" stroke-width="2.5"/>
<line x1="56.5" y1="388.50" x2="62.5" y2="388.50" stroke="#000" stroke-width="1.2"/>
<text x="50.2" y="393.1" font-size="13.6" fill="#111" text-anchor="end" >2</text>
<line x1="58.9" y1="370.00" x2="62.5" y2="370.00" stroke="#000" stroke-width="2.5"/>
<line x1="56.5" y1="351.50" x2="62.5" y2="351.50" stroke="#000" stroke-width="1.2"/>
<text x="50.2" y="356.1" font-size="13.6" fill="#111" text-anchor="end" >4</text>
<line x1="58.9" y1="333.00" x2="62.5" y2="333.00" stroke="#000" stroke-width="2.5"/>
<line x1="56.5" y1="314.50" x2="62.5" y2="314.50" stroke="#000" stroke-width="1.2"/>
<text x="50.2" y="319.1" font-size="13.6" fill="#111" text-anchor="end" >6</text>
<line x1="58.9" y1="296.00" x2="62.5" y2="296.00" stroke="#000" stroke-width="2.5"/>
<line x1="56.5" y1="277.50" x2="62.5" y2="277.50" stroke="#000" stroke-width="1.2"/>
<text x="50.2" y="282.1" font-size="13.6" fill="#111" text-anchor="end" >8</text>
<line x1="62.70" y1="428.0" x2="62.70" y2="434.5" stroke="#000" stroke-width="1.2"/>
<text x="63.00" y="447.5" font-size="13.5" fill="#111" text-anchor="middle" >-100</text>
<line x1="88.20" y1="428.0" x2="88.20" y2="432.0" stroke="#000" stroke-width="1.2"/>
<line x1="113.70" y1="428.0" x2="113.70" y2="434.5" stroke="#000" stroke-width="1.2"/>
<text x="114.20" y="447.5" font-size="13.5" fill="#111" text-anchor="middle" >0</text>
<line x1="139.20" y1="428.0" x2="139.20" y2="432.0" stroke="#000" stroke-width="1.2"/>
<line x1="164.70" y1="428.0" x2="164.70" y2="434.5" stroke="#000" stroke-width="1.2"/>
<text x="165.20" y="447.5" font-size="13.5" fill="#111" text-anchor="middle" >100</text>
<line x1="190.20" y1="428.0" x2="190.20" y2="432.0" stroke="#000" stroke-width="1.2"/>
<line x1="215.70" y1="428.0" x2="215.70" y2="434.5" stroke="#000" stroke-width="1.2"/>
<text x="216.20" y="447.5" font-size="13.5" fill="#111" text-anchor="middle" >200</text>
<line x1="241.20" y1="428.0" x2="241.20" y2="432.0" stroke="#000" stroke-width="1.2"/>
<line x1="266.70" y1="428.0" x2="266.70" y2="434.5" stroke="#000" stroke-width="1.2"/>
<text x="267.20" y="447.5" font-size="13.5" fill="#111" text-anchor="middle" >300</text>
<line x1="292.20" y1="428.0" x2="292.20" y2="432.0" stroke="#000" stroke-width="1.2"/>
<line x1="317.70" y1="428.0" x2="317.70" y2="434.5" stroke="#000" stroke-width="1.2"/>
<text x="318.20" y="447.5" font-size="13.5" fill="#111" text-anchor="middle" >400</text>
<line x1="343.20" y1="428.0" x2="343.20" y2="432.0" stroke="#000" stroke-width="1.2"/>
<text x="200.4" y="465.6" font-size="14.5" fill="#111" text-anchor="middle" >Frequency (MHz)</text>
<text transform="translate(31.5,357.7) rotate(-90)" font-size="14.6" fill="#111" text-anchor="middle">Intensity (arb. units)</text>
<line x1="69.5" y1="272.5" x2="102" y2="272.5" stroke="#b3211c" stroke-width="2.8"/>
<text x="110.5" y="279" font-size="14.35" fill="#111" text-anchor="start" >1470 nm clock laser</text>
<line x1="69.5" y1="290.5" x2="102" y2="290.5" stroke="#2b12e6" stroke-width="2.8"/>
<text x="110.5" y="296.6" font-size="14.3" fill="#111" text-anchor="start" >MTS error signal</text>
<text x="98" y="409.8" font-size="14.1" fill="#111"><tspan font-style="italic">F</tspan>=4-<tspan font-style="italic">F’</tspan>=3</text>
<text x="178.5" y="409.8" font-size="14.1" fill="#111"><tspan font-style="italic">F</tspan>=4-<tspan font-style="italic">F’</tspan>=<tspan font-style="italic">4</tspan>&amp;3</text>
<text x="274.3" y="409.8" font-size="14.1" fill="#111"><tspan font-style="italic">F</tspan>=4-<tspan font-style="italic">F’</tspan>=<tspan font-style="italic">4</tspan></text>
<defs>
<radialGradient id="beam" gradientUnits="userSpaceOnUse" cx="308.4" cy="303.8" r="65" gradientTransform="translate(308.4,303.8) scale(1,1.06) translate(-308.4,-303.8)">
<stop offset="0" stop-color="#ffffff"/><stop offset="0.08" stop-color="#ffffff"/>
<stop offset="0.105" stop-color="#f23a24"/><stop offset="0.135" stop-color="#f2601c"/>
<stop offset="0.165" stop-color="#f0a81c"/><stop offset="0.19" stop-color="#e0e624"/>
<stop offset="0.225" stop-color="#40dc38"/><stop offset="0.255" stop-color="#22d07c"/>
<stop offset="0.285" stop-color="#20b8d8"/><stop offset="0.32" stop-color="#2038e4"/>
<stop offset="0.365" stop-color="#3a1cd0"/><stop offset="0.41" stop-color="#7a1cc0"/>
<stop offset="0.455" stop-color="#c4269c"/><stop offset="0.52" stop-color="#a81e92"/>
<stop offset="0.62" stop-color="#801884"/><stop offset="0.8" stop-color="#62167a"/><stop offset="1" stop-color="#521470"/>
</radialGradient>
<filter id="wob" x="-5%" y="-5%" width="110%" height="110%"><feTurbulence type="fractalNoise" baseFrequency="0.09" numOctaves="2" seed="4" result="n"/><feDisplacementMap in="SourceGraphic" in2="n" scale="5" xChannelSelector="R" yChannelSelector="G"/></filter>
<clipPath id="clipi"><rect x="264" y="263.2" width="93" height="81.4"/></clipPath>
</defs>
<g clip-path="url(#clipi)"><rect x="258" y="257" width="105" height="94" fill="url(#beam)" filter="url(#wob)"/></g>
<text x="14.5" y="268.4" font-size="20.5" fill="#000" text-anchor="start" font-weight="bold">c</text>
</g>
</svg></body></html>
